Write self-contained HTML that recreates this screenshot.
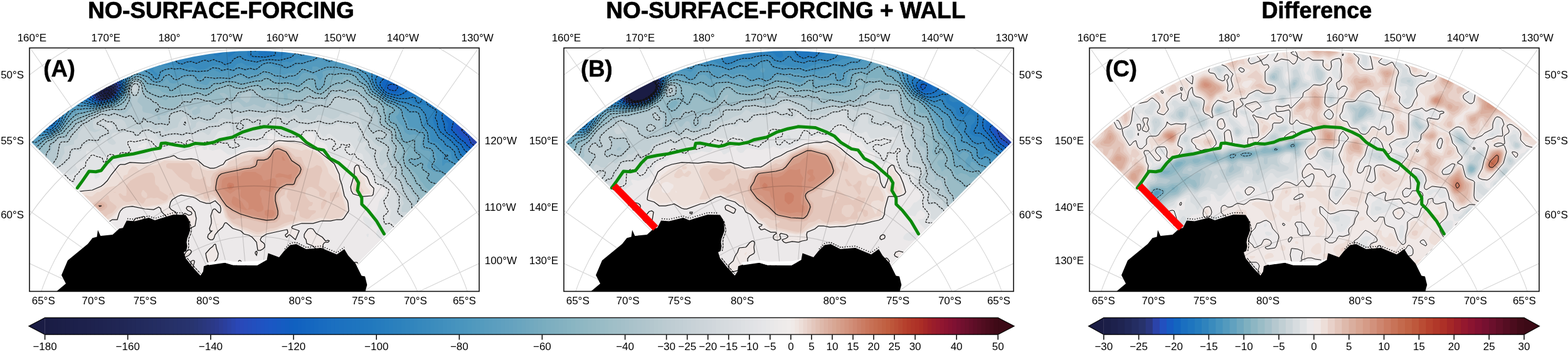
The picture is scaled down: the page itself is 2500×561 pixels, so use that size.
<!DOCTYPE html><html><head><meta charset="utf-8"><title>figure</title><style>html,body{margin:0;padding:0;background:#fff;overflow:hidden}svg{display:block}</style></head><body><svg width="2500" height="561" viewBox="0 0 2500 561"><rect width="2500" height="561" fill="#fff"/><defs><clipPath id="fr0"><rect x="47" y="76.4" width="717" height="388"/></clipPath><clipPath id="wd0" clip-path="url(#fr0)"><path d="M405.5 587 L50.2 226.7 A506.0 506.0 0 0 1 760.8 226.7 Z"/></clipPath><mask id="mwd0" maskUnits="userSpaceOnUse" x="0" y="0" width="2500" height="561"><path d="M405.5 587 L50.2 226.7 A506.0 506.0 0 0 1 760.8 226.7 Z" fill="#fff"/></mask><clipPath id="fr1"><rect x="899" y="76.4" width="717" height="388"/></clipPath><clipPath id="wd1" clip-path="url(#fr1)"><path d="M1257.5 587 L902.2 226.7 A506.0 506.0 0 0 1 1612.8 226.7 Z"/></clipPath><mask id="mwd1" maskUnits="userSpaceOnUse" x="0" y="0" width="2500" height="561"><path d="M1257.5 587 L902.2 226.7 A506.0 506.0 0 0 1 1612.8 226.7 Z" fill="#fff"/></mask><clipPath id="fr2"><rect x="1737" y="76.4" width="717" height="388"/></clipPath><clipPath id="wd2" clip-path="url(#fr2)"><path d="M2095.5 587 L1740.2 226.7 A506.0 506.0 0 0 1 2450.8 226.7 Z"/></clipPath><mask id="mwd2" maskUnits="userSpaceOnUse" x="0" y="0" width="2500" height="561"><path d="M2095.5 587 L1740.2 226.7 A506.0 506.0 0 0 1 2450.8 226.7 Z" fill="#fff"/></mask></defs><g clip-path="url(#fr0)"><g mask="url(#mwd0)" fill-rule="evenodd"><rect x="43" y="72" width="724" height="396" fill="#1a1c44"/><path d="M45 72l722 0 0 396-724 0 0-396zM166 144l-1 2 2 3 4 0 3-3 0-2-3-1z" fill="#1b1e47"/><path d="M45 72l722 0 0 396-724 0 0-396zM165 142l-3 4 3 4 8 0 4-4-1-4-3-1-4 0z" fill="#1d214c"/><path d="M45 72l722 0 0 396-724 0 0-396zM165 140l-5 4 0 4 3 4 8 0 4-1 3-3 1-4-2-4-6-1z" fill="#1f2451"/><path d="M45 72l722 0 0 396-724 0 0-396zM167 138l-6 4-3 4 1 5 4 3 6 0 5-2 3-2 3-4 1-4-2-4-4-1z" fill="#212859"/><path d="M45 72l722 0 0 396-724 0 0-396zM171 136l-8 3-6 5-1 4 3 6 4 1 8-1 6-2 3-4 2-6 0-4-5-2z" fill="#242d62"/><path d="M45 72l722 0 0 396-724 0 0-396zM177 134l-12 3-6 3-5 8 1 5 4 3 4 1 10-2 5-3 5-6 1-8-3-3z" fill="#27326b"/><path d="M45 72l722 0 0 396-724 0 0-396zM170 134l-10 4-7 8-1 4 2 4 3 2 6 2 10-2 6-3 4-5 3-8 0-4-1-2-6-1z" fill="#2a3780"/><path d="M45 72l722 0 0 396-724 0 0-396zM174 132l-13 4-7 6-4 8 4 6 5 3 6 0 10-3 6-4 6-10 1-4-1-4-2-2-2 0z" fill="#2b43a9"/><path d="M45 72l722 0 0 396-724 0 0-396zM181 130l-10 2-12 4-9 10-2 4 1 4 5 4 7 2 12-2 7-4 6-8 4-8-1-4-2-3zM750 216l3 11 8 5 4 0 1-2-2-4-13-10z" fill="#2250bf"/><path d="M45 72l722 0 0 143-6-1-8-9-8-1-14-5-2 0-2 3 0 4 6 8 10 7 6 9 5 4 5 7 8 3 0 224-724 0 0-396zM171 130l-12 5-9 9-4 8 5 6 8 3 14-3 8-3 5-7 4-6 1-4 0-4-2-4-4-1z" fill="#165bc2"/><path d="M45 72l722 0 0 132-28-6-8-4-6-2-2 2-3 12 1 2 13 14 7 5 4 5 6 5 6 8 10 3 0 220-724 0 0-396zM177 128l-8 1-12 6-9 9-4 10 7 6 8 2 14-3 8-3 9-12 2-4 0-6-1-4-2-2zM619 136l-1 2 1 4 8 3 4-1 3-6-1-2-6-1-4 0z" fill="#1365c0"/><path d="M45 72l722 0 0 128-14-2-3-2-5-5-6 2-15-9-13 1-2 1 0 2 6 10-2 8 1 4 9 6 7 8 9 6 3 6 7 5 6 7 4 2 8 2 0 216-724 0 0-396zM184 126l-13 1-14 6-13 15-3 6 1 2 7 5 8 2 16-3 9-4 10-12 2-8-1-8-4-1zM614 126l-5 6 0 4 6 8 3 2 9 3 6 0 3-1 3-4 5-4-2-4-3-2-14-6z" fill="#1a6fc0"/><path d="M45 72l722 0 0 123-10 0-3-3-1-12-2-1-6 5-6 3-13-7-11 0-8-4-2 1-1 1-1 4 4 22 3 6 10 8 7 8 8 6 4 8 2 2 8 5 14 11 4 7 0 203-724 0 0-396zM420 80l0 2 3 2 3-2 0-2-3-1zM610 124l-5 6-1 4 4 6 8 8 19 5 14-3 3-2 1-2-1-2-5-8-5-4-15-7-10-1zM168 126l-11 5-9 9-8 10-2 6 1 2 10 5 10 1 18-4 8-6 9-12 1-8 0-6-2-2-6-1zM87 190l-7 6-3 6 4 1 4-3 7-10-3-1z" fill="#1e75bf"/><path d="M45 72l369 0-2 10 0 4 3 3 8 1 10-2 3-2 1-4-5-10 296 0 3 3 4 0 2-1 1-2 29 0 0 59-6 1-1 4 3 10-4 4-4-1-4-3-4-8-8-9-4-1-2 2 4 20 6 8 2 8 0 2-6 8-4 2-17-4-13-11-12-3-4-2-4 2-3 4 1 2 12 7 3 3-1 12 3 14 3 7 16 13 6 7 6 5 4 10 2 2 10 5 6 5 7 4 7 12 0 196-724 0 0-396zM678 88l-3 4 1 8 3 5 2-1 1-2 2-12-1-3zM738 98l1 2 0-2zM710 110l-3 2-1 2 3 3 5-1 2-2-1-2-2-2zM673 120l-1 6 3 3 8 3 6-4 1-2-1-2-6-1-8-4zM604 122l-3 4-1 4 5 10 10 10 16 5 18 0 14-3 3-4 1-4 2-4-1-6-3-4-4 1-4 6-2 1-9-8-17-8-12-1zM168 124l-11 5-19 19-3 4 0 6 12 6 10 1 20-4 6-3 4-4 6-7 2-5 2-8-1-8-2-2-5-1zM86 186l-10 12-2 6 1 2 4 0 4-1 5-5 5-6 2-6-2-2-4-1zM765 164l2 0 0 4-3-2z" fill="#257cbe"/><path d="M45 72l292 0 6 6-2 9 1 1 5 2 8-5 2-3 1-4-4-6 43 0-1 6-2 4 0 6 5 4 10 2 38-4 8-4 6-4 10-4 2-2 1-4 11 0 2 4 2 0 8 0 2 0 2-4 169 0-3 4 1 8-1 8 2 9 4 5 1 4-13 13-8 3-6-3-10-1-8-4-12-1-8 2-8 0-3 1-2 6 1 4 5 10 13 12 18 6 22 1 6 5 4 2 12 1 14 10 2 3-3 6 0 4 2 8 9 15 18 14 9 11 3 8 4 6 9 2 5 5 8 4 4 9 6 8 0 188-724 0 0-396zM371 82l-6 2-2 2 0 3 2 2 10-7 0-2zM286 94l1 2 4-2-2-1zM168 122l-11 5-12 12-10 8-3 5 0 8 15 6 10 1 20-5 6-3 5-5 7-8 1-4 2-18-1-1-4-1-14 1-8-1zM90 182l-5 2-9 10-5 8 0 5 4 2 6-1 11-10 4-6 2-6-1-2-2-1zM453 72l6 0-2 3-2 0zM701 72l19 0 1 2 5 4 1 2 0 2-4 4 3 6-3 6-6 2-4-5-2-1-10 2-4-3-2-3 0-2 6-6 0-4-1-6zM751 72l11 0-2 8 3 6-1 2-5 1-8-1-3-2 4-6 0-8zM691 98l4-1 4 0 1 7-1 5-8 3-4-1-1-3 2-6zM707 125l6 0 13 9 1 10 0 2-2 2-6 3-4-2-5-7-10-4-1-2 0-2zM719 156l2 2 0 2-2 3-3-3 1-3zM729 159l6 0 2 3-2 6-4 3-4-1-2-4 1-4z" fill="#2f83bd"/><path d="M45 72l235 0-3 4-6 1-3 1-3 4 0 4 4 5 9 1 3 6 4 3 6 1 14-4 8 3 12-5 3 0 5 2 4-2 4-1 6 3 6 1 6 4 9-3 5-6 10-4 6 5 10 2 10 2 10-3 10-1 16 1 6-1 14-4 6-6 2 0 8 3 4-1 9-5 7-2 2-2 1-6 119 0 2 3 2 1 7-4 1 6 4 4 3-2 1-2-2-6 17 0-1 12 4 8 2 8 1 8-2 4-9 5-8-1-5-2 4-16 6-8 0-2-1-1-4-1-12 4-3 2-1 4 2 10-3 4-5 2-6 0-8 4-10-1-6 1 1 12 6 12 15 14 22 8 12 2 8 4 8 2 5 2 8 10 4 16 10 8 8 14 7 5 4 7 6 2 2 1 5 5 2 8 5 7 4 2 6 1 6 5 6 3 7 12 7 18 0 172-724 0 0-396zM166 120l-11 5-8 10-17 11-2 6 1 11 18 4 10 1 22-6 6-3 6-7 5-6 2-6 3-16-1-4-5-1-16 2-8-2zM88 180l-6 4-10 12-4 8 0 4 1 2 8 1 4-1 10-7 5-7 5-14-6-3zM309 72l8 0-4 6-4 2-2-2z" fill="#3a8bbd"/><path d="M45 72l43 0 9 9 4 2 2-1 1-2 0-8 16 0-3 6 0 2 2 1 2-1 1-2 0-6 128 0 0 6 2 8 0 2-5 3-6-2-3 1-4 20 9 5 6 7 2-1 0-3-6-5-1-3 3-3 12-3 10 0 6-1 4 1 20 5 6-3 10 5 6 0 6-1 10-5 4-1 9 0 7 4 8-1 6 2 7-7 7-2 4 2 4 3 6-1 8 2 10-6 6-2 8 0 16 2 10-2 6 2 12-7 4 3 6 0 11-4 6-6 6-4 3-3 2 0 4 2 6 0 6 5 4 0 2-2 1-4-5-5-1-3 77 0-1 6 1 2 6 2 4 9 6 5 0 4-2 3-6 2-8 6-10-3-11 6 11 27 20 16 20 8 10 2 8 7 8 0 4 2 5 6 4 18 9 8 2 15 2 2 9 3 9 11 8 2 3 1 1 2 1 8 3 4 10 6 8 2 6 4 9 12-1 12 12 12 0 164-724 0 0-396zM118 102l-5 6-6 4 1 2 5 1 4 5 2 1 10-2 3-3 1-3 4-1 3-6 0-2-3 0-4 2-2 5-4-1-8 1-1-1 5-6-2-2zM167 116l-6 3-8 1-2 2-2 7-6 6-16 5-7 12 5 12 2 2 10 1 8 2 12 0 24-7 6-4 6-6 4-5 2-5 4-20 0-4-6-3-16 2-8-2zM92 176l-9 4-10 11-8 13-1 4 1 5 6 1 10-2 11-8 5-6 8-18-6-5-4 0z" fill="#4693be"/><path d="M45 72l20 0 0 2 4 2 16 4 5 4 11 6 1 4 0 6 2 2 0 2-4 8 1 8-2 0-16-4-7 0-3 2 0 6 2 4 8 4 2 6 5 4 2 6 5 4 4 1 4-3 0-8 2-1 4-1 4 1 3 1 0 2-4 10 4 8-1 2-6-5-6 0-2 2-6 9-14 7-4 3-6 6-12 18-1 4-1 11 20-5 14-9 7-9 8-16 9-10 2-1 18 0 14 2 24-5 11-6 12-12 5-20 5-10-1-4-6-4-6-1-8 2-4-4-2-1-4 3-4 0-3-3 0-2 6-8 0-4-7-4-2 0-8 5-2 0-4-4-6 2-14-11-1-2 6-6 13 0-3 2 9 3 4-2 0-3 33 0 1 4 4 3 4-2 1-5 25 0 0 6 4 6 0 4-1 10-5 14 12 7 6 7 4 1 4-1 6-10 4-3 10-3 6 2 8 0 14 3 8 0 6 1 18-2 6-3 2 0 10 5 12-4 8 3 8-5 12 3 8-2 10 2 10-9 8-2 4 0 6 4 8 1 10 3 12-2 6-5 10-1 10-3 8-1 6-3 4 0 12 5 10-2 6 1 8 4 8 0 18 9 10 7 6 10 6 13 4 4 18 13 12 5 13 6 7 8 4 2 2 1 6-2 4 2 2 3 4 16 8 8 2 4 0 14 2 3 9 3 13 14 0 18 2 0 3-4 3-1 4 1 6 2 4 7 14 1 4 2 3 4 1 4-1 12 19 22 0 154-724 0 0-396zM63 158l-1 2 1 2 1-4zM50 162l-1 2 0 2 2 1 2-1 2-2-2-1zM75 72l3 0-1 2-2 1-1-3zM539 72l63 0-13 10-4 1-4-1-3 2 1 4 5 6 0 2-3 3-4 2-8-8-2 0-6 7-4 2-11-8-5-16-3-6zM155 97l2 0 5 5 3 4-3 4-5 4-5-2-3-2 0-2 4-10zM135 124l6-1 3 3-1 2-4 4-6-1-2-3z" fill="#539abe"/><path d="M45 72l6 0 4 8 0 4-12 1 0-13zM177 73l2 7-1 2-3 1-1-3 1-5zM213 73l10-1 1 6 4 8-3 14-6 4-6-1-8-6-10-3-3-4 0-2 2-2 9-1 4-2zM545 72l14 0-2 8-2 3-2 0-8-7-2-4zM77 89l6 5 8-3 2 1-5 12-3 4-14 2-4-1-2-3 1-2 8-8zM499 106l6 0 6 3 10-3 14-1 18 4 16 5 4 2 14 15 5 11 3 4 22 16 12 4 11 8 5 10 4 6 3 12 13 3 4 3 6 2 2 2 1 4-2 10 1 5 2 2 8 3 4 2 3 4 1 6 2 4-1 4-5 8 2 4 10 4 24 10 4 1 4-2 6 7 2 9 8 7 8 11 8 3 0 150-724 0 0-285 7-3 5-3 6 1 2-6 9-6 1-2-5-16 1-1 2-1 5 4 5 2 4 3 7 1 3 4 1 4-3 4-10 4-10 10-5 2-5 12-9 8-1 4 2 6-2 8 1 2 1 1 4 0 8-5 14-5 14-9 6-8 10-17 4-5 4-3 4-1 6 1 8-1 14 0 26-6 8-3 13-13 7-23 4-5 6-5 4 0 14 2 5 3 5 6 8 2 5-2 4-6 3-3 8-2 2 0 4 5 4 2 2 0 5-4 5-1 12-1 4 1 6 6 4 1 5-6 3-1 16 4 14-1 8 1 4-1 8-4 6-1 4 0 8 4 2 0 4-3 6 1 4-1 8-6 2-1 20 7 12 1 8-3 6 1 4-1 4-2 6-6 4 0 12 4 1-2 0-4zM45 122l4 0 10 1 4 6 7 5 1 4-6 5-4 5-4 2-2-3 0-9-2-3-4-1-6 2 0-13z" fill="#61a1bf"/><path d="M217 84l2 2-2 2-2-2zM521 112l16-1 22 3 8 3 18 17 5 10 3 3 14 9 10 8 14 6 4 4 2 4-2 4-4 4 1 2 5 9 6 5 2 8 2 2 6 3 8-1 10 4 2 4-3 12 1 3 4 2 8 1 3 2 1 4-6 18 1 4 11 6 10 2 4 4 1 4 5 4 8 1 2 5 8 6 0 6 3 4 5 2 8 1 5 5 3 2 12 3 0 145-724 0 0-231 18-9 10-7 10-4 6-5 8-4 12-17 10-11 6-3 6 0 8-2 12-1 36-9 10-9 4-5 6-21 2-4 4-4 6-2 4 0 10 3 3 1 6 6 11 3 8-1 6-6 2 0 4 6 4 1 4 0 14-8 12-3 4 2 2 6 2 2 16 4 3-2 3-5 2-1 32-1 10-5 4 0 4 1 6 4 4 1 16-5 8-5 8 2 10 6 10 2 16 0 10-1 6-9 4-2 4 0 4 1 4 2 7 1 5 8 2 0 4-6 0-3-1-3 1-2zM51 186l4-1 2 1 2 2 0 3-3 3-13 7 0-9 4-1zM43 206l6 7 2 3-2 6-2 3-4 1z" fill="#70a8bf"/><path d="M525 118l8 1 12-2 6 1 8 0 6 2 4 4 4 6 10 6 8 12 16 10 8 8 12 7 2 3-1 2-7 4 0 10 10 6 7 14 3 10 2 3 6 2 8-3 2-1 2 1 1 18 8 6-1 4-8 2-6-1-2 1-1 2 1 3 10 6 6-4 4-1 0 8 1 2 11 8-4 4 0 2 4 6 10 3 8-2 8 3 4 4 2 8 1 2 11 9 6 1 0 6 2 5 4 3 13 4 1 2 1 6 8 6 3 8-3 10 3 4 0 96-724 0 0-226 9-2 20-18 11-4 6-5 8-4 10-13 10-10 8-5 6 0 36-10 14-3 6-3 10-8 3-5 7-24 4-3 6-3 5 0 7 4 6 7 26 5 6 0 4 6 2 1 18-11 16 5 20 3 7-2 6-6 3-1 8 0 14-3 10 1 12 3 22-5 8 0 8-4 4 1 8 6 10 1 10-1 10 2 8 4 3-2 13-10 8 0 3 2 3 14 4 1 7-7 3-12 3-4zM44 214l1 2 0 2-2 1 0-5zM765 334l2 2-2 2-2-2 0-2z" fill="#7fb0c0"/><path d="M217 124l4 1 6 3 6 10 4 4 4 0 2-2 10 2 6 5 6 1 8 3 38-5 8 0 8 3 8-3 10-7 18-6 6 1 8 3 6 2 5-1 9-3 14-1 4 0 6 4 6-3 6 3 8-1 8 1 8-2 18 7 4-1 6-6 6-2 2 1 10 11 6 1 4-1 12-10 2-4-1-4 1-1 8 1 10-1 3-3 3-1 4 0 4 1 5 6 17 8 6 10 18 12 12 12 1 2-2 6 2 14 11 9 4 7 3 12 14 18 0 4-3 8 0 8 19 20 4 8 4 4 4 6 7 6 10 5 8 1 12 6 14 11 3 3 3 8 2 3 10 6 8 4 6 5 0 6-6 8 0 6 1 4 5 6 1 2-1 12 1 14 2 6-1 8 4 5 0 35-724 0 0-221 2-1 8-2 7-6 5-6 8-8 10-3 6-6 8-3 18-20 8-6 40-13 22-4 6-4 8-7 3-4 3-14 3-10 3-3z" fill="#8db6c3"/><path d="M217 126l4 1 5 3 3 6 2 8 4 4 16 8 14 4 4-4 2 0 8-1 8-2 18-1 8-2 4 0 8 3 4 1 6-2 10-8 18-6 4 0 6 4 12 0 14-4 12 0 8 7 2 1 6-3 14 1 11 6 1 10 2 1 4-3 0-2-1-6 1-1 10-2 10 1 8-6 4 0 12 8 8 1 4-1 14-12 16-3 8-3 8 2 8 4 9 2 2 2 2 6 2 2 11 8 8 4 4 4 2 4 1 8 3 8 0 8 6 7 6 3 4 4 1 4 0 8 9 12 2 4 1 6-2 8 3 12 10 14 3 8 3 3 2 5 7 6 2 6 9 4 10 8 1 4-5 12 1 4 3 1 6-1 3-2 2-4-1-10 2-2 2 1 6 4 12 5 6 7 5 9 3 12 0 16 4 2 4-3 2 3-2 4-7 6 0 4 5 7 2 0 4-4 2 0 2 3 3 8-3 14 6 6 2 8 8 10 0 4-2 4 2 3 0 17-724 0 0-202 5-8 1-6 14-12 12-14 10-4 6-6 10-3 4-6 6-5 8-9 40-17 12-3 16-2 8-5 8-10 2-14 3-10 4-4z" fill="#9abcc6"/><path d="M217 128l4 1 3 3 3 4 2 11 6 7 16 8 6 6 10 4 10-1 3-1 5-4 3-6 3-1 10 0 8-3 6-2 12 4 10 1 8 4 4 1 5-2 2-2 1-2-2-4-5-4 1-2 6 0 6 4 4 5 2 0 4-3 5-8 11-1 10-3 4 0 5 2 13 10 6 2 10 2 10 6 4 2 10-2 8-8 6 3 6-1 10-8 4 1 6 3 16 1 10-11 4-2 6 1 12-1 5-2 7 0 12 4 2 2 2 4 8 6 6 9 4 2 4-1 4 2 1 10 4 8 0 6 0 4 10 8 5 3 3 3 1 14 6 6 2 4-1 6-3 8 1 4 8 12 2 6 1 7 5 5 3 8 5 4 6 12 11 11 0 2-5 3-1 4 2 4 4 4 0 8 2 2 6 2 14 0 8 3 6 1 6 4 8 4 4 4 0 4-5 4-2 6 8 6 1 6 5 6-2 8 1 4 8 20 2 1 8 1 2 1 6 9 1 4-2 12 8 14-723 0 0-189 4-3 1-2 0-8 3-3 7-3 1-2 1-8 1-2 10-4 6-5 0-9 2-2 6-2 8-8 10-2 18-20 40-19 11-3 17 0 8-4 7-10 2-4 0-12 3-10 4-5zM66 248l1 3 2 1 2-2-2-3zM429 149l2 0 2 1-2 3-3-1 0-2z" fill="#a7c1ca"/><path d="M217 130l5 2 3 6 0 12-5 8-1 4 8 8 0 6 2 3 12 2 10 5 0 4 2 1 3-1 0-2-2-2 2-2 7 0 7-6 11-3 12-6 4 0 4 6 2 0 7-5 3 0 2 2-8 4-1 2 1 4 4 2 8-4 1-4-2-4 5-3 8-2 2-1 4 5 8 0 8-3 12-1 14-5 4 3 6 6 10-2 6-3 12 5 4 1 2-2 1-4 3-2 2 1 8 5 14 2 6-3 8 1 6-5 4-1 12 1 4-5 2 0 8 1 8-3 10 3 2-1 8-10 12-3 16 7 10-2 10 6 4 3 10 15 6 4 5 6 1 10 1 4 17 10 1 2 0 4-2 8 5 12 1 4-2 10 4 6 9 8 1 4-1 12 6 6 4 9 6 7 4 8 5 4 0 16 5 8 1 6 3 3 22 7 4 8 6 4 4 10 8 10 4 9 5 5 5 11 2 7 4 8 2 6 4 4 8-1 3 3 2 10-1 8 4 6 1 6-715 0 0-185 9-5 1-2 1-6 1-2 8-3 6-5 9-2 0-2-1-10 5-8 1-6 10-10 4-1 8 0 2-1 4-7 14-15 18-10 18-9 20-3 16 5 4-2 10-11-2-6 1-6-3-10 1-4 3-9zM397 146l2 1 2 1 0 4-4 10-4 2-10-7 0-3 2-4z" fill="#b5c8cf"/><path d="M213 134l4-1 2 1 3 4-1 6-1 4-5 4-4-2-2-5 1-7zM539 154l12 2 6 3 8-1 8 4 7 8 3 9 9 7 0 6-5 8 2 5 6 7 10-4 4 1 7 5-1 3-4 4-8-1-3 0 0 2 3 2 10 5 6 5 1 4-3 8 1 4 3 6 4 10 6 1 1 7-2 8 1 2 7 4 5 16 8 14 5 6 2 14 9 10 12 4 5 4 14 18 3 8 8 7 3 5 1 9 8 6 3 3 0 6 4 8 2 10 9 9 8 0 2 1 0 4-2 8 5 10-709 0 0-150 2-6-2-7 0-17 12-6 6-10 16-4 4-3 6-7 4-7 5-23 3-2 8 0 2-1 5-9 17-18 10-4 6-5 16-7 12 2 8-3 16 6 2 0 6-3 5 4 6 8 3 2 4-2 4-8 6 6 6 0 6 4 10-1 8 2 4-1 1-2 0-10 2-4 3-2 14-4 12 7 8 7 8-3 14 4 8-2 3-3 3-6 6-1 5-5 5-1 6 1 2 7 4-4 2-1 8 3 14-3 24 3 8-3 22 3 10-1 8-3 5-7 3 0 4 2 1 8 3 1 8-3 6-5 4-2 10-1 8 3 6-5 6-10z" fill="#c1cfd4"/><path d="M215 136l2 1 1 3-1 4-2 3-2-1-2-4 1-4zM563 178l8 1 2 2 0 7 4 10 8 18 6 5 4 5 8 7 7 1 1 2-6 8 0 15 2 4 2 1 4-5 2-1 2 2 0 5-2 2-4 1 0 2 8 5 3 3 2 12 8 6 4 8 5 7 1 9 2 4-3 5-1 7 1 2 6 0 2 1 18 14 10 3 2 4 8 8 8 16 12 10 1 14 5 8 6 6 8 18 6 6 3 4 3 12 5 6-701 0 0-141 3-3 7-16 0-2-4-6 0-4 4-6 8-8 20-8 6-7 5-5 5-6 3-8 3-4-1-10 3-1 13-3 0-6 6-4 1-8 8-10 3-2 3 1 3 7 9 3 8-3 1-2-1 0-6 1-4-3-1-8 1-3 2-2 14-5 8 4 18 0 3 0 5 4 4 9 4 2 6 0 8 2 8-3 10-2 8 5 8-4 2 0 2 1 4 5 2 1 10-5 8-2 2-7 5-8 3-2 5 0 3 3 4 9-3 6 1 2 2 1 7-5 1-6 4-3 12 4 18-2 3-5 5-2 8 2 6 0 4-1 4-3 20-1 8 3 8-2 6 1 14-5 8 2 10 1 8 4 4-2 6-5 4 2 5 6 3 2 6-3 12 3 4-2 4-7 8 1 12 5 4 1 9-4 3-5 4 0 6 3 2-1z" fill="#ccd5d9"/><path d="M441 190l2 0 2 2 1 4 8 6 3 5 4 2 4 0 1-5 7-1 4-4 2-1 14 2 14-5 12 6 14-1 4-4 2 0 6 2 10 1 6 5 2 0 4-1 7 9 0 2-4 8 0 2 5 4 2 0 4-3 3 1 1 4-4 6 1 2 6 6 7 11 5 11 7 10 1 8 3 4 12 9 7 9 3 10-1 4 2 6-2 8 0 6 11 9 12 0 6 3 5 6 5 13 4 3 10 4 5 10 9 6 0 10 6 16 2 2 6 2 2 3 3 5 0 4-1 6 0 2 12 5 4 13 3 6-693 0 0-137 4-1 2-1 3-7 6-6 5-8 0-6-3-6 3-8 4-3 12 0 4-2 6-11 8-6 8-4 2-4 6-6 2-8 3-4 3 0 6 1 2-1 4-8 12-5 4 0 8 1 2-1 5-7 5-2 3 2-1 4 2 4 6 3 4-1 2-2-1-2-5-6-2-4 2-3 4-2 18 0 8 0 2 1 2 4 4 2 4-1 8-7 6 0 13 4 5 7 4 1 12-5 14-1 8 2 8-4 12 0 10-4 4 1 6 4 2 0 2-2 2-5 2-2 24-8 3 0 1 2 1 4 3 4 12 1 8-5 2-4 0-6 8 4 6 1 8 7 4-1 8-3 8-6 4-5zM163 194l2 0 2 2-2 2-4-2zM173 196l3 0 2 2 2 6-2 2-3 1-6-5-1-4z" fill="#d7dcdf"/><path d="M433 204l6 0 10 10 5 2 17 2 6-2 8-9 12-1 8-2 2 1 6 11 3 2 3 0 3-4 3-1 2 1 12 10 6 1 6 2 6-1 2 1 10 16 2 1 4 0 3 2 2 8 5 10 6 3 3 3 3 4 4 16 18 10 3 2 1 4-2 8-5 6 8 16-3 10 1 4 5 5 6 4 6 7 6-2 6-7 4-1 2 1 4 7 0 8 2 2 8 4 3 4 2 10 3 3 10 3 3 2 5 12-2 10 4 10 1 22 1 3 10 3 3 8-671 0 0-102 9-2 1-2-2-1-8-1 0-25 8 1 8-6 8-3 14 6 2-7-1-8 1-8-1-6 3-12 12-12 4-6 4 0 6 6 12-7 1-3-4-6 1-3 4-3 6-1 6-5 1-2-1-6 1-4 1 0 6 2 4 1 6 3 12 4 6-7 12 1 8-4 10 0 2-2-1-2-3-6 0-4 2-3 2-1 12 1 14-5 12 3 2 1 4 8 4 3 18-8 10-2 12 2 8-5 18 6 8-3 12 1 9-14 5-2 6 0 2 2 1 4-3 6 0 2 2 0 2-2 1-4 1 0 20 0 10 3 14-1 8-2 5-6zM67 340l0 2 1-2zM707 430l2 0 2 2-1 2-1 1-2-2z" fill="#e1e3e5"/><path d="M489 212l6-1 4 1 3 8 3 4 10 3 4 3 2 2 2 8 3 6 4 4 9 5 2 0 10-4 10 5 6 0 8 3 3 3 3 8 11 12 4 10 3 2 10 4 5 4 1 4-3 6-7 8-4 16-5 8-1 9-2 0-6-6-6-3-2 0 0 7 8 12 2 1 6-8 7 6 1 2-3 6 0 4 3 5 2 1 4-1 6-3 5-6 3 0 5 0 5 5 8 3 4 10 9 8 3 8 4 2-1 8 1 3 4 4 6 8 10 1 4 6 8 6 0 2-3 6 1 8-2 6-6-1-2 1 1 4-639 0 0-67 3-1 1-2-1-6 0-2 11-5 6 1 4 4 2 0 5-2 1-2-2-11-4-5 1-4 5-4 12-2 8-10-3-8 5-8 0-2-2-2 0-2 6 5 4 1 1-2-1-7-8-11 7-6 0-10 2-2 3-1 14 2 3-1 4-6 0-8 5-7 4 0 10 3 2 2 0 4 2 1 5-3 1-2-1-8 2-4 3-2 18-5 6-3 10-1 8-3 14 0 16-1 6-5 4-9 8 1 14-2 8-6 10 2 4 4 4 2 6-3 8-6 6-1 6 2 3 2 3 5 2 0 3-1 0-4 1-1 2 1 0 4 6 2 12-3 12 9 4 1 6-2 10-6 14-5 12 1 6-4 11-1 2-2 0-2-2-6 0-4 1-2 4-1 2 0 6 5 16 3 10-1 14 1 4-1 3-6zM587 372l-3 2 1 3 2 1 1-4zM609 422l-1 2 0 4 5 2 2-2 0-4-2-2zM229 228l4 0 1 2-1 5-2 1-11 0 0-2zM93 316l2-1 1 1-3 2-1-2zM43 340l4 2 1 2-1 2-4 1z" fill="#ece9ea"/><path d="M445 224l14 1 10 0 12 2 14 8 12 5 26 21 8 17 8 34 5 8 1 4 1 12-8 12-3 2-18 2-14 0-14 4-18 0-14 4-2 2 1 2 11 4-6 14-8-7-2-1-4 4-2-2 0-2 4-4-1-4-1 0-32 7-8 5-2 4 6 6 1 2 0 4-3 3-8 2-2-13-7-8-5-3-8-2-8-6-10-3-10-9-3 1-3 6-12 12-2 6-2 2-4 0-3-2-1-2 1-4 6-6-3 0-1-4 3-8-1-12 3-9 2-2 2 0 6 6 2 0 1-3 0-4-1-4-8-8-8 4-6 0-10-3-12-7-18-3-6 2-8 5-3 4-2 8 3 4 7 4 3 6 2 3 2 0 6-6 2-1 6 3 4-1 1-2-1-2-6-3-2-3 2-3 6 1 6 8 2 10-2 12-8 4-4 4-4 2-14-3-11-9-3-4-1-8-8-8-2-6-3-2-8 4-14-1-20-4-10 1-5 2-4 4-5 14-8 0-18 12-10 2-4-1-7-5-26-30 0-18 2-6 3 0 8 1 20-2 14-6 4-3 6-6 18-24 3-2 7 0 8-3 32 0 14-5 18-4 6-2 6 4 4 1 6 1 12-1 6 1 4 1 10 9 5 2 5 2 6 0 15-6 4-6 25-12 12-3 16 0 6-1 10-5 9-9zM567 264l2-1 3 1 3 10 10 8 5 12 6 6 0 2-1 8-2 2-14 1-10-2-6-2-3-5-1-6 6-20 0-10zM225 346l4-1 2 1 0 2-12 7-4 1-2-2 3-6zM495 364l4 1 5 7 10 6 5 6 4-1 2 1-2 2-4 0-2 1-2 3 0 6 5 6-2 2-4 2 2 6-2 2-7 0-4-2 0-4 2-3 8 1 1-2-1-2-2-2-6-2-6-6-10-4-1-6-3-4 0-4 2-4 4-5zM253 367l2 1 0 3-2-1zM199 374l2 2 0 2 0 3-2 1-2-6zM289 376l2-1 2 1 0 4-2 3-2 0-3-3zM169 382l2 0 1 2 0 2-3 5-2 2-2 0 0-5zM199 384l1 2 0 8 2 2 4 2 1 2-2 3-4-1-2-2-4-9 1-5 1-1zM341 390l2-1 1 1 1 6 3 8-1 6-2 4-4 4-8 2-2-3-2-7-1-6zM469 392l4 2 6 0 0 2-2 4-4 4-8 6-4-1-3-3 2-10 3-2zM265 396l4-1 2 1-4 8-3-6zM301 398l2 0 2 2-1 4-3 3-8 3 0-2 4-7zM409 400l1 2-1 5-2-3 0-2zM71 404l2-1 2 1 1 2-1 2-2 0-2-1zM257 408l4-1 2 1-1 4-5 2-5-2 1-2zM305 416l2-1 2 0 1 1-2 8 0 4-1 2-6 1-2-3 0-2 5-4zM381 415l2 0 5 5 7 4 3 10-7 5-4 8-6 5-8-2-4-2-4-8-6-5-2-3 2-4 6-5 10 0 2 0zM211 418l4-1 4 1 8 14 0 4-2 2-4 1-6-2-2 0-1 3 3 4 2 4-2 3-6 1-2 2-4 5-6 5-2 4-25 0 3-6 0-8 4 0 6 4 4 1 8-4 6-4 6-3 1-4-3-1-10 3-6-1-8-5-1-6 1-2 2 1 8 6 10-5 6-1 2-3-2-8 0-2zM565 418l4 0 2 2 1 4-2 4-3 1-3-3-1-4zM527 425l4 1 1 2-1 2-3-2-2-2zM85 436l6 0 7 6 1 4-2 5-2 1-2 0-9-8-1-4zM413 436l2-1 2 2 2 9-2 2-8-2-2-2-1-4 1-2zM519 442l4 2 2 2 0 12 2 3 7 3 0 4-28 0 1-3 3-5 0-10 5-6zM545 441l2 0 2 4-2 1-2-3zM321 446l10-1 4 3-1 2-9 7-4 2-10-1-8-4 10-2zM433 446l4-2 4 2 5 10 0 4-7 8-17 0 0-16 1-2zM271 450l2-1 3 1 2 4 1 5-2 1-10-4 0-2zM465 450l8-1 6 1 16 8 2 4-1 6-37 0-4-8 5-8zM597 456l10 5 10 0 8-3 3 0 2 2 0 8-41 0-1-4 1-2zM81 458l2 1 1 1-1 8-14 0zM133 458l6-1 6 5 10 4 2 2-23 0-4-4 0-2zM559 458l6-1 6 3 3 4-1 4-20 0 2-8zM249 463l4 1 3 4-9 0 0-4zM345 464l4 2 1 2-10 0 1-2z" fill="#f0e8e6"/><path d="M439 228l4-1 38 2 12 8 14 6 8 5 16 16 3 8 3 5 2 4 8 31 6 14 1 10-7 11-4 1-14 3-16 0-16 3-20 0-10 3-27 11-15 3-12 6-4 0-36-16-6-4-9-11-3-12-2-5-10-11-2 0-8 4-6 0-18-9-12-4-8-1-4 1-10 7-8 8-8 3-26 4-22-4-14 3-6 4-8 10-10 7-14 9-6 2-6-1-6-4-6-8-7-7-10-14 1-3 5-9 1-6 8-4 14-1 18-8 9-9 5-7 6-7 6-8 2-1 6-1 10-3 20 1 10-1 12-5 12-2 12 0 18 1 12-1 8 2 10 9 8 4 12 1 8-4 7-2 6-8 21-10 12-3 22-1 8-4zM569 279l2 0 4 1 6 4 2 12 7 8 0 4-9 2-8 0-6-2-5-4-1-6zM295 348l6 1 2 1 0 2-8 6-2 2-2 1-1-3 1-3zM347 356l2 2-2 1-2 0 0-2zM379 432l2-1 3 1 1 2-2 3-4 0-2-2zM429 463l3 1 2 4-7 0 0-2zM597 464l4-1 2 1 3 4-11 0zM623 464l2 1 1 3-7 0 2-3z" fill="#eddfd9"/><path d="M441 230l16 3 8 3 16 4 6-2 2 0 12 4 11 8 10 18 2 8 9 10 4 2 3 6 2 8 9 29 0 4-5 9-3 2-14 3-18-2-9 3-7 2-18 0-12 4-25 10-29 8-6-2-20-8-12-5-6-5-7-8-5-16-12-15-2 0-8 4-4 1-6-2-12-7-14-5-12 1-12 8-8 7-8 3-24 4-20-4-16 2-6 4-10 11-8 7-8 4-6 5-6 2-6-1-5-5-15-24 0-4 5-6 1-8 4-1 6 2 4 0 8-7 4 0 10-7 18-3 4-6 5-4 1-6 6-2 2-6 6-7 6 1 4 5 2 1 10-7 16-2 13-7 23 1 20 0 6 1 10 11 10 3 10 0 10-4 8-2 3-2 3-6 24-10 18-2 10 0 4-1 4-3 12-11zM569 288l4-1 3 1-1 10 5 6 0 2-3 2-6-1-4-2-3-3-1-2 2-6z" fill="#e9d3ca"/><path d="M441 232l10 2 8 4 12 12 9 0 5 12 4 6 2 1 8-2 6-4 6 2 2 3 1 4-3 8-3 16 13 10-4 8-2 1-6-3 0-6-4-4-8-4-4 0-4 3-2 5 0 6 4 6 4 4 3 0 1 2-2 4-4 1-2 3 1 2 3 1 6 0 3 1-1 3-6 4-4 5-4 1-9-3-2-2-1-7-2-2-6 3-4-1-2-5 1-8-7-10 0-2 2-8-2-1-2 1-1 2 0 4-6 4-2 4 5 20 4 4 8 0 4 1 4 3 1 2-1 2-4 2-14 4-11 6-7 2-4 0-16 6-6 0-5-2-11-5-6-1-16-7-8-9-6-16-14-17-6-3-2 0-1 4-2 2-3 1-3-1-1-2-1-4-19-8-2-2-1-6-3-3-6-3-8-6-11-12-7-2-2-2 0-4 3-2 32 0 3 2 5 6-3 8 1 6 5 3 8 1 4-2 2-3 2 1 2 12 2 3 4 1 2-4-1-10 4-8 11-6 11-2 9-3 7-1 5-4 6-3 8-1 6-6 4-1 12 0 4-1 3-2 7-10 4-3zM233 276l8-1 3 1 3 6 0 8 1 4 5 4 2 6 13 8-1 5-2 2-4 1-10-5-6 1-4-1-8 2-4 7-2 1-2-1-6-5-4 0-10 3-4 0-4-2-6-6-2-5 3-1 5 4 4 0 1-6-1-10 7-8 10-6 11-5zM227 304l-2 4 1 4 3 3 4 1 2-4-1-4-5-5-2 0zM183 306l2 0-2 1-2-1zM533 306l6 0 2 3 0 4-6 3-4 4-4 1-1-3 0-10zM271 308l4-1 1 1-2 2-3 1-1-1zM171 311l2 1 2 8 10 8 1 2-1 2-6 7-7 3-4 4-9 3-2 1 1 4-3 2-5 0-2-2 0-8 3-1 4 0 1-3 0-2-10-8-2-4 1-2 8-5 12-5zM517 317l4 3 0 2-6 11-2 1-1-2 0-8z" fill="#e4c7bc"/><path d="M439 234l10 1 10 5 4 4 4 8 12 8 5 6 1 4-3 8-5 8-3 8-3 4-4 2-6-2-6 1-5 3-6 8-1 4 0 6 4 18 0 6-1 4-5 6-4 1-14 1-32-8-14 0-4 2-4-1-5-5-4-12-20-28 0-4 2-16 2-6 7-5 50-11 2-2 1-6 1-2 4-2 10 1 6-1 3-4 5-8zM157 322l6-1 4 1 4 4 0 4-4 4-4 2-4 0-6-3-2-3 0-4z" fill="#dfbbae"/><path d="M439 236l8 0 10 5 3 3 6 10 13 9 3 7-1 6-7 10-3 8-4 3-8-1-6 2-6 4-5 6-1 4 0 8 4 12 0 6 0 6-2 4-6 4-16 1-36-8-16-7-12-12-14-22-1-4 2-14 3-7 6-5 49-10 3-2 2-8 4-2 8 1 6-1 4-4 6-10zM157 324l4-1 4 2 2 3-1 2-5 3-6-2-2-3 1-2z" fill="#dbb0a0"/><path d="M439 238l8 0 9 4 4 4 5 10 12 8 3 6-1 6-7 8-3 9-2 2-10 0-6 2-5 3-6 8-1 4 0 8 4 12 1 6-1 6-2 4-6 3-10 1-22-4-22-7-10-5-10-7-8-11-9-16 2-16 3-7 4-3 7-2 39-7 8-3 2-2 0-6 2-1 8 0 8-3 4-4 4-8zM159 326l3 0 1 2-2 2-2 0-2-2z" fill="#d8a795"/><path d="M439 239l4 0 4 0 8 4 3 3 5 10 4 4 8 4 3 6-1 6-6 7-4 9-10 1-6 2-6 4-7 9-1 4 1 8 4 18-2 8-5 3-10 1-24-5-20-6-20-13-15-24 1-14 4-8 2-2 8-2 38-7 10-3 3-4 1-4 10-2 6-3 3-3 5-9z" fill="#d59e8a"/><path d="M439 242l6-1 8 3 4 4 5 10 5 5 6 3 2 2 1 4-11 18-8 0-6 2-8 6-6 8-2 6 1 10 4 16 0 4-3 4-4 2-10 0-32-8-14-6-15-10-14-22 0-4 1-7 3-9 3-2 6-2 20-3 8-3 26-4 5-8 7-2 4-4z" fill="#d3947f"/><path d="M451 249l4 7-4 0-2-6zM391 274l16 0 3 2 7 4 2 6 2 2 4-1 10-3 2 0 2 1 2 7 0 2-8 12-2 0-12-4-2 0-2 3-1 5 3 6 0 6 3 8 0 4-3 3-6 1-6-4-2-1-12 2-14-5-6-4-2-4 2-8 2-1 4 2 8 6 5 9 3 3 2 1 2-4-1-6-5-5-6-4-2-3 1-10-7 0-10 7-14-10 1-11 1-2 4-3 16-3 8 1 3-5zM445 276l14 3 6-2 0 6-2 3-12-4-10 1-2-1 1-4zM427 334l8 1 2 2 1 3-2 4-3 2-6-1-3-1-2-2 0-6z" fill="#d08b74"/><path d="M365 291l6 1 2 2 0 4-4 4-4 0-3-4 0-4z" fill="#cc7f67"/><path d="M367 295l3 1-1 2-2 1-2-3z" fill="#c9775d"/></g></g><g clip-path="url(#wd0)" fill="none" stroke="#111" stroke-width="1.25"><path d="M167 144l-2 2 2 3 4 0 2-1 1-2 0-2-1-1-2 0-4 1M167 140l-4 2-2 2 0 4 1 2 3 2 4 0 6-2 2-2 1-4-1-3-4-2-6 1M167 138l-6 3-4 5 2 6 4 2 6 0 6-2 4-3 2-5 0-4-2-2-4-1-8 1M177 134l-12 3-6 3-3 4-2 4 1 5 4 3 4 1 10-2 5-3 5-6 1-6-1-4-3-2-3 0M177 132l-12 3-6 3-4 4-4 6 0 2 1 4 5 4 6 0 12-2 6-4 5-8 1-4 0-4-1-2-2-2-7 0M767 224l-4-2-5-4-7-8-8-1-6-3-2 0 3 4 9 8 4 10 5 4 5 6 6 2M179 130l-8 1-6 2-4 2-4 2-6 7-3 6 0 2 2 4 5 3 6 1 14-3 6-3 7-10 2-4 0-4-1-4-2-2-8 0M767 204l-20-5-8-1-8-4-6-2-2 2-3 12 1 2 13 14 7 5 4 5 6 5 6 8 2 1 8 2M177 128l-8 1-8 3-4 3-9 9-3 6-1 4 4 4 3 2 8 2 14-3 8-3 4-4 5-8 2-4 0-6-1-4-2-2-4 0-8 0M621 135l-2 1-1 2 0 2 1 2 2 1 8 2 2-1 3-4 0-2-1-2-8-2-4 1M767 197l-10-1-4-1-2-3 0-4-2-3-2 1-8 3-4-2-10-6-10 0-8-1-2 2 0 8 3 6 1 10 2 4 4 4 7 4 7 8 6 4 6 10 6 4 10 8 6 3 2 2 2 4M171 126l-12 5-4 3-13 14-2 4-1 4 10 6 4 2 6 0 18-4 4-2 4-4 6-8 2-4 2-8-1-6-2-2-5-1-8 1-8 0M611 126l-5 6 0 4 6 8 5 4 10 3 8 1 6-2 6-4 2-2-1-2-3-6-4-3-14-7-10-2-6 2M87 192l-6 5-2 3 0 1 4-1 2-2 5-6-1-1-2 1M411 72l0 5-2 3-2 1-4-3-2 1-1 1 0 6 0 2 3 2 20 1 15-3 1-2 0-4-4-10M726 72l1 2 4 3 8 1 2 0 1-2-1-4M767 94l-4 2 1 4 3 3M767 107l-10-3-2 0-2 2-1 6-3 4-2 1-2-1-5-8 0-2 5-7 10-3 1-2-4-2-11-1-6 4-2 1-1 2 1 2 4 6-1 2-3 2-4-1-2 1 0 4-2 2-4 0-1-4 0-2 1-1 5-3-1-1-2 0-16 4-2 1-3 4 1 2 4 3 6 1 8-1 2 1 2 6 6 6 3 12 0 8 6 6 2 4 0 4-6 8-5 1-5-1-6-2-5-3-7-7-1-2 3-6-1-3-4-5-2 0-1 0-1 6-2 2-4 1-6-1-2 1-7 7 1 4 2 2 10 6 3 2 0 4-2 8 1 2 2 4 1 8 4 8 17 14 6 7 4 3 2 4 2 6 2 3 2 2 10 3 4 5 8 4 5 9 3 5M767 129l-6 0-2 2-2 7 2 6 0 2-2 1-4-3-3-6-6-6-1-2 1-2 1-1 6-3 2-3 4 0 4-5 2 0 4 0M695 74l-2 1-2 3 0 3 3-1 2-2 0-2-1-2M681 84l-7 4-2 2 0 2 2 8 5 8 2 0 2-3 5-13-1-6-1-2-5 0M675 116l-4 2-4 8-6 2-6 5-2 0-6-4-7-3-9-4-14-2-8 1-6 0-2 1-2 4 0 4 2 6 3 4 8 8 5 4 18 5 14 0 10-2 3 1 2 6 3 2 2 0 2-2 2-4-2-6 2-12-2-6 0-3 2 0 3 1 2 2 3 10 2 1 2 0 5-5 1-6 3-6 0-6-1-2-4-1-8 0-6-3M167 124l-10 5-12 12-9 7-2 6 0 4 1 2 12 5 10 1 20-5 6-3 4-4 7-8 1-4 2-8 0-8-2-2-6-1-10 1-8-1-4 1M89 184l-4 3-9 9-3 6 0 2 0 2 4 1 4 0 8-7 3-4 3-5 0-5-2-1-4-1M280 72l-1 2-2 2-6 1-3 1-3 4 0 4 1 2 3 3 9 1 3 6 4 3 6 1 6-3 8-1 8 3 12-5 3 0 5 2 4-2 4-1 6 3 6 1 4 3 2 1 9-3 5-6 8-4 2 0 6 5 10 2 10 2 10-3 10-1 16 1 6-1 14-4 6-6 2 0 8 3 4-1 9-5 7-2 2-2 1-6M317 72l-2 4-2 2-4 2-2-2 1-6M623 72l2 3 2 1 4-2 2-2M634 72l1 6 2 3 2 1 3-2 1-2-2-6M658 72l-1 12 4 8 2 8 1 8 0 2-2 2-5 4-4 1-8-1-5-2 0-2 4-14 6-8 0-2-1-1-4-1-12 4-3 2-1 4 2 10-1 2-2 2-5 2-6 0-8 4-4 0-6-1-6 1 0 10 2 6 3 6 3 4 10 9 6 4 20 7 12 2 8 4 8 2 5 2 8 10 4 16 10 8 8 14 7 5 4 7 6 2 6 6 2 2 1 6 4 6 5 3 6 1 6 5 6 3 7 12 3 8 2 4 2 6M167 120l-12 5-8 10-17 11-2 2 0 4 1 11 18 4 10 1 22-6 6-3 6-7 5-6 2-6 3-16-1-4-3-1-2 0-14 2-10-2-4 1M89 180l-6 3-10 12-5 9 0 4 1 2 8 1 4-1 10-7 5-7 2-4 3-10-2-2-4-1-6 1M82 72l1 2 10 10 20 10 1 2-2 4-9 10-1 2 1 4 4 4-1 2-3 2-4 0-16-6-5 0-2 2-1 4 1 2 8 4 3 7 6 3 2 6 2 2 2 1 2-1-1-6 1-3 2-2 10 0 6 3 2 2-4 8-1 4 5 8 0 4 2 2 8 1 6-1 8 2 8 0 22-5 8-3 7-6 7-8 3-8 2-12 3-6 1-4-1-2-4-3-4-1-8 1-8-1-8 0-6-2-8 6-4 0-6-2-4 0-1-2 0-2 5-8 0-2-2-2-15-4 0-2 4-4-1-2-2-2-5-4 0-2 1-2 4-2 2-2M232 72l-1 6 4 6-1 12-3 10-1 6 9 5 4 3 2 4 4 2 2 0 2-2 3-10 1 0 6-3 10-2 6 1 8-1 14 4 8 0 6 1 16-1 8-5 10 1 4 3 2 0 8-2 8 2 2 0 4-3 4-1 10 3 8-2 8 2 4-2 8-7 8-2 5 0 17 4 4 3 4 1 8-3 6-4 12 0 8-3 8-2 8-5 8-1 1 0-3 2 2 1 5 3 5 2 14-5 2-3-1-10-5-8M604 72l-3 5-14 9-4 0 6 8 2 2 4-1 6-5 4-1 4-1 2 2 1 4-3 4-2 5-2 1-8-3-6 4-6-4-6 3-4 0-2-1-4-6-2 1-1 6-1 2 14 9 4 2 5 7 8 18 17 14 6 4 10 3 8 4 8 3 6 6 2 2 10 0 4 2 2 4 4 16 8 10 1 4 1 10 0 2 3 2 7 2 6 7 12 11 2-1 1 1-1 2-2-1-2 1 0 3 2 1 2-1 3 3 9 5 6 5 10 2 4 2 5 6 2 4 0 4-2 6 1 4 10 9 6 8M165 92l-4 2-1 2 3 4 4 2 5-4 1-2 0-2-1-2-3-1-4 1M141 120l4 2 2 2 0 3-2 3-4 3-4 1-4 0-4-2-1-2 0-2 3-4 4-2 6-2M107 162l-2 1-2 1-4 6-16 8-8 8-13 20 0 8 1 2 8-1 10-2 12-8 2-3 4-6 8-15 4-7 2-4 0-4-1-2-3-2-2 0M48 72l1 6-1 2-5 3M554 72l-3 3-4-1-1-2M43 125l12 0 3 1 0 2-1 4-2 0-8-1-4 1M43 185l10-4 4 0 4 3 3 4 0 2-2 4-3 4-6 4-3 4 3 8-2 10 1 2 5 1 4-2 7-5 13-4 6-5 8-4 5-7 11-17 4-5 4-3 4-1 6 0 8-1 8 0 6 0 26-6 8-4 8-7 5-6 7-22 2-4 6-5 4-1 4 0 14 4 2 1 5 5 3 2 4 1 6-1 3-2 3-5 2-2 6-2 3 1 5 6 4 1 4-1 4-3 4-2 6-1 8 0 4 2 4 6 4 1 4-1 4-5 10 1 6 1 6-1 18 1 2-1 8-4 6-2 4 1 8 5 2 0 6-2 8-2 6-4 4-2 9 2 9 5 8 0 6 3 2 0 6-3 6 0 4-1 4-3 6-6 2-1 16 6 22-9 14 0 16 3 14 4 6 2 16 17 4 9 3 4 13 9 10 7 12 5 10 7 2 4 1 8 5 10 2 9 2 1 12 1 4 4 2 0 4 0 2 1 2 4-2 10 0 6 2 3 10 2 4 5 0 8 2 4 0 2-5 8 2 4 5 4 8 1 12 7 8 2 6 4 8 1 3 3 1 9 8 6 8 11 4 2 6 2M215 78l4-1 2 2 4 7 0 2-3 4 1 6-4 3-4-1-6-4-7-4-1-2 6-3 6-8 2-1M83 100l2 0 0 3-2-1 0-2M61 136l2 0-2 3-1-1 1-2M79 157l6 2 6 0 2 2 1 3-3 3-10 3-6 8-4 3-2-1-3-4-1-2 1-2 3-1 6-1 3-2 1-4-2-6 2-1M43 214l2 2 0 2-2 1M43 242l6-1 3-1 20-18 11-4 6-5 8-4 12-15 6-6 6-5 4-2 7-1 7-2 10-2 18-5 14-3 6-3 10-8 3-5 5-18 2-6 4-3 6-3 5 0 7 4 6 7 26 5 6 0 2 2 2 4 2 1 18-11 2 0 4 2 6 1 4 2 10 2 10 1 7-2 6-6 3-1 8 0 9-3 5 0 10 1 8 3 4 0 22-5 8 0 4-3 4-1 4 1 8 6 10 1 10-1 10 2 8 4 3-2 13-10 8 0 3 2 2 12 2 2 1 1 4-1 5-6 1-2 1-6 1-4 3-4 3-2 4 0 4 1 10-2 10 1 6 0 8 4 6 8 10 6 2 2 4 8 2 3 14 8 10 9 11 6 2 2 1 2-1 2-7 4-1 8 1 2 2 3 6 2 2 1 7 14 3 10 2 3 2 1 4 1 8-3 2-1 2 1 0 16 1 2 8 6 0 2-1 2-8 2-6-1-2 1-1 2 1 2 8 6 2 1 6-4 2-1 2 0 1 2-1 6 1 2 11 8-4 4 0 2 5 6 9 3 8-2 6 2 5 3 2 4 1 6 1 2 11 9 4 0 2 1 1 2-1 4 2 5 4 3 13 4 1 2 0 4 1 2 1 2 7 4 3 8-3 10 3 4M765 334l2 2-2 2-2-2 0-2 2 0M43 264l3-6 1-8 6-3 8-7 7-8 7-7 8-3 7-6 10-4 5-6 6-6 5-6 3-2 8-4 34-13 8-3 16-2 8-4 6-5 3-5 2-4 1-10 2-8 4-6 4-2 4 0 6 3 4 5 4 10 2 2 7 4 13 5 3-1 5-2 6 2 10 0 8-2 18-1 8-3 6 1 6 3 4 0 6-3 6-5 4-2 10-3 8-3 4 0 8 4 10 1 4 0 8-3 14-2 4 2 4 5 2 0 6-2 8 1 6-1 6 4 2 0 6-4 2 0 6 2 10 3 4 0 4-2 6-5 2 0 14 9 8 2 4-2 14-12 10-4 6 1 2-1 6-4 2 0 4 3 10 5 8 2 2 2 2 2 2 5 2 2 10 8 8 4 5 5 4 6 0 6 3 8-1 6 1 2 4 5 6 4 4 3 2 6 0 8 10 12 3 6 1 4-2 10 2 10 2 4 4 3 10 15 3 8 6 4 2 6 19 10 4 4 6-1 2 1 8 6 14 6 4 4 6 17 3 5 1 6 2 3 6 3 2 4 0 4-2 6-2 1-4 1-3 2-1 2 0 2 4 3 2 0 4-4 2-1 2 2 2 4 3 10 0 4-2 8 1 2 4 4 1 8 1 4 6 5M693 324l-2 2-1 2 0 2 1 2 4-2 1-2-1-3-2-1M751 354l2 0 3 2 1 2 0 2-2 1-4-3-1-2 0-2 1 0M43 280l6-4 1-2 0-6 1-2 8-4 5-6 7-2 2-1 1-9 5-6 0-6 1-2 7-4 6-7 10-1 2-1 4-7 6-5 6-8 14-6 6-5 10-3 10-5 18-4 12 1 6-1 2-1 7-13 1-4-1-12 2-8 3-4 4-3 4 0 5 3 2 4 2 12 5 7 7 3 5 5 5 1 5 7 12 3 10 0 4-2 6-4 4-5 2-1 4 0 6 1 2-1 2-4 6-1 6 1 10 3 6 0 8 4 2 1 4 0 9-4 2-2 1-4 4 4 4 1 4-3 6-9 2-2 8-1 10-3 5 1 5 6 13 8 11 2 7 4 11 4 12-3 6-5 13 0 7-5 4-2 8 4 8-1 8 1 4-3 6-8 2-2 6 1 8-1 8 3 4-3 2-1 8 1 5 2 6 6 7 5 6 9 4 4 2 1 4-1 2 2 1 6 5 8-1 8 1 4 10 7 6 3 1 2 1 4 0 10 1 2 5 6 1 2-1 6-3 8 1 2 3 6 5 5 2 3 2 6 0 8 5 6 3 8 6 5 5 9 6 6 1 2 1 2-3 7 0 5 6 8 0 6 1 2 5 2 6 2 14 1 6 4 6 0 6 5 6 2 2 2-1 2-3 6-3 4-1 2 2 2 2 2 4 2 2 2 2 6 4 4-1 8 1 4 4 12 4 8 2 3 2 1 8 0 3 2 2 4 2 8-1 10 0 2 4 6 2 6M249 174l-1 2 1 2 2 0 2-2 0-2-2-1-2 1M43 288l12-6 4-8 2-2 16-4 4-3 4-5 6-9 4-21 2-3 2-1 8 0 2-1 5-9 17-18 9-4 7-5 8-3 6-4 4 0 8 2 2 0 6-3 2 0 16 6 2 0 6-3 2 1 3 3 6 8 3 2 4-2 2-2 1-4 1-2 2 2 4 4 6 0 6 4 2 0 8-1 10 2 3-3 0-10 2-4 3-2 14-4 2 1 5 3 5 3 6 6 2 1 8-3 12 4 4 0 4-1 3-2 2-2 3-6 6-1 5-5 5-1 4 0 2 1 2 7 4-4 2-1 8 3 14-3 24 3 2 0 6-3 10 1 6 0 6 2 10-1 8-3 5-7 3 0 2 0 2 2 1 2 0 6 3 1 8-3 6-5 4-2 10-1 8 3 6-5 6-10 4-1 4-1 4 2 6 0 6 3 8-1 4 2 6 4 6 8 2 7 9 7 1 2-1 4-4 6-1 2 1 4 5 6 2 2 2-1 5-3 5 0 7 4 2 2-1 3-4 4-2 0-6-1-3 0 0 2 3 2 10 5 6 5 1 4-3 8 1 4 3 6 4 10 4 0 2 1 1 7-2 8 1 2 4 2 3 2 3 8 2 8 8 14 5 6 1 10 1 4 9 10 12 4 5 4 14 18 3 8 2 2 6 5 3 5 1 9 8 6 3 3 0 6 4 8 2 10 9 9 8 0 2 1 0 4-2 6 0 2 4 6 1 4M43 318l2-6-2-7M213 134l4-1 2 1 3 4-1 6-1 4-3 4-2 0-2 0-2-2-2-5 1-7 3-4M43 330l4-2 4-7 5-7 2-4 1-6-4-6 0-2 5-8 3-3 4-2 12-2 2-1 7-10 14-10 3-4 5-4 1-2 1-8 3-4 4-1 8 0 2-2 2-5 8-6 2-1 14 1 2-1 3-5 13-6 0-2-1-2-7-6-4-2-6-2-1-2 1 0 8-5 2-1 4 3 2 1 6 0 2 0 6 6 2 6 2 2 2 0 6-2 6 3 8 1 2 1 2 3 2 2 4-1 4-5 4-2 8-1 10 5 8-2 1 6 3 1 10-3 12-1 10 2 6-3 10 1 12-6 7-1 7-4 16-1 8-5 4-1 6 0 6 2 4-1 3 0-3 6 0 2 4 2 2 1 4-3 1-2 0-2-5-4 0-2 4-3 4-1 5 0 5 4 2 1 2 0 6-4 2 0 2 1 0 2-1 4 0 2 2 2 3 1 6-2 7-7 3-5 4-1 6 0 3 2 1 4 2 2 6 2 2-1 2-3 3-2 5-2 6 5 16 2 18-4 8 3 6 1 6 0 8-4 4 0 8 2 6 0 6 2 4-3 2 1 3 1 3 8 4 5 4 11 6 5 2 9 2 2 6 2 2 2 0 2-2 6 1 4 4 14 9 12 0 6 2 3 6 3 10 12 8 12-1 6 1 8-3 8 1 4 8 6 8 0 6 2 4 3 8 7 1 4 4 8 3 2 8 3 4 5 2 6 10 7 2 3-2 6 0 2 6 14 2 2 4 2 3 2 4 10 1 8 8 5 2 1 2 4 1 8 4 8M295 194l1 2-1 3-2-1 2-4M43 336l8 3 2 0 4-3 3 0 0 8 4 6-2 2-11 3-6 2-2 0M43 369l4 0 6 2 2-1 7-8 2-4 2-6 3 0 6 1 4-1 4-2 0-2 0-6 2-8 1-10-1-8 3-6 0-2-3-4 0-4 3-8 7-6 8-7 2 1 4 5 4 3 2 1 2 0 3-9 5-4 4-6 7-4 1-8 5-6 3-4 2-1 2 0 4 2 8 2 2 1 2 6 2 1 3-3 2-8 3-2 4 0 8 4 2-1 2-4 2-2 10 1 4-2 1-2 0-2-4-8-1-2 1-2 3-1 8 1 18-4 8 3 6 7 4 3 2 0 8-2 5-1 5-4 2 0 4 0 6-2 6 1 6 4 2-1 0-4 2-2 2-1 2 0 6 3 12 3 8-3 4 0 8 5 3-1 5-4 6 2 6 0 2 0 1 2 1 4 6 2 8-2 3-2-2-2-4-2-2-2 0-4 3-3 6-1 4 1 12 4 4-1 6 1 10-4 4-7 10-6 4 0 9 8 5 3 6 1 20 0 3-2 4-6 3-2 12 0 3 0 2 2 4 8 3 3 3 1 5 1 4-1 2-1 2 0 5 3 2 2 1 4-1 2-3 2-1 2 1 3 2 1 10-6 1-4 1 0 2 0 4 2 6-2 1 2-1 2-4 0-3 2 0 2 3 5 4 3 2 1 4-2 2 0 2 3 2 4 8 4 2 2 5 8 7 4 6 12 1 8 3 3 8 2 11 7 0 2-2 8-6 8 0 2 3 8 4 6-2 4-5 4-1 2 2 10 2 1 6-1 2 1 4 4 4 2 6 6 2 1 7-4 5-5 2-1 2 0 2 2 2 4-1 8 1 2 7 2 3 2 1 2 1 2-1 6 2 4 5 6 6-1 4 1 2 1 2 2 2 5 1 4-3 8 0 4 3 6 4 12 0 4-2 6 0 4 1 2 2 2 10 3 3 5" stroke-dasharray="3.4 1.5"/><path d="M69 468l2-2 10-8 2 1 1 1 0 4-1 4M134 468l-4-4 0-2 3-4 4-1 4 1 6 4 6 3 3 1 1 2M170 468l3-6-1-6 1-2 2-1 2 1 6 4 4 1 8-4 6-4 6-3 1-2 0-2-3-1-2 0-8 3-6-1-8-5-1-4 0-2 1-2 4 2 4 4 2 1 2 0 6-4 8-3 2-2 0-2-2-4 0-4 4-2 4-1 2 0 2 1 3 6 4 6 1 4 0 2-2 2-2 1-4 0-4-2-2 0-1 3 3 4 2 4-2 3-6 1-2 2-4 5-6 5-2 4M247 468l0-4 2-1 2 0 2 1 3 4M340 468l1-2 2-2 2 0 4 2 1 2M422 468l0-16 1-1 6-3 6-3 2-1 4 2 2 2 4 10-1 2-6 6-1 2M459 468l-4-8 4-6 4-4 10-1 7 1 9 6 6 2 2 4-1 6M506 468l1-3 3-5 0-10 5-6 4-2 4 2 2 2 1 2-1 6 0 4 2 3 7 3 0 4M553 468l2-8 2-2 6-1 4 0 6 5 1 2-1 4M589 468l-1-4 1-2 6-5 2-1 10 5 10 0 8-3 3 0 2 2 0 8M445 224l14 1 10 0 12 2 14 8 12 5 26 21 8 17 1 8 3 8 4 18 5 8 1 4 1 12-8 12-3 2-8 0-10 2-14 0-14 4-18 0-14 4-2 2 1 2 9 3 2 1-6 14-8-7-2-1-4 4-2-2 0-2 3-2 1-2-1-4-1 0-32 7-8 5-2 4 1 2 5 4 1 2 0 4-3 3-4 2-4 0-2-13-7-8-5-3-8-2-5-5-3-1-10-3-10-9-2 0-1 1-3 6-7 6-5 6-2 6-2 2-4 0-3-2-1-2 1-4 6-6-3 0-1-4 3-8 0-6-1-6 3-9 2-2 2 0 6 6 2 0 1-3 0-4-1-4-8-8-2 1-6 3-6 0-10-3-7-5-5-2-18-3-6 2-8 5-3 4-2 8 3 4 7 4 3 6 2 3 2 0 6-6 2-1 6 3 4-1 1-2-1-2-6-3-2-3 1-2 1-1 2 0 4 1 6 8 1 6 1 4-2 12-8 4-4 4-4 2-14-3-11-9-3-4-1-8-8-8-1-2-1-4-3-2-2 1-6 3-14-1-20-4-10 1-5 2-4 4-2 4-3 10-2 0-4 0-2 0-18 12-10 2-4-1-7-5-6-8-7-6-13-16 0-18 1-4 1-2 3 0 8 1 8-1 12-1 14-6 4-3 6-6 6-9 12-15 3-2 7 0 8-3 22 1 10-1 14-5 18-4 6-2 2 1 4 3 4 1 6 1 12-1 6 1 4 1 10 9 5 2 5 2 6 0 4-1 6-3 5-2 4-6 25-12 12-3 16 0 6-1 10-5 9-9 7-2M567 264l2-1 3 1 3 10 10 8 2 4 3 8 6 6 0 2-1 8-2 2-14 1-10-2-6-2-3-5-1-6 6-20 0-10 2-4M225 346l4-1 2 1 0 2-12 7-4 1-2-2 0-2 3-4 9-2M495 364l4 1 5 7 10 6 5 6 4-1 2 1-2 2-4 0-2 1-2 3 0 6 5 6-2 2-4 2 2 6-2 2-7 0-4-2 0-4 2-3 8 1 1-2-1-2-2-2-6-2-6-6-10-4-1-6-3-4 0-4 2-4 4-5 4-1M253 367l2 1 0 3-2-1 0-3M199 374l2 2 0 2 0 3-2 1-2-3 0-3 0-1 2-1M289 376l2-1 2 1 0 4-2 3-2 0-3-3 1-2 2-2M169 382l2 0 1 2 0 2-3 5-2 2-2 0-1-3 1-2 2-4 2-2M199 384l1 2 0 8 2 2 4 2 1 2 0 2-2 1-4-1-2-2-4-9 1-5 1-1 2-1M341 390l2-1 1 1 1 6 3 8-1 6-2 4-4 4-8 2-2-3-2-7-1-6 7-8 4-3 2-3M469 392l4 2 4-1 2 1 0 2-2 4-4 4-4 2-4 4-4-1-3-3 0-2 2-4 0-4 3-2 6-2M265 396l4-1 2 1-4 8-3-6 1-2M301 398l2 0 2 2 0 2-1 2-3 3-6 3-2 0 0-2 4-7 2-2 2-1M409 400l1 2-1 5-2-3 0-2 2-2M71 404l2-1 2 1 1 2-1 2-2 0-2-1 0-3M257 408l4-1 2 1 0 2-1 2-5 2-5-2 1-2 4-2M305 416l2-1 2 0 1 1 0 2-2 6 0 4-1 2-6 1-1-1-1-2 0-2 5-4 1-6M381 415l2 0 5 5 5 3 2 1 3 10-7 5-4 8-4 4-2 1-8-2-4-2-4-8-6-5-2-3 2-4 4-4 2-1 10 0 2 0 4-8M565 418l4 0 2 2 1 4 0 2-2 2-3 1-2-1-1-2-1-4 2-4M527 425l4 1 1 2-1 2-3-2-2-2 1-1M85 436l2 0 4 0 3 2 4 4 1 4-2 5-2 1-2 0-9-8-1-4 0-2 2-2M413 436l2-1 2 2 2 9-2 2-8-2-2-2-1-4 1-2 6-2M545 441l2 0 1 1 1 3-2 1-2-3 0-2M321 446l10-1 2 1 2 2-1 2-5 3-4 4-4 2-10-1-5-2-3-2 5-2 5 0 8-6M271 450l2-1 2 0 1 1 2 4 1 5-2 1-10-4 0-2 4-4M439 238l4-1 4 1 9 4 3 4 6 10 12 8 2 3 1 3-2 6-6 8-3 9-2 1-10 0-6 3-5 3-6 8-1 4 0 8 4 16 0 6-2 5-4 3-12 1-22-4-20-6-12-6-10-7-8-11-9-15 0-4 2-12 3-6 4-3 8-2 20-4 8-2 10-1 8-3 2-3 1-6 1-1 10 0 6-2 4-4 5-9 3-2M159 328l2 0 1 0-3 1-1-1 1 0"/></g><path clip-path="url(#fr0)" d="M405.5 587 L-319.5 248.9M405.5 587 L-249.8 128.1M405.5 587 L-160.2 21.3M405.5 587 L-53.4 -68.3M405.5 587 L67.4 -138M405.5 587 L198.4 -185.7M405.5 587 L335.8 -210M405.5 587 L475.2 -210M405.5 587 L612.6 -185.7M405.5 587 L743.6 -138M405.5 587 L864.4 -68.3M405.5 587 L971.2 21.3M405.5 587 L1060.8 128.1M405.5 587 L1130.5 248.9M-184 576.7 A589.6 589.6 0 0 1 995 576.7M-105.2 578.1 A510.8 510.8 0 0 1 916.2 578.1M-28.5 579.4 A434.1 434.1 0 0 1 839.5 579.4M46.4 580.7 A359.1 359.1 0 0 1 764.6 580.7M119.9 582 A285.6 285.6 0 0 1 691.1 582M192.3 583.3 A213.3 213.3 0 0 1 618.7 583.3M263.8 584.5 A141.7 141.7 0 0 1 547.2 584.5" fill="none" stroke="#000" stroke-opacity="0.17" stroke-width="1.1"/><path clip-path="url(#fr0)" d="M90 464.4 L105 452 L98 438.5 L108 415 L140 388.8 L147.5 379.2 L154.5 377.5 L156 366.4 L160.3 376 L179.6 373.9 L190.3 364.2 L196 363.2 L202 351.4 L214.9 352.5 L237.3 347.1 L247 351 L255.5 348.2 L276.5 341.9 L296 342.5 L300 348.7 L302.5 355 L303 367.4 L301 373.7 L298.5 380 L297.5 386 L298.5 392.4 L297 400 L293 402 L296 411.4 L307.8 426.4 L319.6 439.2 L323.9 432.8 L325 424.3 L331.4 422.1 L350 417.8 L358.8 418.8 L371.6 422.4 L409.8 423 L425.5 414 L427.5 403.5 L445 410 L453 400 L462.7 390.4 L472.5 389 L488 397 L511.8 395 L537 405.5 L549 396.9 L555 407 L566.7 419.8 L576.5 439.4 L582 440.4 L585.3 454 L582.4 464.4 L582.4 470 L90 470 Z" fill="#000"/><path d="M203 348.5 L215 349.5 L237.3 344.2 L247 348 L255.5 345.4 L276.5 339 L294 339.5M454 397 L463 387.6 L472.5 386.2 L488 394.2 L511.8 392.2 L537 402.6 L549 394" fill="none" stroke="#000" stroke-width="1.7" stroke-dasharray="1.3 2.6"/><path d="M298.5 348 L302.5 353 L305.5 367 L303.5 374 L301 380 L300.5 386 L301 392.4 L299.5 400M298.5 411.4 L309.8 425.4 L319.6 436" fill="none" stroke="#000" stroke-width="1.1" stroke-dasharray="4 1.2"/><path d="M330 418.5 L345 416 L360 414.5 L372 417 L395 416.5 L412 416 L425 413 L425.5 414 L409.8 423 L371.6 422.4 L358.8 418.8 L333 422.4 Z" fill="#fff"/><path d="M123.3 299.5 L131.4 288.4 L142 273 L152.8 273.8 L161.3 271.7 L169.9 260.6 L179.5 251 L195.5 247.7 L212.7 245.2 L229.8 241.3 L242.6 238.1 L255.4 236 L257.1 228.5 L264 228 L279 231 L294 233.4 L302.5 231.7 L311 228.5 L326 229.6 L341 226.8 L350 222.8 L370.3 218.8 L387.2 210.3 L404.2 205.2 L421.1 201.8 L448.2 203.5 L465.1 210.3 L478.6 217.1 L488.8 227.2 L505.7 237.4 L515.9 239.1 L526 252.6 L539.6 259.4 L553 271.2 L566.7 283.1 L571.7 291.6 L570 303.4 L576.8 315.3 L576.8 325.4 L587 335.6 L600.5 352.5 L612.4 372.8" fill="none" stroke="#0b8a0b" stroke-width="5" stroke-linejoin="round" stroke-linecap="round"/><rect x="47" y="76.4" width="717" height="388" fill="none" stroke="#111" stroke-width="1.6"/><text x="69.3" y="122" stroke="#000" stroke-width="0.5" style='font-family:"Liberation Sans",Arial,Helvetica,sans-serif;font-size:36.5px;font-weight:bold'>(A)</text><g style='font-family:"Liberation Sans",Arial,Helvetica,sans-serif;font-size:17px' fill="#000"><text x="50.9" y="66" text-anchor="middle">160°E</text><text x="168.8" y="66" text-anchor="middle">170°E</text><text x="270" y="66" text-anchor="middle">180°</text><text x="361.2" y="66" text-anchor="middle">170°W</text><text x="450" y="66" text-anchor="middle">160°W</text><text x="542" y="66" text-anchor="middle">150°W</text><text x="642.4" y="66" text-anchor="middle">140°W</text><text x="761.2" y="66" text-anchor="middle">130°W</text><text x="69.2" y="484.5" text-anchor="middle">65°S</text><text x="149" y="484.5" text-anchor="middle">70°S</text><text x="231.2" y="484.5" text-anchor="middle">75°S</text><text x="331.6" y="484.5" text-anchor="middle">80°S</text><text x="479" y="484.5" text-anchor="middle">80°S</text><text x="579.6" y="484.5" text-anchor="middle">75°S</text><text x="662.4" y="484.5" text-anchor="middle">70°S</text><text x="740.4" y="484.5" text-anchor="middle">65°S</text><text x="38.2" y="124.7" text-anchor="end">50°S</text><text x="38.2" y="229.5" text-anchor="end">55°S</text><text x="38.2" y="348" text-anchor="end">60°S</text><text x="772.8" y="229.5" text-anchor="start">120°W</text><text x="772.8" y="336" text-anchor="start">110°W</text><text x="772.8" y="421" text-anchor="start">100°W</text></g><g clip-path="url(#fr1)"><g mask="url(#mwd1)" fill-rule="evenodd"><rect x="895" y="72" width="724" height="396" fill="#1a1c44"/><path d="M897 72l722 0 0 396-724 0 0-396zM1028 130l-11 5-11 9-3 4-1 4 1 4 2 2 8 3 12-2 10-6 8-7 3-8-2-6-5-3z" fill="#1b1e47"/><path d="M897 72l722 0 0 396-724 0 0-396zM1027 130l-12 6-10 8-4 8 1 4 2 2 7 3 12-1 11-6 9-8 4-8-1-4-2-4-7-1z" fill="#1d214c"/><path d="M897 72l722 0 0 396-724 0 0-396zM1033 128l-16 6-10 7-4 5-3 6 2 6 4 2 5 2 10-1 10-4 9-7 6-8 1-4 0-4-4-5z" fill="#1f2451"/><path d="M897 72l722 0 0 396-724 0 0-396zM1030 128l-13 5-12 9-7 10 3 6 8 4 12-1 12-5 10-8 5-8 0-4-1-5-3-3-3 0z" fill="#212859"/><path d="M897 72l722 0 0 396-724 0 0-396zM1027 128l-12 6-11 8-7 10 0 2 2 4 4 3 6 2 12-1 12-5 11-9 3-4 2-6 0-4-2-5-2-1-6-1z" fill="#242d62"/><path d="M897 72l722 0 0 396-724 0 0-396zM1034 126l-17 6-10 7-6 5-4 6-1 4 2 4 7 5 10 0 14-3 11-8 6-6 2-4 2-6 0-4-2-4-3-1z" fill="#27326b"/><path d="M897 72l722 0 0 396-724 0 0-396zM1030 126l-15 6-13 10-5 6-2 6 3 6 5 3 6 1 12-1 12-5 12-10 3-4 2-6 0-6-1-4-2-2-6-1z" fill="#2a3780"/><path d="M897 72l722 0 0 396-724 0 0-396zM1039 124l-10 2-10 4-12 7-11 11-2 6 1 4 6 5 6 1 6 1 14-4 12-6 10-11 2-10 0-4-2-4-4-1z" fill="#2b43a9"/><path d="M897 72l722 0 0 152-10-10-4-6-4-1-4 0-3 1-1 2 0 4 3 4 12 8 5 7 4-2 2-6 0 243-724 0 0-396zM1033 124l-16 6-15 10-5 6-5 8 0 2 3 4 4 3 6 2 14-1 14-5 12-9 3-4 3-6 1-6 0-6-1-2-4-2-6-1z" fill="#2250bf"/><path d="M897 72l722 0 0 140-6-3-5-5-3-1-18 0-3 1 0 2 1 4 8 12 4 4 8 5 6 10 2 1 6 0 0 226-724 0 0-396zM1030 124l-15 6-14 10-5 6-5 8 0 2 2 4 4 3 6 2 6 1 8-1 16-5 12-10 5-6 2-6 1-8-1-4-1-2-6-1-6 0z" fill="#165bc2"/><path d="M897 72l722 0 0 130-14-2-22-1-4 3-1 4 2 4 13 18 10 7 6 9 2 2 8 2 0 220-724 0 0-396zM1036 122l-19 6-13 8-10 10-4 8-1 4 8 6 12 3 16-3 8-3 6-4 7-7 5-6 2-8 1-8-1-4-4-2-6 0zM1470 134l-2 2 0 2 1 3 4 1 2-2 2-4-2-2z" fill="#1365c0"/><path d="M897 72l722 0 0 124-4-1-8-3-10 2-8 0-8-4-2 0-6 2-2 10 5 10 7 7 9 13 7 5 10 11 10 5 0 215-724 0 0-396zM1032 122l-17 6-15 10-6 6-6 10-1 4 1 2 9 6 14 1 18-4 6-3 8-6 6-6 3-6 3-10-1-8-3-2-4-1-8 0zM1468 130l-4 4-1 4 3 4 3 3 6 2 10-2 2-2-2-7-6-5-6-2z" fill="#1a6fc0"/><path d="M897 72l722 0 0 97-6 1-6 9-6 2-12 4-10-2-10 4-3 3 0 4 0 8 1 4 14 15 8 12 8 7 10 10 7 4 5 9 0 205-724 0 0-396zM1036 120l-19 6-16 10-7 6-7 10-3 8 13 7 12 1 16-3 8-3 6-4 9-8 4-6 3-10 1-8-2-4-3-2-8-1zM1465 126l-4 6-1 6 4 6 7 5 4 2 10 0 10-4 5-5-3-3-8-4-10-7-6-2z" fill="#1e75bf"/><path d="M897 72l397 0 3 4 2-1 2-3 262 0 2 4 2 1 4-2 2-3 46 0 0 90-6-1-8 7-7 0 1 6-2 2-8 2-4-1-1-3 0-8-2-6-1-6 2-3 6-3 4-4 1-2-2-8 5-8-2-3-4-2-4 1-4 2-5 6-3 6 1 2 4 6 1 4-4 5-5 9-7 10-4 10 0 22 1 4 17 16 8 12 23 20 3 9 6 7 0 196-724 0 0-396zM1277 80l-4 1-1 1 0 2 3 4 6 4 10-4 4 1 4 0 4-5 1-2-3-3-2 0-6 2-8-2zM1566 100l-1 11 8-1 2-2-1-4-7-4zM1040 118l-23 7-16 10-8 7-8 10-4 10 16 6 12 1 16-3 8-4 6-3 8-7 5-6 3-8 2-10 0-6-4-2-6-2zM1460 124l-4 6 1 8 6 8 10 6 10 2 10-1 10-5 4 0 2-2-3-6-3-3-14-6-12-7-4-1zM1552 124l-1 4 2 2 3-2 1-2 0-2-2-1zM1558 168l1 2 1-2-1-1zM932 198l-2 2 1 1 3-3-1 0z" fill="#257cbe"/><path d="M897 72l254 0 4 5 16 5 2-1 0-1-4-5-1-3 10 0 6 6-3 8 4 1 6-1 5-2 2-4-3-8 8 0 0 4 2 1 6 0 6 5 15 2 3 2 3 4 5 2 4-1 2-3-3-8 1-1 6-1 3-6 24 0-3 2-6 1-7 5 0 2 1 4 5 6 11 3 8-2 10 1 18-9 0-2-4-1-1-2 1-4 3-4 2 0 0 4 1 5 10 0 2-2 1-3-2-4 192 0 1 3 2 1 2-1 1-3 27 0-2 4-5 2-3 7-8 1-3-2-1-2-2-2-1 4 2 2 3 6 2 2 6 0 8-2 8 9 1 5-4 6-3 3-6-1-2 1-3 3-1 4 4 11 4 3 6 2 10-3 3 1 5 10-2 7-4 5-8 0-8 3-8 1-8 3-8-3-8 1-5-3-1-2 1-4 7-4 0-2-3-4-1-4 7-8 2-12-1-3-4 0-6 7-7 0-7 5-4 1-8-2-14-8-10 1-8 0-3 1-3 8 5 10 3 4 14 10 10 3 8 0 12-3 4 2 3 8 12 8 2 4 1 6 4 4 8 0 4-1 6-3 4 1 3 3 1 6-2 4-5 4 0 6-3 4 1 2 7 5 8 1 13 6 8 12 11 8 13 14 2 8 5 8 2 6 4 4 0 184-724 0 0-396zM1510 80l-4 8-3 4 0 2 4 1 4-3 8-6-1-2-4-4zM1035 118l-20 6-16 10-16 16-5 10-1 5 8 1 12 3 12 0 18-3 8-4 6-4 8-7 5-7 3-12 2-10-2-2-6-3-10 0zM937 190l-8 7-2 3 0 4 4 1 4-2 8-13zM1583 72l36 0 0 29-10 1-6 4-6 2-4 1-5-3-5-8-10-4 0-3 2-3 5-2 2-2 1-6-2-6zM1611 120l4-1 4 2 0 17-7-6-3-4 0-6zM1567 122l2 0 1 2-1 2-3-2z" fill="#2f83bd"/><path d="M897 72l182 0 2 3 10 4 5-3 2-4 45 0 10 10 0 4-2 7 2 5 2 2 4 2 8-2 18-7 12 0 8-3 16-2 6 1 8 7 8 2 7-2 7-6 3 0 5 7 14 3 4 0 6-3 10 1 8-3 12 2 13-5 5-10 4-3 6-3 1-4 168 0-3 2-4 0-3 2-5 10-6 5-7 13 1 2 6-2 4 0 6 3 8-8 10 0 4 1 1 2-1 4-1 2-3 1-6 0-2 1-4 8-14 7-8-3-14-7-10 3-8-2-10 0-1 2 1 4 1 8 9 15 16 11 16 6 2 0 8-3 3 1 4 8 10 8 9 14 4 2 8 1 1 1 3 8-3 6 0 2 13 16 6 3 10-2 2 1 2 6 2 3 16 9 8 10 3 6 1 7 6 6 4 10 2 2 6 1 0 180-724 0 0-396zM1121 76l-7 4-1 2 0 4 2 4 4 3 4 1 4 0 2-2 1-4 0-6-4-6-3 0zM1036 116l-21 6-18 11-19 17-4 10-1 6 2 2 10 0 12 2 12 0 20-4 8-4 6-5 8-7 3-6 8-24-3-3-6-2-12 0zM938 182l-5 5-8 11-1 6 1 3 6 0 4-1 11-16 1-4-4-4-2 0zM1591 93l4 1 3 2 1 4-2 2-3 0-2-2-1-4zM1539 100l6 0 6 6-1 2-11 6-2 0-2-4 0-6 1-2zM1539 142l4-1 4 1 8 3 5 5-1 2-6 3-16 1-3-4-2-6z" fill="#3a8bbd"/><path d="M899 72l20 0 2 6 1 8 5 2 8-1 2-3-1-6-2-6 127 0 2 5 8 2 4 5 6 0 4 1 8 8 2 0 6-6 2 1 10 6 7 6 7 1 10-3 22 10 4-1 6-2 10-5 18-2 6 1 10-4 10-2 4 1 6 7 4 2 10 0 18 4 10-1 10 3 10-5 12-3 14 2 8-4 8-1 6-4 8 0 7-2 2-2-3-2-4-6 1-10 111 0-3 10 2 6 0 4-4 16-3 2-12 2-4 2 4 16 2 4 12 15 30 17 10 3 6 6 6 4 8 9 4 9 20 27 6 6 8 3 5 3 0 2-1 8 1 2 3 2 6-5 2 0 12 3 2 2 7 12 3 10 3 6 0 6 1 4 18 6 0 174-724 0 0-392zM1364 86l-2 4 1 2 2-1 1-5-1-1zM970 108l-1 4 2 2 4 2 4-2 0-4-2-2-4-1zM1036 114l-7 3-14 2-7 3-11 7-6 6-16 11-5 10-1 6 1 6 3 2 12-1 12 2 12 0 22-5 6-3 8-7 9-10 8-22 6-6 1-4-2-2-8 1-16-1zM937 176l-5 4-9 16-2 6 0 6 8 2 6-2 14-18 2-6-4-6-4-3zM1105 72l7 0-5 5-2-1-1-4zM1475 72l24 0-2 3-9 3-1 4 2 8-1 4-7 6-6 8-2 0-4-1-2-3 1-6 3-6-4-8 1-4z" fill="#4693be"/><path d="M971 72l5 0-3 6 0 2 1 6 3 2 10-6 4 0 4 3 4-1 3-4-4-8 18 0-5 12 0 2 2 2 4-1 8-7 6-3 4-5 21 0 1 6 7 6 5 6 10 3 8 7 3 4-2 2-3 1-8-1-10 0-8 3-18 0-14 6-18 3-6-3-1-3 2-4 6-6 1-2 0-2-4-1-4 1-8 8-4 2-4-4-4-9-2 0-6 5-6-1-4 3-2 2-2 10-2 2-2-1-1-3-5-14 6-6 9-4 4-10 0-6zM1389 72l37 0 3 7 4 2 5-3 4-6 19 0-4 6-8 3-1 1 1 3 8 3 2 2-5 14-3 3-10 1-5 4 8 22 13 16 38 24 6 5 9 5 3 4 1 6 4 6 13 16 0 11 2 1 8 1 6 5 6 2 2 2 2 10 2 4 6 3 6-2 2 0 7 11 9 4 1 2 0 12 5 8 1 8 1 3 2 0 6-1 6 5 8 2 0 161-724 0 0-387 6 2 10 7 6 6 6 2 1 0-2 2-5 2-3 4 1 6 2 4 4-1 8-9 6-1 2 1 0 2-3 6 1 2 7 6 2 6 7 6 2 2-1 4-2 6 0 10 3 3 6-3 1 2 0 6 3 6 4 3 16-2 16 1 12 0 16-4 10-4 6-5 6-5 5-6 9-22 14-13 6 0 12-1 6 3 2-1 6-7 6-2 10 2 8-1 6 2 8 0 14 4 4 0 16-5 12 5 6-2 4 1 2-1 4-6 4-4 10-1 3 1 5 9 16 3 12-2 14 1 14 4 20-3 22-7 8 1 8 3 12-7 10 0 4-1 4-4 6 0 1-1-3-6-1-6 1-2 7-4 2-6zM1429 92l-2 3 2 1 3-2 0-2zM921 164l-4 2-3 4 0 4 3 4 2 2 6 0 1 2-1 4-6 12-1 6 0 6 3 1 8 1 6-2 4-4 11-14 6-12 0-2-11-6-20-8z" fill="#539abe"/><path d="M1005 72l5 0-3 2-4-2zM1405 72l5 0 2 6-1 4-4 3-4-13zM1453 72l4 0-2 2-3-2zM1039 80l2-1 4 5 8 3 2 5 4 6 0 4-4 1-4-5-10-5-2 0-3 3-1 4 2 4-3 4-11 5-13-1 0-2 1-2 8-6 2-1 7-1-2-6 2-6 7-3zM896 86l10 6 1 2-2 5-4 1-6 0 0-14zM1391 89l4 0 8 1 6 4 4 1 2 3 0 8 2 2 8 3 9 5 8 18 12 16 21 13 24 21 6 4 1 2 1 10 6 10 4 4 9 4-1 10 2 8 2 2 8-2 13 6 2 8 3 4 8 7 10 3 10 10 0 4-4 6 0 2 2 3 7 3 2 8 5 8 4 2 10 2 8 5 2 4 0 147-724 0 0-333 4 5-2 8 1 8 6 6 1 2 0 4-2 4 2 2 4 2 7 12 0 4-3 14 1 8 1 1 12-1 6-2 6-4 11-14 7-11 10-8 16-2 12 1 14-1 18-4 12-6 10-7 5-6 11-24 12-8 14 0 6 7 4 1 4-1 2-2 6-11 4-1 8 1 6 0 4 2 2 4 6 4 4-1 4-5 2 0 7 0 9 4 6-3 10 0 6 1 3 6 3 2 4 0 6-2 8 0 8 3 6-3 4-6 4-2 14 1 10-2 6 2 8 0 6 4 16-3 12 3 8-1 8-6 6-1 4 2 0 9 4 2 2-2 3-8 9-6 4-1 24-3 8-8 0-6zM1441 98l4 0-4 1zM1215 108l2 0 3 2-1 4-2 2-4-1-1-3 1-2zM897 110l8 2 2 2-2 8-10 10 0-22zM921 146l2 0 1 2-1 2-2-2z" fill="#61a1bf"/><path d="M1395 95l4 1 9 6 7 11 15 5 4 8 8 12 11 14 20 13 11 11 7 10 2 8 5 6 3 9 4 5 8 6 2 6 6 8 2 9 4 5 1 6 1 1 3-1-3-6 6-6 4 0 4 2 2 4-6 8 2 8 2 3 3-1 1-2 1-6 3 0 4 2 4 5 8 4 6 9 1 8 1 4 6 6 2 5 6 7 4 12 2 2 2-1 8-3 6 5 4 7 1 8 3 6 0 124-724 0 0-260 11 4 1 4-2 6 0 1 2 1 9-6 13-2 8-4 16-18 6-10 10-8 12-1 14 0 14-1 24-6 8-5 10-7 5-8 5-12 4-8 12-6 4 0 8 2 7 4 7 1 6-2 6-7 6-1 4 1 6 6 2 1 4-2 10 2 8-3 14 4 10-4 3 0 13 7 4 0 10-2 10 3 11-4 9-7 16 1 8 6 12 4 4-2 8-6 8-1 4 1 8 4 12 0 8-1 6 3 14 3 2-2 2-11 5-6 3-1 14-2 10 0 6-5z" fill="#70a8bf"/><path d="M1401 106l4 1 2 2 7 11 8 2 5 6 8 4 16 21 4 4 8 3 10 8 8 10 6 14 5 8 6 14 11 13 9 15 4 22 3 2 6-2 2 0 4 6 8 3 6 1 8-2 2 1 6 7 1 8 2 4 11 14 0 4-5 4 1 2 6 4 3 8 7 1 10-3 4 2 1 6-5 9-2 2-8-1-5 2 1 2 8 6 12-1 5 1-2 10 1 6 6 15 0 83-724 0 0-222 4-10 4-6 8-2 8-7 12-3 6-4 16-18 7-10 10-8 5-1 20 0 14-2 18-4 8-3 14-9 5-5 3-5 4-11 4-7 4-3 6-1 4 0 10 3 20 5 8-4 2 0 14 7 4-1 6-5 18-1 20 6 10 2 16-4 10 3 22-9 6 1 8 0 5 2 17 5 7-3 7-6 4 0 3 0 0 2 0 6 5 4 8-3 8 0 8-3 12 1 14 3 4-2 1-2 1-8 4-8 12-3 8 3 2 0 4-4z" fill="#7fb0c0"/><path d="M1371 120l4 1 6 4 10-1 6 1 6-1 8 6 8 0 6 3 6 0 4 3 10 15 6 7 10 6 3 6 1 8 4 2 8 1 2 2 4 10 6 9 4 16 6 6 6 8 2 8 6 8 1 6 0 10 7 8 4 7 2 0 4-3 2 0 8 2 6 5 6-1 4 2 4 8 2 6-1 4-5 8 2 8 2 1 8 0 3 1 2 2 1 6 6 4 4 6-6 10 0 4 2 5 7 3 3 5 6 4 8 0 2 1 4 8 1 6 7 8 0 76-724 0 0-211 9-11 3-6 7-6 5-9 16-6 27-31 10-8 3-1 34-2 20-5 6-2 18-12 5-8 5-14 4-5 4-1 6 0 12 5 10 1 8 7 14 2 12 9 4 2 5-2 3-8 6-8 10-3 5 1 11 9 8 2 15-1 7-5 10 1 10-4 14-3 14 3 8-1 8 5 14-2 8 1 8 3 8-3 10 1 10-3 22 3 9-4 3-11 3-5zM1071 162l-2 2-2 4 2 4 2 1 5-3 5-6-1-2-3-2z" fill="#8db6c3"/><path d="M1369 130l4 1 2 4-2 1-6-1-1-3zM1071 132l6 1 3 1 3 4 1 4 0 10-1 2-14 5-4 3-2 4-1 4 1 2 4 5 4 2 6-1 10-12 2-1 6 4 4-1 2-2 3-8 5-3 4 0 10 7 14 3 3-1 6-6 4-8 5-6 4-2 6 1 8 8 2 0 22 2 10-1 18-9 10-1 6-2 14 3 6-1 2 0 3 4 3 1 22-1 8 2 12-3 14 7 14 1 4-1 6-4 8-3 19-3 11-7 14-4 4 1 6 4 8-1 14 3 4 4 6 14 6 8 6 4 1 2 0 10 1 3 12 5 8 0 2 3 5 11 4 30 0 4-2 4 1 5 2 2 4 2 4-2 4-3 2 1 2 3 0 6-8 1-3 3 1 4 5 6 1 5 2 0 3-3 3-1 4 2 3 3 5 11 20 17 2-1 4-4 2-1 3 2 0 2-5 6 3 8-3 8 0 10 2 2 6-1 8 3 6-2 6 2 0 2-2 2-6 2-2 2-2 6 2 6 6 11 8 3 4 6 2 1 6-2 4 2 3 5-1 4-3 4 2 12 2 4 3 4 6 1 6 5 6 2 0 23-4 3-1 4 3 12-2 8-720 0 0-205 10-9 6-10 7-4 1-2 1-8 2-2 11-4 4-3 10-13 26-24 4-2 6 0 28-4 20-5 20-10 4-3 4-6 3-12 2-6 3-2z" fill="#9abcc6"/><path d="M1067 136l4-2 6 2 2 2 1 4-3 10-12 4-3-2 0-6 2-8zM1395 140l10 0 10 3 12-1 5 0 5 8 4 19 8 14 10 8 12 5 4 3 2 5-2 6 1 12 5 8-1 8 1 14 3 6 2 8 11 12 6 3 6 0 1 1 1 2-2 6 1 4 4 6 1 5 6 5 4 11 3-1 0-6 5-7 2 1 2 4 0 8 4 3 1 3-1 4-2 2 0 5 2 2 10 3 5 4 2 10 5 8 0 6 1 2 3 2 6 0 2 2 2 5 6 5 7 12 5 12 0 10 1 2 3 3 5 1 0 2-7 4-1 2 3 7 4 2 2 0 3-3 5-10 3 2 0 2-5 6-7 10 0 4 2 8-1 6-710 0 0-199 6-3 5-6 8-6 2-6 6-4 2-4 2-8 11-7 12-15 12-11 9-7 6-6 15-3 10 0 14-3 18-5 12-7 6 0 3 2 1 4 7 4 3 18 6-8 12-2 6-12 18 1 6 8 2 0 6-4 10 1 2-4 0-4 2-1 6-1 5-4 4-4 5-8 4-3 2 0 0 1-2 6 0 4 2 3 4 1 7-2 9-6 16 1 15-3 7-6 4-2 4 0 6 5 2 0 4-7 4-2 8 2 8 5 14 0 8 2 8-3 8 3 10-1 2 2 2 4 2 2 12-2 14 2 6 2 8-3 8 1 2-1 7-9 3-1 8 1z" fill="#a7c1ca"/><path d="M1067 138l2-1 4 0 3 3-1 8-4 4-4 0-2-1-1-3 1-6zM1401 146l2 0 1 2-2 4 0 4 2 2 3 1 10-1 1-2 1-6 2 0 6-1 4 2 2 5 0 8 2 6 1 8 9 10 8 4 8 8 6 3 3 11-4 8 0 8 1 2 6 3 2 3 1 6-1 10 4 8 3 8 7 8 2 4-1 6 1 1 4-3 4 1 2 2 6 17 8 8 2 10 12 10 8 9 8 5 4 5 1 7 5 12 8 7 4 6 6 5 4 6 0 6 2 4 2 2 6 1 1 3-5 4-2 4 2 4 5 6 5 12 5 16 0 10-703 0 0-192 8-4 8-7 8 0 4-1 5-8 1-3 3-5-1-6 2-8 8-8 8-12 6-6 24-17 12-5 10 2 8-4 8-1 10-3 8-2 6-5 4-1 6 8 6 2 1 2 1 6-3 10 1 5 2 3 2 0 4-1 8-7 4-5 2 0 4 6 2 1 2 0 6-8 2-1 4 1 4 10 4 1 6-2 3-3 2-4 1-6 2-4 2-1 8 1 12-2 3-4 3-8 4-3 16 1 18-6 22-3 4 1 10 3 8-1 4-1 3-3 5-10 2 0 16 6 10 0 10 3 6 0 6 3 6 1 6 4 4 0 7-1 9-4 18 5 10-3 10 1 6-2 6-1zM987 234l-4 4 1 2 4 0 2-2 1-2-2-1zM1567 396l3 0-3-1z" fill="#b5c8cf"/><path d="M1069 141l2 0 1 3-1 3-2 1-2-1 0-3zM1247 160l8-1 7 1 9 5 6 2 12 9 4 1 34-8 12 2 14-4 10 3 14-3 8-5 4 0 14 5 18 2 3 3 3 8 1 2 9 4 8 6 6 3 2 3 3 12-3 6 1 2 5 6 0 10 6 7 6 17 4 5 1 3 3 12-3 6 0 4 7 6 4 5 2 1 6 1 2 1-2 6 2 2 8 3 4 3 1 10 8 6 4 8 3 2 8 3 6 5 6 14-1 8 1 4 3 2 11 6 1 4-2 6 1 5 2 3 8 3 3 3 1 4-1 6 11 14 4 22 4 8 1 6-697 0 0-145 4-5 2-6-2-6-4-5 0-17 8 6 4 1 10-4 2-5 8-2 2-2 2-4 6-6 12-18-1-4-9-5 0-4 4-6 4-3 4 1 3 5 5 0 1-2-4-8 1-6 12-12 9-6 5-5 8-3 6 4 10 3 8 5 4 9 12 7 10-3 8 0 24-8 2 0 5 5 3 1 4-3 6-6 2-1 8 5 4 0 6-1 8-4 8-1 3-4 1-6 2-1 8-2 8-6 2-2 0-5 2-2 24-1 10-6 14-1 14 3 12-2 8-2zM972 218l-1 2 4 6 0 6-2 5-6 2-2 3-1 4 3 3 4 0 4-3 10 3 4-1 4-2 11-12 0-2-7-12-4-1-12 2-3-1-3-2-2 0zM1043 180l4 2 5 6-1 3-4 0-4-3-2-4zM1037 198l8 4-4 6-6 1-2-1-2-4 2-4z" fill="#c1cfd4"/><path d="M1255 164l2 0 9 6 9 4 8 7 6 3 14-1 6-2 6 1 8-5 6-2 8 0 12-3 6 0 12 6 12-6 6-1 8 5 8-1 4 1 8 8 4 6 2 2 6 2 8-3 6 2 6 7 0 4-3 8 1 8 2 3 5 5 6 12-2 10 1 8 6 1 8 4 3 3 0 10-3 8 2 10 11 10 4 12 7 3 6-1 3 0 1 2 1 6 2 4 8 6 9 11 10 5 3 2 0 4-2 6 4 12 11 8 1 4 2 10 11 14 5 12 9 8 9 36-691 0 0-109 8-7 6-13 2-1 5 0 2-6 7-4 2-6-2-6-10-7-3 1 0 2 3 8-2 5-4 2-4-1-2-2 0-2 3-8 3-10 16-6 8-13 12-11 1-8 3-4 2 0 8 5 6 0 2-1 3-6 3-2 4 0 4 3 2-1 4-4 11-4 3-6 2 0 4 1 10-9 4 0 4 5 6-1 4-2 5-10 9-3 8-7 8-2 6-1 6 3 4 0 12-6 12 3 16-6 12-2 4-3 6-8 8-4 8-2 11-6 11-3 8-8 4 1 4 3 8 1 6-3 8 0 14-4 6-2 7-5zM987 200l11 4 2 2-1 3-12 5-4 0-3-4-1-4 4-4z" fill="#ccd5d9"/><path d="M1341 178l4-1 4 1 1 12 4 4 4 6 3 2 2 0 3-2 2-4 3-10 2-2 4-1 5 1 2 2 0 10 3 3 8 0 14 3 8-2 2 0 6 7 8 1 5 10 0 8 8 14 0 2-3 6 3 14 3 4 14 5 3 3 1 2-3 8 1 10 11 10 3 4-2 12 2 4 2 3 2 0 6-1 2 0 10 10 0 6 3 4 9 4 4 4 8 6 1 4-3 10 1 6 9 9 4 1 6 0 2 2 2 8 5 8 2 6 6 6 3 8 10 6 4 14 0 8 4 12-686 0 0-75 1-3-1-8 8-6 6-7 1-3-1-6 3-10 15-7 5-7 4-20 0-10-2-6 1-4 4-4 2 0 4 2 2-1 4-13 6-5 2-1 2 2-5 10 0 4 7 4 10-2 2-2 4-6 12-23 10-3 6 1 6-2 8 2 6-1 2-2 2-6 9-6 5-8 6-4 18-5 8 3 14-8 2-1 10 4 10-1 8-6 21-8 9-7 14-4 8 3 3-2 3-6 8 2 10-2 3-2 1-4 4-2 8-1 6 2 12-5 4-1 12 5 14 3 4 0 2-2 4-6 4 1 6 6 6 4 8-1 10 2 10-4 11-7 5-1 6-1z" fill="#d7dcdf"/><path d="M1337 196l4-1 6 3 8 8 14 6 4 1 6-3 3 0 4 8 3 3 14-2 4-2 8 2 10-1 4 2 0 2-2 5-7 5 0 2 1 4 2 1 2 0 6-6 4 1 2 2 1 4-4 6-1 8 4 16 4 4 12 0 4 2 2 2-2 8 1 4 3 6 9 8 4 6 0 4-1 6 1 8 2 4 6 4 2 2 0 10 17 8 12 12 4 6 0 10 2 4 10 8 10 1 3 1 1 6 5 8-1 10 2 4 6 4 6 6 8 2-1 8 2 16-3 6-672 0 0-66 8-11 6-5 2-8 8-14 0-6 2-2 6-4 16-17 7-5 4-6 3-8 9-6 3-7 8-3 8-6 8 0 2-4-1-6 3-10 6-5 4-1 4 0 8 6 4 1 3-3 3-7 6-3 18-16 3-2 9-2 2-6 2-1 6 0 14 5 2 0 1-6 4-2 5 1 10 3 4-1 17-11 5-6 2 0 6 1 8 1 6 2 14-8 2 0 0 2 2 2 8 1 2 1 2 4 3 2 7 2 4 0 15-6 2-4 0-8 4-4 4-2 15-1 8 4 8-3 6-4 4-1 8 1 12 4 2-1 2-3 4-1 6 2 6 0 2 1 2 8 2 1 8-5 6-5zM1254 216l0 2 3 5 2 1 2-1 0-3-2-4-2-1zM1242 222l-1 2 0 2 2 2 3-4-1-2z" fill="#e1e3e5"/><path d="M1339 211l17 3 6 10 3 3 6-2 2 1 8 12 13 6 1 4 0 6 1 2 7 5 8 0 2-1 2-4 4-2 4 0 4 3 2 3 5 12 11 12 4 8 16 13 3 7-1 5-6 5-4 1-6 9-7 4-1 2 1 2 3 2 12 3 4-7 4-3 2 0 4 3 3 4-1 4-4 3-8 1 5 8 6 6 1 6 6 5 4 1 12-8 7 8-6 10 0 4 1 2 6 2 6 4 10 0 4 4 2 14 10 12 5 12-2 8-5 4-3 6 1 2 8-1 6 4 10 1 2 2 1 2-49 0-2-2-1 2-608 0-4-6 0-6-1-2 0-24 4 0 8 4 5-2 1-16-1-4-5-3-1-3 1-4 14-11 9-5 4-8 9-8 8-4 2-4-2-2-5-4 1-2 8-3 2-3 3-8 0-6 6-10 8-6 3-7 6-3 2-4 2-1 10-1 8-6 4-2-3-6 1-2 2 0 8 2 12-3 6-3 8-11 1-7 3-3 4-3 12-2 10-11 4-1 10 4 4 0 12-2 16-5 12 2 4-3 4-7 2 0 4 5 6 4 2 4 2 0 8-4 4-12 2-2 4-1 4 1 0 2-3 6 0 2 3 4 4 2 4-1 4-5 4-2 20 3 8-3 6 1 6-4 12 5 6-3 6 1 4-1 20-12 12-3 10-3 10 0 10 2 12-2 2-1zM988 310l-1 2 2 3 2 1 2-1 0-4-2-1zM1450 370l-5 2-4 4-1 4 2 2 7 2 11-2 3-1 1-5-2-4-5-2zM1469 392l-1 4 3 8-6 6 1 8-4 8 1 2 2 1 2-1 4-6 9-4 1-2-1-8 5-8 0-2-1-2-9-4-4-1zM1490 416l1 3 1-3-1 0zM901 444l0 2 2-2z" fill="#ece9ea"/><path d="M1313 226l6-1 10 4 11 7 9 8 28 21 20 8 5 5 2 12 5 9 2-1 4-10 0-16 1-4 5-5 4 1 3 8 7 8 5 12 4 14-1 2-2 2-8 3-16 0-1 1-5 18-1 10-3 6-6 3-10 2-16 4-8 0-20 4-24 1-16-2-20 10-1 4 1 6-2 3-6 1-6 2-10-1-10 2-3-1-3-4 9-4 0-2-2-2-9-2-2 2 2 6-2 2-4 1-4-1-2-2 0-4 2-2 3-2-1-2-8 0-8-4-6 0-2 0-3-4 1-1 3-1 1-2-6-2-12-14-8-4-5-8-12-8-13-4-10-5-8 2-16 9-8 1-22 8-8-1-12-7-14 3-10 0-8-6-11-4 2-14 3-6 5-8 7-16 4-3 7-5 11-4 16-3 26 1 16-2 22 2 14-1 12 4 10 5 18-2 8 0 22-14 10-4 10-6 28-12zM1009 322l8 2 3 2 1 4-4 5-2 1-10-2-4-2-1-2 2-4 3-3zM1157 328l4-1 10 5 2 2-2 5-2 1-12-6-1-4zM1035 337l4-1 3 2-2 12-3 4-6 1-4-1-2-4 0-4zM1101 338l3 0-1 3-3-1 0-2zM1145 358l3 0 2 2-1 4-2 1-3-3-1-2zM1077 360l2 0 2 2 0 2-2 4-8 3-4-2 0-3 2-2zM1059 374l2 0 1 2 1 6 1 2 8 4 3 4 1 4-2 2-7 4-11 10-5 2-11 0 1-2 6-3 5-5 0-12-1-8 5-8zM1409 374l2 2-1 4-5 2-2-2 0-2 1-2zM1095 376l2 0 2 2 2 4-2 2-6 1-2-1 0-2 2-5zM1201 384l2 4-1 6 1 8-1 2-7 4-3 4 0 4 2 4 9 10 1 2-2 4-3 2-10 2-6-3-6-6-8 2-4 0-3-5 0-6 7-6 7-14 2-6 11-2 6-7zM1141 392l4 0 2 2-2 4-6 4-6 1-2-2-1-3 1-2 2-2zM1433 400l7 2-3 7-2 1-4 0-4-2-1-2 2-4zM971 402l4-1 2 1-1 2-3 3-6 3-1-2 1-4zM1325 406l3 0 2 2 0 4-3 4-8 4-2-4 1-4zM1413 411l2 1 3 4-1 3-4 2-2-1-2-4 2-3zM1031 416l4-1 4 1-1 4-3 4-4 0-3-2 0-4zM1383 417l8 1 10 0 3 6 0 4-11 7-6 0-4-1-3-2-1-4 2-9zM1271 420l2 0 1 2-1 2-2 0-1-2zM1229 422l6-1 6 6 9 3 1 2-3 12-5 4-1 2 0 18-24 0 0-4 4-8-1-10 7-14 0-4-1-4zM989 426l2-2 2 1 4 3 2 4-4 3-4-2-2-3zM1079 430l2 2-1 2-1 1-2-3zM969 432l2 1 1 1 0 8-1 8-2 2-4 1-5-5 0-4 3-7zM1113 433l2 2 0 3-3 4-3 2-2-2-1-4zM939 440l2-1 4 0 5 3 2 8-3 7-4 1-16-6 2-6zM1151 440l2 0 4 2 4 4 1 2-1 3-8 5-1 8-3 4-29 0 1-6 1-2 9-2 4-6 8-4zM1273 440l4-1 4 2 8 16 4 3 5 0-1 2-10 4-2 2-11 0 4-6-7-4-8 0-2-4 2-4 4-1 2-2zM1037 445l6 1 4 4 16 7 8-4 2 1 1 4-1 2-6 6-1 2-24 0-5-2-3-6 2-6-1-6zM1005 456l4 0 4 2 4 10-22 0-1-4 1-4 2-2zM1309 460l8 3 4-1 6-3 6 4 8 1 3 4-42 0 0-4 2-2zM1173 462l8 0 2 2 2 4-17 0 3-5zM1459 462l4-1 5 1 2 2 1 4-20 0 3-4zM929 464l8 2 2 2-11 0 0-4zM1189 468l2-1 5 1z" fill="#f0e8e6"/><path d="M1317 230l6-1 8 4 8 5 7 6 29 23 20 7 4 4 3 12 3 8 6 8 2 8-1 6-4 14 0 8-3 5-30 8-8 0-8 2-36 2-18-1-18 9-8 6-10 1-34-7-8-1-5-4-5-6-9-6-9-10-8-5-6-7-14-8-10-4-10-5-4 0-6 2-16 8-24 5-10 3-8-3-6-7-4 1-8 3-12 1-17-10 1-8 4-8 4-4 7-2 1-1-1-7 2-4 13-10 14-8 10-1 20 3 18-4 24 2 10-1 6 1 18 8 26-3 4-1 18-12 12-4 8-6 30-12 6-1 18 2zM1061 290l-5 2-1 2 0 10 2 3 8 1 3-2 3-5 2-1 1-4-1-2-8-4zM1077 304l0 2 2 1 0-1zM1419 270l2-1 10 11 2 6 4 9 2 11-2 3-5 1-9 1-4-1-5-4-1-4 5-16zM1007 326l6 0 2 2 0 2-4 1-6-1 0-2zM1189 402l2 0-2 5-2-1 0-2zM1387 423l8 0 2 1 0 2-6 4-4 0-2-2 0-2zM1277 450l2 0 1 2-1 2-3-2zM1143 457l3 1 1 2-2 2-2 0-2-2 0-2zM1229 462l4-1 2 1 2 6-13 0 1-4zM1131 464l2 1 1 3-10 0 3-3zM1005 466l2 0 2 2-4 0zM1051 465l4 0 2 1 1 2-8 0z" fill="#eddfd9"/><path d="M1285 234l6-1 22 5 10 1 8-1 4 1 2 1 6 8 8 3 10 9 4 6 3 8 3 3 4 2 6 1 7-4 3 0 5 2 2 4-1 4-4 0-8-4-2 1-2 7 2 4 2 2 14 1 2 1 6 10 2 6 0 6-2 2-6-3-8 1-3 2-2 4 7 14 2 1 2-7 4-2 2 6 0 4-1 2-3 1-4 0-12 5-10 3-8 0-22 4-12-1-12 1-16-2-18 10-8 6-10 1-42-9-8-9-10-5-7-9-9-6-6-7-14-10-10-2-12-6-4 0-10 1-7 6-5 2-8 0-2-1 6-13 1-10-6-16-1-4 2-6 4-3 10-2 22 1 10-1 5 1 15 8 4 0 28-3 4-2 18-12 14-2 10-9zM1089 265l2 0 2 0 2 1 0 2-2 2-4 0-2-2 1-2zM1081 270l2-1 4 1 2 5 2 2 6-5 4 1 1 3-5 6-3 0-5-2-6 4-4 0-4-2 0-4zM1419 296l2-1 8 3 2 6-1 2-7 2-5-2-2-4 1-3z" fill="#e9d3ca"/><path d="M1283 236l4-1 6 0 31 9 9 12 0 7 2 3 5 6-4 6-24 24-2 12 3 1 16-4 4-8 2-1 24 17 2 0 8-7 0-2-8-12-2-2-6 1-2-2-4-9 2-1 2 1 8 10 6-3 4-5 4 0 1 4-3 8 2 6-2 4-1 0-1 2 4 3 6 0 1 1-1 4-4 6-2 4 2 3 8 3 1 4-1 4-4 2-2-2-2-6-2-1-2 0-3 1-1 2 1 8-5 2-8-1-6 3-6 2-10-2-8 2-8 1-6-3-4-3-2 0-6 4-10 2-11 13-5 2-6-1-26-6-5-3 0-2 7-4 0-2-4-1-8 0-8-4-4 0-4 2-4-2-8-9-10-8-5-8 0-6-9-10-10-3-6 5-2 1-13-5-1-2 10-3 6-7 2 0 4 3 8-10 8-1 6 2 2-2 2-6 2-2 8-4 14-2 18-10 4 2 4 0 8-6 8-10zM1335 314l0 4-4 3 0 4 2-1 2-6 3-2zM1345 328l-3 6 0 6 7 6 6 0 7-10-1-6-4-4-10 1zM1339 258l6-1 6 3 2 6-2 8-5-2-3-2-5-10 0-2zM1137 268l6 0 12 6 5-4 3-1 2 1 0 4-2 3-6 3-2 4-2 2-12 3-2-1-4-3-6-9 4-6z" fill="#e4c7bc"/><path d="M1287 236l8 1 22 7 5 2 7 12 4 14 0 4-3 4-15 14-16 12-9 4-1 2 2 6 6 6 0 8-1 6-9 13-6 2-20 0-8-3-16-4-4-2-20-17-10-7-11-16 0-6 5-8 3-10 6-6 5-1 35-7 5-4 12-15zM1269 364l2 0-3 0z" fill="#dfbbae"/><path d="M1285 238l4-1 4 1 26 8 4 4 4 10 4 12-1 4-3 4-14 13-14 10-10 5-2 2 0 6 7 10 0 4-2 8-4 8-3 3-4 1-20 0-22-5-32-25-11-14-2-4 1-4 8-18 4-4 4-2 36-5 4-4 12-16z" fill="#dbb0a0"/><path d="M1285 240l4-1 4 0 22 7 4 2 7 14 3 10-1 4-15 15-16 11-8 4-4 4 0 6 7 10 0 4-1 6-6 11-4 1-20 0-20-4-34-27-10-13 0-6 8-17 4-4 38-7 5-4 13-16z" fill="#d8a795"/><path d="M1285 242l4-1 4 0 24 8 8 15 2 10-3 4-11 10-18 13-8 4-3 3-1 4 0 4 6 10 2 4-2 6-6 9-4 1-18 0-20-4-7-6-7-7-10-7-12-10-6-8 0-6 7-16 4-4 3-1 24-3 12-2 10-10 6-8 8-3z" fill="#d59e8a"/><path d="M1291 244l24 7 8 14 1 7-1 4-7 6-22 16-7 4-5 6-1 4 0 4 7 14-1 6-4 6-4 2-18 0-18-4-8-6-6-9-8-5-6-8-8-3-5-5-1-2 0-3 4-7 3-10 3-2 4-2 22-1 12-3 10-8 10-5 6-2 4-5 6-4 4-5z" fill="#d3947f"/><path d="M1273 270l2-1 1 1 0 6 5 8-3 8 2 12-3 8 0 12 1 2 5 3 0 5-2 4-2 1-8-1-12 2-15-4-5-3-2-3-2-10-6-7-2-8-10-2-5-5-1-14 2-2 6-1 20 2 8-3 10-9 4-1 8 1zM1291 270l5 0 1 2-1 6 3 4 1 2-3 4-6 2-3-2 0-2 4-4 0-2-5-4 0-2 1-2z" fill="#d08b74"/><path d="M1219 291l4 3 1 2-1 2-2 2-4-1-2-3 2-3zM1257 306l6 2 3 4-1 8-4 4-4 2-2-2-4-4 0-4 0-6 2-2z" fill="#cc7f67"/></g></g><g clip-path="url(#wd1)" fill="none" stroke="#111" stroke-width="1.25"><path d="M1029 130l-12 5-10 8-5 7 0 4 3 4 4 2 4 1 12-2 10-6 8-7 2-4 1-4-1-4-1-2-2-2-3-1-10 1M1035 128l-8 2-8 3-11 7-4 4-4 6 0 4 3 4 3 2 5 2 10-1 10-4 9-7 4-4 2-4 1-4 0-4-2-3-2-2-8-1M1029 128l-14 6-10 8-5 6-2 4 1 4 1 2 3 2 6 2 6 0 6-1 12-4 10-9 3-4 2-6 0-4-1-4-2-2-4-1-6 0-6 1M1035 126l-8 2-8 3-12 8-6 5-4 6-1 4 2 4 2 2 5 3 4 0 6 0 8-1 6-2 6-4 5-4 6-6 2-4 2-6 0-4-2-4-3-1-4-1-6 0M1029 126l-14 6-8 5-6 5-4 6-3 6 0 2 3 4 4 3 6 1 6 0 8-1 8-3 6-3 10-9 4-6 2-6 0-6-2-3-2-1-6-1-12 1M1619 219l-8-5-4-7-2-1-4-1-9 1-2 2 3 8 2 4 12 8 4 7 2 1 2 0 4-3M1033 124l-6 2-10 3-10 7-5 4-6 6-4 8 0 2 2 4 5 3 6 2 6 0 8-1 6-1 8-3 12-10 5-6 2-6 1-6-2-6-2-2-4-1-6 0-6 1M1619 202l-4 0-10-2-22-1-2 1-2 2-1 4 2 4 7 8 6 10 10 7 6 9 2 2 8 2M1037 122l-18 5-6 3-8 6-9 8-6 10-1 4 8 6 6 2 6 1 8-1 8-2 8-3 6-4 7-7 5-6 2-6 1-8-1-5-2-2-6-1-8 0M1471 134l-3 2 0 2 1 3 2 2 2-1 2-2 2-4-2-2-4 0M1619 172l-4 0-2 2 0 2 2 1 4-4M1619 189l-4 0-10-5-4 1-6 3-4 1-3-1-5-3-4 0-8 3-3 2-1 4 0 8 2 4 12 14 8 12 8 6 10 11 9 5 3 6M1039 120l-20 5-6 3-10 7-10 9-6 10-2 6 12 6 12 2 16-3 8-3 6-4 9-8 4-6 3-8 1-8-1-4-4-3-6-1-6 0M1467 127l-5 5-1 3 0 3 4 6 6 4 4 2 10-1 6-3 5-4 0-2-17-11-6-2-6 0M1216 72l3 3 6 2 3-1 1-4M1291 72l1 4-1 1-8 0-4 1-6 1-3 1-2 2 2 4 5 4 6 3 4-1 4-2 8 2 2-1 4-3 3-4 0-12M1561 72l-4 8 1 2 9 4 2 0 1-2 6-12M1619 152l-6 1-8 11-2 1-6-2-3 1-2 2 0 2 2 4-1 2-2 1-2 0-1-3 0-4 0-2-4-6 0-4 1-2 2-1 6-2 6-7 1-4-5-6 2-3 4-4 0-3-1-2-3-2-6-1-4 1-8 5-4 5-2 6 0 2 4 6 1 2-7 14-4 6-2 1-6-5-2 0-2 2-1 2 1 5 4 5 0 2 0 6 0 10-1 6-4 6-1 4 2 2 6 0 2 0 13 10 5 6 5 8 7 6 16 14 1 2 2 8 6 8 1 4M1565 92l-3 2 0 2 2 8-3 8 1 2 1 1 8 0 4 1 2-1 2-3 0-2-1-8-1-1-6-2-2-3-2-3-2-1M1603 112l-2 0-2 2 0 2 2 3 2 0 2-1 2-4-1-2-3 0M1039 118l-22 6-18 12-7 6-8 10-5 10 2 2 6 1 8 3 12 1 18-3 8-3 6-4 8-7 5-6 4-10 2-10-1-4-4-3-6-1-8 0M1547 118l-1 2 3 11 2 1 2 0 4-1 2-2 1-3-1-4-2-1-4-1-4-2-2 0M1469 122l-10 1-4 5-1 2 3 8 2 4 9 8 7 4 8 1 10-1 10-4 6 1 2-1 1-4-1-3-2-5-4-3-14-4-16-9-6 0M1531 172l0 2 2 6 2 1 1-1 0-2-1-6-2-1-2 1M937 194l-6 4-2 2 0 3 3-1 2-2 3-4 0-2M1079 72l2 3 10 4 5-3 2-4M1143 72l10 10 0 4-2 7 2 5 2 2 4 2 8-2 8-4 10-3 12 0 8-3 16-2 6 1 2 1 6 6 8 2 4 0 3-2 7-6 3 0 5 7 14 3 4 0 6-3 10 1 8-3 12 2 13-5 3-4 2-6 4-3 6-3 1-4M1516 72l-3 2-4 0-3 2-5 10-6 5-3 7-4 6 1 2 6-2 4 0 6 3 2-1 6-7 2-1 8 1 4 1 1 2-1 4-1 2-3 1-6 0-2 1-4 8-14 7-8-3-14-7-4 1-6 2-8-2-10 0-1 2 1 4 0 6 2 4 6 10 3 4 15 10 16 6 2 0 8-3 3 1 4 8 3 4 7 4 5 8 4 6 4 2 8 1 1 1 3 8-3 6 0 2 13 16 6 3 4 0 6-2 2 1 2 6 2 3 16 9 8 10 3 6 1 7 6 6 4 10 2 2 6 1M1123 76l-8 4-2 2 0 2 1 4 3 4 4 2 4 0 2 0 2-2 2-6-1-4-2-4-3-2-2 0M1591 93l4 1 3 2 1 2 0 2-2 2-3 0-2-2-1-4-1-2 1-1M1539 100l4 0 2 0 6 6-1 2-5 2-6 4-2 0-2-4 0-6 1-2 3-2M1037 116l-6 2-16 4-18 11-19 17-4 10-1 6 2 2 10 0 12 2 12 0 12-2 8-2 8-4 6-5 8-7 3-6 8-24-1-2-2-1-6-2-10 0-6 1M1539 142l4-1 4 1 8 3 4 3 1 2-1 2-6 3-12 2-4-1-3-4-2-6 7-4M939 182l-4 2-9 12-2 6 0 4 7 1 4-1 11-16 1-2 0-2-4-4-2 0-2 0M979 72l-2 8 0 2 2 1 8-3 4 0 4 2 2 0 2-2 0-2-3-6M1018 72l-2 6 1 3 2 0 6-4 6-2 2-3M1058 72l0 4 2 2 5 4 4 4 4 3 8 0 5 7 5 4 4 1 4-1 3-4 1-1 2 0 4 1 2 2 1 2-3 2-8 0-2 1-4 3 1 2 7 1 5-5 1-1 6 0 10 2 10-2 6 2 8 1 10 4 4 1 10-4 6-2 12 1 4-3 2-1 2 1 4 3 10-8 10-2 4 2 4 7 4 2 14 3 10-1 8 1 8-1 10 4 12-3 8-1 6-2 10-1 8-3 16 2 6-3 6-3 10 0 2-1 4-4 3-14 8-4 1-4M1429 72l1 4 3 3 3-3 3-4M1462 72l-2 4-5 6 1 2 3 3 1 3 0 4-5 12-4 2-10 2-3 2 0 2 2 6 3 10 2 4 10 13 3 3 21 12 6 5 12 5 6 6 7 4 5 6 3 8 2 4 11 13 2 3 1 2-1 6 2 2 6 1 8 6 7 3 2 4 0 8 3 4 4 1 6-3 2 0 3 2 2 2 1 6 2 3 2 1 6 0 2 2 2 4 0 12 4 8 1 6 1 1 6-2 4 0 3 1 2 4 5 4M895 80l8 0 6 6 8 6 8 1 6 2 12 0 8-2 6-4 6-3 4-8 0-6M945 77l4 0 2 1 1 2-1 2-2 2-4-2-1-2 0-2 1-1M1005 100l-2 2-3 4 1 1 6-5 0-2-2 0M975 102l-6 1-2 1-1 2-1 4 0 6 6 3 1 1 1 2-3 2-3 1-6-4-2 0-2 2-3 7 2 6-3 8 1 2 1 2 8 4 1 2 0 4-2 4 0 2 3 4 4 3 14-1 12 2 14 0 18-4 10-5 10-7 6-7 3-5 7-19 9-9 1-4 0-2-4-2-10 3-18-1-14 6-26 4-2 0-2-4 0-4 2-4 0-1-4 3-4 2-4-2-6-8-2-1-4 1M945 104l-2 0-2 2-3 8 2 2 3 1 4 3 2 1 2 0 2-3-2-10-2-4-2-1-2 1M917 106l-1 2 0 2 1 2 2 1 2-3 2-4-2-1-2 0-2 1M985 122l2 0 4 5-1 3-3 2-4 0-3-4 1-4 4-2M919 168l-3 2 0 4 3 3 4 0 2-3 0-4-2-2-4 0M937 172l-4 2-4 4-2 8-6 10-2 8 0 4 1 2 9 1 4-1 4-2 12-16 5-10 0-2-2-2-5-4-6-2-4 0M895 88l3 2 2 2 0 2-5 2M895 114l5 2 1 2-2 4-4 5M895 160l4 1 3 3 0 2-1 2-3 4 5 16 3 2 7 4 0 6-2 6 1 10 1 1 6-2 10 0 8-4 14-17 8-12 7-6 3-1 14-2 12 1 14-1 18-4 12-5 10-8 5-6 2-4 5-12 4-7 12-8 4 0 10 1 6 6 4 1 4-1 2-1 6-8 3-3 15 0 5 6 9 4 4-1 6-4 4 0 6 4 4 1 6-3 4-1 8 1 6 5 4 2 4 0 8-3 6 1 6 3 4-1 4-2 6-7 4-2 12 2 10-1 4 3 8 0 8 2 16-3 8 3 4 1 10-1 2-1 4-4 4-1 3 1 1 8 2 2 4 0 5-2 1-2 0-6 2-2 8-5 18-2 6 0 4-2 7-9 2-6 1-1 4 0 4 1 6 5 4 1 2 3 1 5 3 4 8 2 7 4 2 2 3 10 4 6 13 16 3 3 6 3 12 8 19 18 8 8 1 2 1 10 1 4 8 8 9 6 1 8 4 12 2 1 4-2 4-1 8 3 4 3 2 8 6 5 4 5 2 1 6 2 3 1 9 10 0 2-4 4 0 5 2 3 6 4 2 6 10 14 6-1 6 2 6 5 4 8M1019 105l4 0 2 1 0 2-2 2-2 1-6-1 0-2 4-3M895 246l4-10 4-6 8-2 5-6 3-1 12-3 6-4 16-18 7-10 10-8 5-1 20 0 14-2 18-4 8-3 14-9 4-4 4-6 6-15 4-5 4-1 8-1 10 3 14 3 6 2 2-1 6-3 2 0 6 3 4 3 4 1 4-1 2-3 4-2 18-1 20 6 10 2 16-4 10 3 14-6 6-3 2 0 6 1 8 0 5 2 7 2 6 2 4 1 7-3 7-6 4 0 3 0 0 2 0 4 0 2 5 4 8-3 8 0 4-2 4-1 12 1 10 3 4 0 4-2 1-2 1-8 2-6 2-2 12-3 8 3 2 0 4-4 12-7 4-1 4 3 6 11 2 1 7 1 5 6 6 3 4 4 8 11 6 7 4 4 8 3 10 8 8 10 6 14 5 8 6 14 11 13 9 15 1 4 3 18 3 2 6-2 2 0 4 6 8 3 6 1 8-2 2 1 6 7 1 8 2 4 11 14 0 4-4 2-1 2 1 2 6 4 2 6 1 2 3 1 4 0 10-3 4 2 1 2 0 4-5 9-2 2-6-1-4 1-3 1 1 2 8 6 12-1 2 0 3 1 0 2-2 8 1 6 6 15M895 261l8-7 8-11 6-5 2-8 2-3 12-5 3-2 27-29 6-5 4-4 4-1 6 0 28-4 22-5 20-12 6-8 4-14 2-3 4-3 8 0 4 2 3 2 3 6-1 6 4 6 0 2-3 4-4-3-6 1-6 1-4 3-3 4 0 4 3 4 4 3 3-1 3-1 6-7 4-7 2 0 6 5 2 0 2-2 7-14 1-1 4 1 8 3 6 6 10 4 4 0 6-6 4-9 5-6 3-2 4-1 4 1 8 7 4 2 6 1 14 1 8-1 6-3 16-6 8-1 6-2 14 3 6-1 2 0 4 5 2 1 12-2 10 0 8 3 2 0 10-3 10 4 5 0 21-2 16-5 2-1 1-2-2-4 1-4 2-2 4-2 2 0 6 5 2 1 4-2 8 1 10-2 2 0 6 5 8 0 6 1 6 1 4 2 2 3 7 13 6 8 3 3 4 1 1 2 1 4-1 6 1 4 10 4 8 0 2 2 2 6 4 8 4 20 2 3 4 2 2 3 0 2-4 3-2 5 0 3 2 2 2-1 2-2 2-5 2 0 7 11 2 4 0 4-3 6 0 2 10 8 3 8 3 4 10 6 6 7 2 0 8-5 2 0 2 1 3 5 0 2-1 2-3 4-1 2 2 8-4 9 0 5 12 2 4-3 2 0 1 1 9 4 1 2-1 5-2 2-6 1-3 2-1 4 2 4 3 4 3 7 2 1 6 1 2 1 2 5 2 0 6 0 8 5 1 2 0 2-3 8-1 8 1 6 2 2 8 2 6 6 4 2M1619 443l-2 2-1 3 3 7M895 272l8-4 6-7 10-3 1-2 0-4 5-8 2-10 2-2 10-7 12-16 10-9 9-6 7-6 14-4 10 0 32-8 8-5 4-1 2-1 3 1 3 7 6 2 2 1 1 10-1 8 0 3 2 1 6-5 2-5 2-2 2-1 10 0 6-9 2-1 4 1 6-3 4 1 2 4 1 4-3 5-1 3 1 5 2 1 2-1 2-3 0-2-1-6 9-7 8 1 5-2 2-2 1-4 6-2 6-6 6-6 5 6 3 1 4 1 6-2 10-5 8-1 6 0 18-3 2-1 4-6 2 0 2 0 2 1 4 7 2 1 4-5 4-7 2-1 6 1 8 5 4 1 12-1 8 3 8-3 6 3 8 0 2 1 2 4 4 3 4 0 6-3 4-1 6 2 8 1 6 2 10-4 6 2 2-1 7-5 3-4 8 1 4-3 10-8 10 0 10 3 12-1 4 0 2 2 3 6 1 12 4 13 8 9 4 2 6 5 10 4 3 3 1 2-1 8 2 6-2 6 0 2 5 4 1 2 1 14-1 8 5 8 2 8 10 11 10 5 1 2 1 8 4 6 2 6 6 6 2 10 2 2 10 5 3 7 3 5 2 1 8 2 3 2 3 4 0 8 6 6 1 8 3 3 7 1 2 6 4 4 13 20 2 6-3 8 1 2 4 4 0 2-2 4 0 2 8 14 0 4 2 8-2 8M1069 135l6 1 3 2 0 4 0 6-1 2-2 2-10 2-2-1 0-3 0-6 2-5 2-3 2-1M895 284l2 1 6 5 4 1 10-4 2-5 2-1 6-1 2-2 2-4 6-6 12-18 0-2-1-2-7-3-3-3 1-3 3-5 3-3 4-1 2 1 3 5 5 0 1-2-4-8 1-6 1-2 11-10 9-6 5-5 6-3 4 0 4 4 10 3 6 4 3 1 1 4 2 5 12 7 2 0 8-3 8 0 24-8 2 0 5 5 3 1 4-3 6-6 2-1 6 4 4 1 8-1 8-4 8-1 2-1 1-3 1-6 2-1 8-2 8-6 2-2 0-5 2-2 4-1 20 0 2 0 4-5 4-1 6 0 8-1 14 3 12-2 8-2 8-6 8-2 6 1 12 5 6 2 6 3 6 6 4 1 34-8 4 0 8 2 14-4 10 3 6-2 8-1 8-5 2 0 8 2 10 3 6 1 8 0 4 2 1 2 3 8 1 2 9 4 6 5 7 3 2 2 4 14-3 6 1 2 3 3 2 3 0 10 6 7 4 10 2 7 4 5 1 3 1 6 2 6-3 6 0 4 3 4 4 2 4 5 2 1 6 1 2 1-2 6 2 2 8 3 4 3 1 2 0 8 2 2 4 2 2 2 3 6 1 2 3 2 8 3 6 5 6 14 1 2-2 6 1 4 3 2 11 6 1 4-2 6 1 5 2 3 8 3 3 3 1 4-1 6 8 10 3 4 4 22 4 8 1 6M895 323l4-5 2-6-2-6-4-5M1069 141l2 0 1 1 0 2-1 3-2 1-2-1 0-3 0-2 2-1M1043 180l2 0 2 2 5 6 0 2-1 1-4 0-4-3-2-4 0-2 2-2M1037 198l8 4 0 2-4 4-4 1-2 0-2-1-2-2 0-2 2-4 2-1 2-1M973 218l-1 0-1 2 4 6 0 6-2 5-7 3-2 4 1 4 2 1 2 1 2-1 4-3 10 3 6-1 13-14 0-2-4-6-1-4-2-2-2 0-14 1-3-1-3-2-2 0M895 377l4-2 3-3 2-6 1-6 6-12 12-6 4-2 2-3 4-21-3-10 3-14 2-2 8-6 10-11 2-1 6 0 4 2 0 4-6 8 0 2 2 2 3 0 5-5 4 1 2-2 2-3 2-6 6-7 4-8 2-2 10-2 8 0 4-4 2-4 2-2 4 5 2 0 2-1 12-6 3-4 3-6 3-2 11-4 6-2 6-3 6 4 2 0 12-7 4-1 2 0 6 3 4 1 3-1 13-7 10-2 8-4 8-7 2-1 16-4 6 0 1-1 3-4 4-2 4 0 4 4 4 0 3-2 5-6 2-2 12-2 8 0 14-4 3 0 5 4 4 1 8-2 5 3 3 0 1-2-1-2-6-6 2 0 5 0 9 4 14 11 2 0 8 0 6 1 2 0 5-4 7-1 6-4 4-2 4-1 6 0 6-3 4 0 5 1 0 2 0 8 1 2 8 6 6-8 6-4 2-1 8 0 8 4 1 1-3 6 1 2 1 1 14 4 4-2 2-3 8 3 6 6 2 1 4-1 4-3 2 1 1 1-1 8 2 8 1 6 4 10 5 4 1 2 0 2-4 6 0 4 1 8 2 4 2 1 14 2 2 1 2 8-3 8 0 10 2 2 12 10 1 4-2 8 1 4 1 2 2 0 6-1 4 1 4 5 7 5 1 2-1 4 1 3 2 2 8 2 6 6 7 5 1 4-4 12 0 4 2 2 4 2 10 2 4 2 2 5 2 9 4 6 4 8 5 6 3 6 2 3 6 3 2 2 1 8 2 6 1 8 4 12M895 407l3-3 3-6 2-3 2-1 6-2 2-2 1-10 5-10 4-4 1-6 1-2 6-8 14-13 7-5 4-6 3-8 10-4 1-2 1-4 2-2 10-7 10-2 4-3 1-2 1-16 3-4 3-2 4 1 6 3 4 5 2 1 5-2 4-4 2-6 5-2 4-6 6-4 4-2 6-2 4-4 6-4 4-6 4-1 12 6 4 1 2 0 3-2 3-4 2-1 10 1 12-4 10-6 6-6 8 3 5-1 0 2-2 4 1 2 3 0 10-10 5-2 6 2 6 0 2 1 4 5 22 6 2-1 4-5 6-3 3-3 1-2 1-8 2-4 3-2 4 0 8 1 4 3 1 2-1 5-2 1-8 2 0 6 2 4 2 1 2 0 2-1 4-5 2-1 2 1 4 4 2 0 2 0 6-5 4 0 3-2 1-2 5-10 2-2 3 0 4 2 4 5 2 0 10-5 4 3 8 1 4-2 4-3 6-7 6-3 4 0 6 2 2 1 2 4 10 5 6 6 9 3 5 8 2 1 2-1 12-5 6 1 4-2 2-1 12 3-1 2-13 5-2 1-6-2-4 1-3 3 0 2 1 2 10 8 4 9 2 1 2-1 3-5 1-6 2-1 6 1 4 0 1-2 3-5 2-1 2 2 1 2-1 1-4 3-1 2 0 8 5 14 4 7 11 5 1 6 2 4 14 13 4 5 2 6-2 6 1 10 7 8 2 4-1 4-4 6 0 2 3 1 6 0 5 1 7 1 3 1 7 10 8 6 0 4-1 6-2 6 1 2 2 1 6 0 8 5 8 0 2 1 1 1 1 6 4 5 1 3-2 8 1 2 5 8 1 4 1 2 7 4 6 8 1 10-1 8" stroke-dasharray="3.4 1.5"/><path d="M928 468l0-4 1 0 8 2 2 2M995 468l-1-4 1-4 2-2 10-2 2 0 4 2 2 4 2 6M1042 468l-5-2-3-6 0-2 2-4-1-6 1-2 3-1 4 1 4 4 2 1 6 2 8 4 3-1 5-3 2 1 1 4-1 2-5 4-2 4M1120 468l1-6 2-2 8-2 4-6 8-4 6-7 4-1 2 0 5 4 1 2 0 4-2 2-5 2-1 2-1 8-3 4M1168 468l3-5 2-1 6-1 2 1 2 2 2 4M1189 468l2-1 2 0 3 1M1218 468l0-4 4-8-1-10 8-16-2-6 1-2 5-1 4 1 4 5 8 3 2 2-2 6-1 6-5 4-1 2 1 6-1 12M1274 468l4-6-2-2-5-2-8 0-1-2-1-2 0-2 2-2 4-1 2-2 4-7 2-2 4 2 2 1 8 16 4 3 5 0-1 3-10 3-1 0-1 2M1302 468l0-4 2-2 3-1 4 0 4 2 4 0 8-4 2 0 4 4 8 1 3 4M1451 468l4-5 8-2 4 1 2 1 1 1 1 4M1313 226l6-1 10 4 11 7 9 8 28 21 8 3 12 5 5 5 2 12 3 7 2 2 2 0 0-1 4-10 1-4-1-12 1-4 3-3 2-2 2 0 2 1 3 8 7 8 5 12 3 10 1 4-1 2-2 2-8 3-4 0-12 0-1 1-5 18-1 10-3 6-6 3-10 2-16 4-8 0-20 4-8 0-16 1-10-2-6 0-2 0-6 5-12 5-1 4 1 6 0 2-2 1-6 1-6 2-10-1-10 2-3-1-2-2-1-2 6-2 3-2 0-2-2-2-9-2-2 2 2 6-2 2-4 1-4-1-2-2 0-4 2-2 3-2-1-2-8 0-8-4-2-1-4 1-2 0-3-4 1-1 3-1 1-2-6-2-12-14-8-4-3-6-2-2-5-2-7-6-13-4-10-5-8 2-16 9-8 1-22 8-4 0-4-1-12-7-4 1-10 2-10 0-8-6-10-3-1-1 0-2 2-12 3-6 5-8 7-16 4-3 7-5 11-4 16-3 26 1 16-2 22 2 14-1 12 4 10 5 10-1 8-1 8 0 4-2 18-12 10-4 10-6 8-3 20-9 4-1 14-2 8 0 4-1M1009 322l8 2 3 2 1 2 0 2-4 5-2 1-10-2-4-2-1-2 2-4 3-3 4-1M1157 328l2-1 2 0 10 5 2 2-2 5-2 1-12-6-1-4 1-2M1035 337l4-1 3 2-2 12-1 3-2 1-6 1-4-1-2-4 0-4 6-4 4-5M1101 338l2 0 1 0-1 3-3-1 0-2 1 0M1145 358l3 0 2 2-1 4-2 1-2-1-1-2-1-2 2-2M1077 360l2 0 2 2 0 2-2 4-4 2-4 1-2-1-2-1 0-3 2-2 8-4M1059 374l2 0 1 2 1 6 1 2 8 4 3 4 1 4-2 2-7 4-11 10-5 2-11 0 1-2 6-3 5-5-1-6 1-6-1-8 5-8 1-2 2 0M1409 374l2 2 0 2-1 2-5 2-2-2 0-2 1-2 3-2 2 0M1095 376l2 0 2 2 2 4-2 2-6 1-2-1 0-2 2-5 2-1M1201 384l2 2 0 2-1 6 1 8-1 2-7 4-3 4 0 4 2 4 9 10 1 2-2 4-3 2-10 2-6-3-6-6-8 2-4 0-2-2-1-3 0-4 0-2 7-6 3-8 4-6 2-6 1-1 10-1 2-2 4-5 4-3 2 0M1141 392l4 0 2 2 0 2-2 2-6 4-6 1-2-2-1-3 1-2 2-2 8-2M1433 400l7 2-3 7-2 1-4 0-4-2-1-2 2-4 3-1 2-1M971 402l4-1 2 1-1 2-3 3-6 3-1-2 1-4 4-2M1325 406l3 0 2 2 0 4-1 2-2 2-8 4-2-4 1-4 3-3 4-3M1413 411l2 1 3 4-1 3-2 1-2 1-2-1-1-2-1-2 2-3 2-2M1031 416l4-1 4 1-1 4-3 4-4 0-3-2 0-2 0-2 3-2M1383 417l8 1 8 0 2 0 3 6 0 2 0 2-11 7-6 0-4-1-3-2-1-2 0-2 2-9 2-2M1271 420l2 0 1 2-1 2-2 0-1-2 1-2M989 426l2-2 2 1 4 3 1 2 1 2-2 2-2 1-4-2-2-3 0-4M1079 430l2 2-1 2-1 1-1-1-1-2 2-2M969 432l2 1 1 1 1 4-1 4-1 8-2 2-4 1-5-5 0-4 3-7 6-5M1113 433l2 2 0 3-3 4-3 2-2-2-1-2 0-2 7-5M939 440l2-1 4 0 3 1 2 2 2 8-1 4-2 3-4 1-6-3-8-1-2-2 0-2 2-4 2-3 6-3M1287 240l6 0 22 6 3 2 2 2 6 12 3 10-1 4-3 4-12 10-17 12-8 4-3 3-1 3 1 4 6 10 1 4-2 6-3 7-3 3-3 2-20-1-20-4-4-2-11-11-14-10-5-4-9-12-1-2 0-4 5-8 3-8 4-5 4-1 24-3 11-3 5-4 10-13 2-2 8-4 14-7"/></g><path clip-path="url(#fr1)" d="M1257.5 587 L532.5 248.9M1257.5 587 L602.2 128.1M1257.5 587 L691.8 21.3M1257.5 587 L798.6 -68.3M1257.5 587 L919.4 -138M1257.5 587 L1050.4 -185.7M1257.5 587 L1187.8 -210M1257.5 587 L1327.2 -210M1257.5 587 L1464.6 -185.7M1257.5 587 L1595.6 -138M1257.5 587 L1716.4 -68.3M1257.5 587 L1823.2 21.3M1257.5 587 L1912.8 128.1M1257.5 587 L1982.5 248.9M668 576.7 A589.6 589.6 0 0 1 1847 576.7M746.8 578.1 A510.8 510.8 0 0 1 1768.2 578.1M823.5 579.4 A434.1 434.1 0 0 1 1691.5 579.4M898.4 580.7 A359.1 359.1 0 0 1 1616.6 580.7M971.9 582 A285.6 285.6 0 0 1 1543.1 582M1044.3 583.3 A213.3 213.3 0 0 1 1470.7 583.3M1115.8 584.5 A141.7 141.7 0 0 1 1399.2 584.5" fill="none" stroke="#000" stroke-opacity="0.17" stroke-width="1.1"/><path clip-path="url(#fr1)" d="M942 464.4 L957 452 L950 438.5 L960 415 L992 388.8 L999.5 379.2 L1006.5 377.5 L1008 366.4 L1012.3 376 L1031.6 373.9 L1042.3 364.2 L1048 363.2 L1054 351.4 L1066.9 352.5 L1089.3 347.1 L1099 351 L1107.5 348.2 L1128.5 341.9 L1148 342.5 L1152 348.7 L1154.5 355 L1155 367.4 L1153 373.7 L1150.5 380 L1149.5 386 L1150.5 392.4 L1149 400 L1145 402 L1148 411.4 L1159.8 426.4 L1171.6 439.2 L1175.9 432.8 L1177 424.3 L1183.4 422.1 L1202 417.8 L1210.8 418.8 L1223.6 422.4 L1261.8 423 L1277.5 414 L1279.5 403.5 L1297 410 L1305 400 L1314.7 390.4 L1324.5 389 L1340 397 L1363.8 395 L1389 405.5 L1401 396.9 L1407 407 L1418.7 419.8 L1428.5 439.4 L1434 440.4 L1437.3 454 L1434.4 464.4 L1434.4 470 L942 470 Z" fill="#000"/><path d="M1055 348.5 L1067 349.5 L1089.3 344.2 L1099 348 L1107.5 345.4 L1128.5 339 L1146 339.5M1306 397 L1315 387.6 L1324.5 386.2 L1340 394.2 L1363.8 392.2 L1389 402.6 L1401 394" fill="none" stroke="#000" stroke-width="1.7" stroke-dasharray="1.3 2.6"/><path d="M1150.5 348 L1154.5 353 L1157.5 367 L1155.5 374 L1153 380 L1152.5 386 L1153 392.4 L1151.5 400M1150.5 411.4 L1161.8 425.4 L1171.6 436" fill="none" stroke="#000" stroke-width="1.1" stroke-dasharray="4 1.2"/><path d="M1182 418.5 L1197 416 L1212 414.5 L1224 417 L1247 416.5 L1264 416 L1277 413 L1277.5 414 L1261.8 423 L1223.6 422.4 L1210.8 418.8 L1185 422.4 Z" fill="#fff"/><path d="M975.3 299.5 L983.4 288.4 L994 273 L1004.8 273.8 L1013.3 271.7 L1021.9 260.6 L1031.5 251 L1047.5 247.7 L1064.7 245.2 L1081.8 241.3 L1094.6 238.1 L1107.4 236 L1109.1 228.5 L1116 228 L1131 231 L1146 233.4 L1154.5 231.7 L1163 228.5 L1178 229.6 L1193 226.8 L1202 222.8 L1222.3 218.8 L1239.2 210.3 L1256.2 205.2 L1273.1 201.8 L1300.2 203.5 L1317.1 210.3 L1330.6 217.1 L1340.8 227.2 L1357.7 237.4 L1367.9 239.1 L1378 252.6 L1391.6 259.4 L1405 271.2 L1418.7 283.1 L1423.7 291.6 L1422 303.4 L1428.8 315.3 L1428.8 325.4 L1439 335.6 L1452.5 352.5 L1464.4 372.8" fill="none" stroke="#0b8a0b" stroke-width="5" stroke-linejoin="round" stroke-linecap="round"/><path d="M979.1 296 L1045.3 363.6" fill="none" stroke="#ff0000" stroke-width="11"/><rect x="899" y="76.4" width="717" height="388" fill="none" stroke="#111" stroke-width="1.6"/><text x="926.1" y="122" stroke="#000" stroke-width="0.5" style='font-family:"Liberation Sans",Arial,Helvetica,sans-serif;font-size:36.5px;font-weight:bold'>(B)</text><g style='font-family:"Liberation Sans",Arial,Helvetica,sans-serif;font-size:17px' fill="#000"><text x="902.9" y="66" text-anchor="middle">160°E</text><text x="1020.8" y="66" text-anchor="middle">170°E</text><text x="1122" y="66" text-anchor="middle">180°</text><text x="1213.2" y="66" text-anchor="middle">170°W</text><text x="1302" y="66" text-anchor="middle">160°W</text><text x="1394" y="66" text-anchor="middle">150°W</text><text x="1494.4" y="66" text-anchor="middle">140°W</text><text x="1613.2" y="66" text-anchor="middle">130°W</text><text x="921.2" y="484.5" text-anchor="middle">65°S</text><text x="1001" y="484.5" text-anchor="middle">70°S</text><text x="1083.2" y="484.5" text-anchor="middle">75°S</text><text x="1183.6" y="484.5" text-anchor="middle">80°S</text><text x="1331" y="484.5" text-anchor="middle">80°S</text><text x="1431.6" y="484.5" text-anchor="middle">75°S</text><text x="1514.4" y="484.5" text-anchor="middle">70°S</text><text x="1592.4" y="484.5" text-anchor="middle">65°S</text><text x="890.2" y="229.5" text-anchor="end">150°E</text><text x="890.2" y="336" text-anchor="end">140°E</text><text x="890.2" y="421" text-anchor="end">130°E</text><text x="1624.8" y="124.7" text-anchor="start">50°S</text><text x="1624.8" y="229.5" text-anchor="start">55°S</text><text x="1624.8" y="348" text-anchor="start">60°S</text></g><g clip-path="url(#fr2)"><g mask="url(#mwd2)" fill-rule="evenodd"><rect x="1733" y="72" width="724" height="396" fill="#539abe"/><path d="M1735 72l722 0 0 396-724 0 0-396zM1841 306l0 5 4 0 3-3 1-2-4-2z" fill="#61a1bf"/><path d="M1735 72l722 0 0 396-724 0 0-396zM1840 304l-5 13 0 2 2 2 2-1 3-6 9-6 0-3-4-2-4 0z" fill="#70a8bf"/><path d="M1735 72l722 0 0 396-724 0 0-396zM2061 230l-4 2 2 2 5-2-1-2zM2032 238l1 2 4-2-2-1zM1982 244l-4 2 2 2 5 1 7-1 4-2-3-2zM1963 246l-2 2 0 2 2 2 4-1 3-3-1-2zM1839 302l-2 4-4 12 1 4 3 2 4-1 3-7 8-6 3-4-2-2-6-3-4 0z" fill="#7fb0c0"/><path d="M1735 74l1-2 721 0 0 396-724 0 0-393zM2056 230l-2 4 5 2 6-1 2-3 1-2-5-1zM2031 236l-2 2-1 2 3 2 6-1 3-3-1-2-2-1zM2016 240l2 0-1-1zM1984 242l-9 2-12 0-3 2-2 4 1 2 4 2 12-4 10 1 8-1 5-2 4-4-6-2zM1935 252l2 1 2-1-2-1zM1877 258l-4 4 0 2 2 3 6-2 5-5-1-2zM1858 272l-5 2 1 2 3 1 4 0 4-3 1-2zM1869 298l-1 2 0 2 3 1 2-1 0-3zM1839 300l-3 4-5 14 0 3 2 3 6 2 4-2 3-8 10-6 2-4 0-2-2-2-5-2-6-1z" fill="#8db6c3"/><path d="M1737 74l1-2 719 0 0 396-724 0 0-391zM2058 228l-6 4-1 2 1 2 7 1 6-1 4-3 1-3-1-2-2 0zM2033 234l-8 4-8-2-2 1-6 5 6 2 8-1 10 0 6-1 5-4-1-2-4-1zM1976 242l-11 1-4 1-5 4-1 2 1 2 7 4 12-4 18 0 8-4 7-6-7-1-12 0zM1923 248l-2 2 0 3 14 4 4-1 5-4-1-2-4-2-14-1zM1902 254l-1 2 1 2 3 2 6-1 3-3 0-2-5-1-4 0zM1879 256l-5 2-7 8-16 6-1 4 2 2 5 2 10-2 21-16 3-4-1-2-3-1zM2344 266l-1 2 0 3 2 2 2 0 3-3 0-2-3-2zM1888 286l0 2 1 2 2-2 0-2zM1869 294l-8 6-14-2-6 0-4 2-2 3-6 15 0 4 2 2 6 4 4 0 4-3 3-7 1-2 14-8 12-2 3-4 1-4-2-2-2-1z" fill="#9abcc6"/><path d="M1739 74l1-2 717 0 0 396-724 0 0-390zM2062 226l-7 2-8 6-12-1-10 3-8-2-10 6-20 0-24 2-4 1-8 7-4 0-8-5-14 1-10 5-10 0-10 3-8-1-12 3-8 7-8 5-8 3-2 1-2 4 1 2 3 3 10 2 4-1 11-4 11-12 10-6 8 2 4 1 12-5 6-1 10 2 14-6 10 4 4 1 10-5 20 0 14-7 24-1 6-2 10-5 16 0 4-3 3-5 0-2-3-1zM2344 264l-2 2-1 4 2 4 4 1 3-3 2-4-3-3-2-1zM1885 282l-2 2-2 6-2 1-10 1-10 4-12 0-8 1-4 1-7 20-1 6 8 5 6 1 4-3 5-7 3-3 12-6 8-1 4-2 2-2 4-8 2-2 12-4 7 6 3 0 1-2 0-4-3-5-6-1-4-4-4-1z" fill="#a7c1ca"/><path d="M1741 73l0-1 716 0 0 396-724 0 0-388 5-4zM2030 120l-2 2 0 2 3 2 2-2 0-2-1-2zM2062 132l-1 2 2 3 2-2 1-3-1-1-2 0zM2171 172l-3 4-2 4-1 6 2 2 6-3 7-9-1-2-4-3zM1941 174l-1 2 3 2 3-2 0-2-1-1zM2327 218l-1 2 1 4 4 2 2-1 1-3-3-3-2-1zM2057 226l-12 7-10-1-10 3-8-2-10 5-44 2-14 7-12-3-12 0-10 5-20-1-20 7-16 11-10 4-5 6 0 2 5 5 15 3 2 2-7 5-10-1-14 4-2 2-2 8-6 14-7 4-1 2 4 3 8 0 8 3 4 0 5-4 7-7 12-7 13-4 4-4 4-6 5-2 4-2 10 5 4-1 4-6 0-10 2-6-1-2-5-1-6 4-4 1-6-3-6 0-2-1 0-2 2-4 4-4 4-2 4-1 6 3 4 0 17-6 11 1 16-5 4 1 8 5-1 2-1 1-2 2-2 5 0 2 2 1 2 0 5-5-3-8 10-7 20 1 14-8 8 1 16-3 18-6 10 0 6 1 8-11 0-2-6-3zM2344 262l-3 3-1 5 1 4 4 2 6-2 2-6-2-4-4-2zM1871 286l3 0-4 0z" fill="#b5c8cf"/><path d="M1743 72l422 0 1 4 3 1 4-3 1-2 55 0 2 3 2 0 1-3 223 0 0 231-2 3 0 3 2 2 0 157-724 0 0-35 3-3 1-4-2-4-2-1 0-340 7-5zM2032 116l-4 2-3 4 0 3 2 2 6 1 3-2 1-2-1-6-1-1zM2062 128l-4 8 1 5 2 0 4-2 3-5 1-4-2-3-2 0zM2169 168l-4 5-2 0-6-2-1 1 5 6-1 10 1 4 4 0 8-4 6-6 7-4 0-2-1-2-8-5-4-1zM1940 172l-2 4 1 2 2 2 4 0 4-4 0-2-2-3-4 0zM1880 178l-1 2 0 4 4 4 2-1 2-3 0-4-2-2zM2256 194l1 4 4 5 2 2 3-1 1-2-5-4-3-4zM2324 216l-1 4 2 5 6 3 4 0 1-4-3-6-6-3zM2063 224l-8 2-10 5-10 0-10 3-8-3-12 6-44 2-12 6-12-3-6 2-8 0-6 3-4 1-10-1-8-4-9 7-13 5-14 9-10 4-8 6-1 2 0 2 5 6 0 4-4 4-8 2-4 12-4 9-4 4-8 2-1 5 3 3 4 2 10 0 8 3 4-1 6-3 9-8 9-5 14-5 14-12 4-1 8 4 4 0 7-7 4-6 0-6 3-6-2-4-5-4 1-2 10-5 10-1 16-4 4 2 2 2 0 2-4 8-1 6 1 2 2 1 4-1 16-8 2-4-1-2-5-1-2-3 3-4 3-1 18 1 12-7 4-1 4 2 0 8 2 2 2 0 2-2 0-8 2-1 12-3 14-6 12 0 6 4 2 0 2-2 1-8 7-8-1-2-7-1zM2344 260l-4 4-1 6 2 6 4 2 7-4 2-4 1-4-1-2-3-3-4-1zM2439 274l-2 2 1 2 3 2 2-1 1-3-1-1zM2426 404l1 3 3-1 2-2-3-1zM1895 268l2-1 3 1 1 2-1 2-3 1-3-1-1-2z" fill="#c1cfd4"/><path d="M1745 72l174 0 8 3 2-3 234 0 0 6 2 3 2 1 2-1 4-3 3-6 50 0 1 4 4 2 4-2 2-4 203 0-3 5 0 2 2 0 2-2 0-5 16 0 0 228-3 4-1 4 2 4 2 2 0 90-5 2 5 2 0 60-724 0 0-32 4-2 2-6-2-8-4-2 0-171 2-3-2-2 0-160 8-5zM1746 98l0 2 3 3 16 3 0-2-6-5-10-2zM2099 110l-1 4 3 12 4 2 2-2 2-4 0-6-6-6-2-1zM2034 112l-7 5-3 3-1 4 2 4 10 2 4-2 1-14-3-2zM2064 124l-4 4-5 10 0 4 2 2 2 1 4-2 8-7 1-8-1-4-4-1zM2243 128l0 2 4 2 2-2 0-2-2-1zM2044 154l-2 2-1 2 2 2 2 1 2-2 1-3zM2120 156l1 4 2 0 1-2 0-2-1-1-2 0zM1899 162l-1 4 1 2 4 2 6 0 0-2-1-2-4-4-3-1zM2169 164l-6 4-10 0-1 2 1 4 5 6-1 12 2 3 2 1 12-6 8-6 6-1 2-3 0-4-3-4-11-6zM1941 170l-4 5 0 3 2 3 6 0 6-3 1-4-3-4-4-1zM1881 174l-5 4-1 6 1 2 5 4 4 0 5-6 0-8-1-2-2-1zM1903 188l0 2 3 0 0-2zM1913 188l-3 2 2 10 1 1 4 0 4-3 0-6-2-3zM2256 190l-3 5 0 3 1 2 7 7 4 0 2-1 2-2 0-4-5-4-4-6-1-1zM1842 194l1 3 1-1 0-2-1-1zM1972 206l-2 2 0 4 2 2 3 0 2-4-2-3zM2322 212l-1 4 0 6 2 4 4 3 6 2 4-1 2-2-1-4-5-8-6-4zM2028 216l-3 4 1 2 5 1 4-3 0-3-2-2zM2058 224l-13 6-10-1-10 3-8-3-12 6-44 3-12 5-12-3-6 2-8 1-10 4-10-2-6-4-2-1-12 10-10 4-34 19-2 3 0 2 4 6 0 4-11 4-1 2 0 8-2 6-6 6-10 2-2 4 0 6 3 4 5 2 12 1 8 3 4 0 9-6 10-8 19-8 14-11 4-1 8 4 4-1 12-9 6-6 6-16-2-2-4-2 0-2 4-2 20-5 4 0 2 3-4 6-8 0-1 2 5 11 2 2 4 2 4-1 10-6 10-4 3-8-1-8 14 2 8-2 1 0 2 8-4 4 0 2 3 5 2 0 2-7 10-3 8-7 4 0 8 4 1-2-3-4-1-6 1-4 2-2 10-5 6-1 6 2 6 5 4 0 2-3 1-10 7-6 2-4-2-2-12-1zM2416 228l-1 2 0 3 2 2 4-1 1-2-1-2-2-2zM2112 242l-1 2 1 2 3 4 4 1 3-1-1-4-3-4-3-1zM2355 246l-4 4-1 4-7 5-4 5-1 4 1 6 2 4 2 1 4 0 4-2 5-7 1-6-1-6 5-7 1-5-1-1-2-1zM2199 248l-2 2 2 2 2-1 0-1zM2406 254l0 2 1 2 2 1 1-3-1-1zM2398 270l-2 2-2 4 1 2 2 2 4-1 2-3 0-4-2-2zM2437 272l-3 4 2 4 5 3 4-1 2-4-2-5-4-2zM1745 296l0 3 2 3 2 0 1-2 1-2-2-2-2-2zM2342 338l-1 4 1 2 3 2 3-2 1-4-2-3-2 0zM2448 388l-1 3 2 0 2-1 0-2zM1739 396l-1 2 1 3 4 1 3-2 1-2-2-2-2-1zM2426 400l-3 2-1 2 1 4 2 2 19-4 0-2-3-2-8-2zM2437 448l-1 2 3 2 2 0 2-2 0-2-2-2-2 0zM2416 454l-2 2 0 4 3 3 4 0 3-3 0-4-3-2z" fill="#ccd5d9"/><path d="M1747 72l168 0 4 4 8 3 4-2 2-5 52 0 1 4 3 2 4-2 2-4 166 0 0 8 2 3 4 2 4-1 2-1 4-7 1-4 46 0 0 6 1 3 2 0 4 0 4-2 3-7 198 0-3 8 0 3 2 1 7-4 2-4 1-4 12 0 0 225-4 5-2 6 2 5 4 3 0 84-6 1-4-3 1-2 7-6 0-2-1-2-3-1-4 1-3 2 0 4 1 4-2 1-26 1 0 2 2 3 2 8 2 1 12-2 14 4 8-3 0 57-724 0 0-30 4-2 4-6-3-14-1-1-4 0 0-12 6 2 4 0 6-3 2-4-1-2-7-3-4 1-6 5 0-26 4-2 0-3-4-1 0-97 2-2 1-2-1-2-2-1 0-14 2-1 2-4-1-4-3-2 0-155 8-5 3-2 2-4zM2425 92l-2 6 2 4 4 1 2-3 0-7-2-3-2 1zM1749 94l-4 2-2 2 0 2 2 3 18 8 4 0 2-3 1-2-1-4-4-4-6-3zM2096 106l-1 6 2 14 1 2 3 2 5 0 3-2 2-4 1-4 0-4-11-11-2 0zM1941 108l-1 2 1 2 2 3 2 1 3-4-1-2zM2034 108l-11 10-1 8 0 2 3 2 12 4 6 8 6-2 6 8 4 0 4-1 12-8 6-1 3-2 0-2-7-2-1-2-3-8-4-10-2-2-5 2-1 2 1 6 0 2-7 12-4 4-2-1-5-11-1-14-4-4zM2237 124l-2 1-2 3 1 4 9 2 6 4 2 0 2-2 1-6-5-6-6-1zM2040 152l-2 4 1 4 4 3 4 0 3-5 0-6-5-1zM2119 152l-2 4 1 4 3 3 4-1 2-4 0-4-4-3zM2020 154l-5 2-2 2 2 4 4 0 5-4 2-2-1-1-2-1zM1898 160l-2 4-1 6 10 4 4 4 2 0 3-8-1-5-12-6zM2167 162l-6 4-8 0-4 2 0 4 6 10 1 12 3 4 6-1 18-10 6 0 2-2 1-3-1-6-4-5-14-9-4 0zM1942 168l-3 2-3 4 1 6 2 2 4 1 10-3 2-4-3-6-5-3zM1881 170l-6 4-4 7-4 3 0 2 4 3 14 4 9-9 1-14-8-1zM1831 178l2 1 1-1-1-1zM1909 182l-10 3-2 1 1 4 3 4 6 2 1 6 1 2 4 0 6-1 4-3 2-4-2-8-4-2-8-4zM2257 186l-5 6-1 4 0 4 2 3 6 6 4 1 4-2 4-4 1-4-7-6-4-8zM1841 188l-2 2-2 4 3 10-1 4 2 3 2-1 1-4 5-6 1-4-2-6-3-1zM2042 202l-3 2-1 2 1 3 2 1 4 0 4-1 3-5-1-2-2-1zM2172 202l-1 2 2 4 2 0 2-1 1-3-1-1-2-1zM1969 204l-1 4 1 6 2 3 4 0 4-5 0-4-6-5-2 0zM2320 210l-2 4 3 12 11 8 0 6 1 3 4 3 4 1 0-5-2-6 3-8-1-4-6-8-6-5-6-2zM2032 212l-7 4-3 6 1 3 9 1-2 2-5 2-4-3-4 0-10 6-3 1-11 2-34 1-10 4-10-3-8 3-8 1-10 3-10-2-6-6-2 0-9 9-5 4-8 3-36 19-2 4 1 10-7 4-2 2 1 8-2 6-7 5-10 1-2 2-1 6 2 8 5 4 18 4 7 4 3 3 2 0 4-6 8-3 4-7 2-2 8-3 26-17 2 0 8 4 18-10 4-1 6 3 6 1 2-2 1-6 5-3 10 0 16-8 10-1 0-8 4-9 2 0 4 1 3 2 2 12-2 6 2 2 3 1 4 0 5-3 4-4 3-6 10-7 4 0 6 4 6 1 9-2 2-2 1-2-1-2-11-5-2-2-1-5 2-4 7-5 6-1 3 0 3 2 2 8 8-3 4-5 0-8 8-8 3-6-1-2-2-1-16 1-10 1-10 4-4 1-5-2-1-2 2-6-2-5zM1890 218l-3 2 0 4 2 2 2 1 2-2 1-5-1-2zM2413 226l-1 6 3 4 4 1 4-2 1-5-3-3-6-2zM2110 240l-2 4 2 4 3 5 6 2 6 0 2-1 0-4-5-8-7-3zM2357 242l-8 5-7 1 0 8-4 6-1 8 2 8 4 3 4 0 4-2 4-5 3-6 7-24-2-3zM2186 244l0 2 1 2 8 6 6 2 4-2 1-2-1-4-4-4zM2404 252l-1 4 2 6 2 1 4-1 2-4-1-4-5-3zM2397 268l-4 4-2 4 1 4 3 3 4 0 4-3 3-6-1-4-2-3-2 0zM2439 268l-6 4-1 6 3 6 4 2 4 0 4-3 2-7-2-4-2-2zM2258 280l-1 2 1 2 5 5 2-3-1-6-3-1zM1742 282l-2 2-1 4 2 6 1 6 3 3 4 2 4-4 0-5-5-6-3-7zM2385 292l-2 2 0 4 4 3 4-1 2-4-1-4-3-1zM2412 320l1 2 4 3 4-1 2-2-1-2-3-1zM2398 328l1 3 1-3-1 0zM2342 334l-5 4 0 4 1 2 5 4 6 0 2-2 1-4-2-8-3-1zM2433 350l-1 4 3 4 4 2 1 6 1 2 4 3 4-1 1-4-3-10-8-6-4 0zM1886 376l-1 4 2 3 4 0 2-3 0-4-2-1-2 0zM1765 388l-4 2-4 4-1 2 2 2 3 1 2-1 6-6 1-2-1-1zM1804 426l-2 2-1 2 1 2 3 2 4-1 2-3 0-2-2-2zM2438 444l-5 4 0 2 0 2 6 2 4 0 2-2 0-4-2-3zM2413 452l-4 4 1 6 7 5 2 0 4-1 3-6 0-6-5-2zM1939 278l2 1 1 3-5 3-2-3 1-2z" fill="#d7dcdf"/><path d="M1747 72l38 0 2 1 2-1 124 0 2 4 2 2 10 4 4-1 2-3 2-6 46 0 1 6 5 3 8-2 2-3 1-4 20 0 5 2 3-2 133 0 0 6 1 4 3 4 8 2 1 2 0 10 1 2 4 3 2-1 1-4 0-8-4-6 4-14 41 0 0 12 0 2 4 1 4-1 4-2 4-6 3-6 123 0 2 2 3-2 66 0-5 11-6 5-2 6 0 4 2 4 6 5 4-1 1-2 0-16 10-8 3-8 10 0 0 180-4 0-2 2-3 4 0 2 3 1 6-2 0 36-4 3-3 6-1 4 3 6 5 3 0 56-3-3-2-6 0-4 1-8-2-1-6 0-8-3-4-1-3 1-1 4 9 16 9 7 10 2 0 7-6-2-4 1-4 3-4 7-2 1-12 3-10-2-3 1-1 2 0 2 6 5 1 7 3 3 2 0 10-3 4 0 12 6 8-3 0 50-2 1 0 2-29 0 5-12 12 0 3-2 1-2 0-4-2-3-6-3-4 2-8 6-12-1-8-3-3 0 1 12 3 10-464 0-3-2-2 0-3 2-151 0 0-1-2 1-50 0 0-28 6-2 3-6-1-22 1-2 7-2 6 4 2 0 16-18 8-3 1-3-1-1-2-1-12 2-6 2-8 5-12-1-8 4 0-21 6-3 2-4-2-3-6-1 0-59 6-2 8 3 3 0 3-2 3-6-1-3-5-7-3-7-4-3-4 1-4 9-2 2 0-17 4-2 1-5-1-3-4-2 0-9 5-4 1-4-2-6-4-2 0-126 2-4 0-2-2-1 0-19 11-6 2-2zM2278 82l-1 2 4 5 4-1 1-2-1-2-4-2zM1749 92l-7 4-2 4 1 2 22 11 4 1 4-4 2-6-4-6-10-5zM2227 100l0 4 2 2 7 4-1 8-5 10 1 8 2 2 8-1 2 1 1 2 0 2-4 4 3 9-1 1-5 4 0 2 2 3 6 0 2-1 2-6 5-6-1-10 4-8 2-6-15-10-1-8-6-2-4-8-2-1zM2095 102l-2 4-2 10 3 12 2 2 5 2 6 0 4-3 2-5 1-4 0-4-12-14-3-1zM2069 104l-10 6-1 2 1 10-6 11-2-1-4-6-1-6 0-12-1-2-12-1-2 2-10 11-1 6 1 5 2 2 11 3 4 6 1 6-5 8 0 2 4 6 3 3 4 0 4-2 6-11 14-4 6-5 8-3 5-4 0-4-9-3-1-3-5-14 1-8-1-2zM1937 106l-2 2 0 2 8 10 2 1 7-9 1-2-2-2-6-2-4-1zM2327 106l-2 4 0 2 2 1 3-3 1-4-2-1zM2002 148l-3 4 2 2 6 1 2 1 2 6 6 4 4-1 9-9 0-2-3-2-14 1-2 0-4-5-2 0zM2119 148l-3 4-1 8 3 4 5 1 4-3 2-4 1-4-5-7-2 0zM2178 150l-1 2-2 6-6 1-8 5-12 1-3 5 6 14 3 14 4 2 8-1 2 1 0 4 2 4 4 2 4-2 1-4-1-3-6-3-1-2 9-5 10 0 2-3 2-4-1-6-3-6-10-8-3-4 7-4 1-4-3-3zM1897 158l-4 6-4 2-8-1-6-5-4 0-2 2-1 4 4 4 0 4-3 4-6 4 0 4 6 6 14 3 4-1 6-5 2 1 4 6-2 8 1 2 3 2 16-2 4-1 5-5 2-6-4-8-9-6 0-4 1-12-3-3-12-4-2 0zM1835 164l-4 8-6 4 0 2 1 2 3 2 8 1 2-7 4-6 0-2-2-4-4-1zM1942 166l-3 2-4 4-1 4 2 4 5 5 12-1 6 2 0 8 7 8 0 8 1 4 4 5 4 1 7-8 1-4-1-2-15-14-8-6 1-10-4-6-7-4-4 0zM1978 176l-1 2 2 3 6 2 3-1 1-2-1-2-3-1-4-1zM2006 178l0 2 1 2 4 0 1-2-1-1zM2202 182l-1 2 1 4 3 2 3-2 2-2 0-2-2-2-3 0zM2256 182l-5 8-2 8 4 18 2 4 2 1 2 0 2-3 1-6 10-6 2-6-1-2-6-6-3-10-5-1zM1837 186l-2 8 2 10-1 6 1 2 4 2 4-2 3-6 4-4 1-4-1-6-1-4-2-1-10-2zM1991 192l0 4 2 3 6 3 1-4-1-4-4-2-2-1zM2048 198l-13 4-2 6-10 8-6 8-12 9-12 2-14-3-8 3-12-1-10 5-10-3-8 4-8 0-8 4-6-1-7-3-6-12 1-10-1-2-3-1-5 1-4 4-1 6 1 2 5 2 2 2 0 4-3 6-9 8-42 18-4 6-1 10-7 7 1 9-1 4-6 4-10 1-4 2-2 9 4 10 4 3 20 6 5 3 3 7 4 0 7-9 9-5 4-5 8-3 3-5 4-4 11-6 6-2 3 2 0 10 7 5 4 8 2-1 4-9 8-5 2-2-1-4-3-1-10 2-2-2 3-5 7-4 6-1 8 2 4 1 6 6 4 0 4-3 14-17 8-5 6 1 6 4 8 0 10 1 8-2 4-3 10-12 4 0 5 6 3 2 8-4 16-5 2-3 0-6 1-4 7-8 5-4 2-4 0-8 10-12 3-4 0-2-4-2-6 1-22 3-12 4-4-1-1-5 1-5 8-5 4-6-2-4-2-1zM1999 204l-7 4 0 2 2 2 3 1 4-2 0-5zM1798 208l-2 2 0 4 3 5 4 2 2-1 2-4-1-8-3-1zM2319 208l-3 4 3 14 9 8 2 8 7 8 2 4-3 10 1 13 4 5 4 1 4-1 6-5 5-9 7-22 0-5-2-2-4-1-12 6-4-1-3-7 3-8-2-4-14-15-6-2zM2380 212l-3 2 0 1 2 1 3-2-1-2zM2413 214l-4 2-3 4 4 12 5 6 6 0 4-4 0-4-6-8-2-8zM1941 216l1 4 1 3 2 0 2-2 0-3-2-3-2 0zM2241 224l-5 4-1 2 1 2 3 0 5-4 1-3zM1852 238l-2 2 2 2 2 0 1-2zM2111 238l-4 2-2 4 1 4 5 9 4 2 14 0 2-1 1-2-1-4-6-11-8-3zM2183 240l-2 6 1 4 1 2 14 6 8 0 4-2 0-4-1-4-3-4-4-4-14-1zM2225 248l-1 2 2 4 1 2 4 2 4-2 3-6-1-2-2-1zM2403 250l-1 4-1 8-8 7-5 7 2 10-7 4-3 4 0 4 1 2 6 3 4 1 2-2 4-14 6-5 3-5 2-10 8-8-1-4-4-5-4-2-2 0zM2427 250l-2 1-5 7 1 4 2 4 6 3 1 11 3 8 6 6 4 0 2-2 5-12 1-4-1-4-5-7-10-6-6-8zM2257 276l-4 4 1 4 6 10 3 2 2-1 2-3 2-4-2-9-4-4zM2356 294l-2 6 3 6 8 6 6 0 3-4 0-4-7-4-6-7zM2133 302l-5 4 0 4 1 3 4 0 5-7 0-4zM2438 308l-2 2 3 0 1-2zM2424 310l-2 4-5 2-14-1-4 1-1 6-3 4 0 6 2 2 4 0 4-8 2-2 10 3 6-1 3-4 0-6 1-4-1-2zM2376 322l1 2 2-2-2-1zM1748 326l-1 3 2 3 2-1 0-3-1-2zM2192 330l0 4 3 2 6-1 2-3-2-2-4-1-4 0zM2345 330l-10 6-4 6-6 4 0 2 4 1 8-1 8 3 8-1 2-2-2-14-4-3zM1887 344l-3 2-6 12 1 4 2 0 2-1 8-9 0-4-2-3zM2130 344l-3 2-2 2 0 2 4 3 6 0 1-3 0-4-1-2zM2138 358l1 3 2-3-2-1zM2403 368l0 4 2-2zM1881 370l-2 4 2 10 2 4 12 2 4 2 4-1-2-11-6-8-4-2-8-1zM2173 390l0 3 1-1zM2170 402l-1 1-2 3 2 3 2 0 1-3 1-2zM1801 424l-4 3-2 3 2 10 5 4 3 2 2 0 4-6 4-10 1-4-2-2-5-1-4 0zM1899 434l-7 8 5 1 4-3 2-4-2-2zM2123 446l-1 4 1 4 4 0 5-4 0-2-1-2-4-1zM2051 246l6 0 1 2-2 10-3 2-6-1-3-3 2-6zM1989 271l2 1 1 2-1 3-2 1-2-4zM1733 292l3 2 0 2-3 1z" fill="#e1e3e5"/><path d="M1749 72l22 0-4 5-10 4-3 7-9 4-8 7-4 1 0-15 14-7zM1793 72l118 0 1 4 2 2 13 5 4 0 2-2 4-9 19 0 3 3 2 0 1-3 15 0 2 6 2 3 4 3 9 0 2 2 1 4 2-1-1-5 2-12 14 0 1 3 10 4 2 5 0 6 2 0 2-2 2-6-3-10 50 0 1 1 2-1 74 0 1 10 3 5 8 4 1 3-2 6 3 4 6 4 4-1 2-3 0-12-3-8 3-12 36 0-3 14-10 8-2 4 3 3 4 0 10-8 7-1-4 10 2 4 6 6 0 4-4 10 0 12 4 6 4 8-2 8 1 4 4 4 4 1 4-1 2-2 7-14 0-8 0-4 5-7 7-5 1-2-2-2-10 0-7-4-4-4-1-8-6-3-3-5-3-8 8-20 120 0 2 4 2 1 4-2 1-3 62 0-5 9-10 5-1 2 3 12 6 8 4 3 6 0 6 4 2-1 0-4-1-6-5-6 0-8 8-8 3-10 9 0 0 177-4 0-2 1-6 7-4 1-3-2-4-4 0-4 15-6-1-2-9-2-4 0-4 5-6 2-6 9-2 0-8-7-4-2-4 5-3 12-12 14-1 8-6 5-3 3 0 6-1 2-4-1-2-2-2-7-6-1-6 1-2 5-1 5 1 12 2 4 4 1 6-1 6 0 2 9 4 4 2-1 3-4 0-4-1-2-7-2-1-2 5-10 1-1 2 0 10 5 2 0 6-16 9-12 2-10 3-2 4-1 9 7 3 12 9 12-1 4-3 4-3 2-8-2-3 2-1 4-4 2-22-3-1 3 1 6-1 10 3 6 4 2 3-2 5-7 2-1 8 2 6-1 4-4 4-8 12-4 4 0 4 4 6 2 0 30-12 0-14-4-3 1-2 6 0 2 5 6 2 7 12 9 2 4-10 10-6 4-6 1-12-1-5 2-1 2 0 2 7 6 2 8 5 6 0 6 2 4 4 0 5-2 1-2-1-2-5-4-1-2 5-4 6 1 10 7 10-3 0 41-3 0-2 2 0 6-21 0 0-6 2-3 4-1 8 0 3-2 1-6-2-6-4-3-4-1-4 1-8 6-8 0-6-3-3-6-3-2-4 1-4 3-2 4 1 8 4 10 1 6-66 0-2-1-2 1-199 0-1-10 3-8 1-4-3-4-5-1-8 2-4 3-2 8 1 8-1 6-55 0-5-4-2-4-2-2-1 6-2 4-91 0-3-6-1-9-4-3-5 2-3 6-6 3-3 7-123 0 0-4 6-8-2-10 8-22-1-2-1 0-14-3-8 5-4 3-1 9-4 10 1 1 8 0 4 3 0 4-3 6 2 8-11 0 0-8-4-4-1-6-3-1-3 1-1 2 4 6-3 10-8 0-3-2-4 0-3 2-26 0-1-25 6-3 4-6 1-4-2-10 2-6 3-3 8 2 4 0 4-5 4-2 2 1 2 5 2 1 1-3 0-4-2-4 0-4 3-4 8-4 2-4-3-4-5 0-12 3-14 6-10 0-8 3 0-17 6-3 5-6-1-2-2-2-8-2 0-55 8-1 8 3 2-1 4-4 4-8 0-2-7-6-4-10-8-6 1-6-2-4-6-4 0-4 6-4 2-6-3-8-5-2 0-101 2-3 2-6-2-3-2-2 0-3 8-9 12 3 10 6 4 1 2-1 5-8 1-4-4-7-9-7-2-2 1-2 14-8 4-2 8 1zM2277 78l-2 2 0 4 4 8 2 2 4-1 12-5 3-4-1-2-8 1zM1996 92l-2 4 1 2 4 1 3-3 1-2-2-2-4-1zM1827 98l-8 6 0 4 5 4 7 3 2-1 0-4-2-10-2-2zM2045 98l-6 3-10 3-10 14-1 8 2 4 3 3 8 2 4 3 1 6-2 4-3 2-16 1-8-5-4 0-4 2-6 6-1 2 1 3 12-1 5 6 7 6 0 4-2 2-8-1-3 1-2 4 3 4 12 1 10-7 2-4-5-6 0-2 5-4 4 0 8 5 7-1 5-4 4-8 4-1 8 3 2-1 3-3 3-7 10-5 6-7 10 1 6-1 4-4 3-7 1-6-8-8-6-8-4-1-6 0-2 1-3 4-2 8-3 4 0 2 6 4 1 2-1 4-2 0-4-1-3-3 1-5 1-1-1 0-3-6 2-8 0-2-2-2-5-2-2 1-6 5-6 2-2 0-2-5-2-2zM2129 98l-6 18 2 4 4 5 4 1 2-1 1-3-3-12 3-8-2-4zM2331 100l-4 2-5 10 0 4 3 3 4-3 5-10 0-4zM1935 104l-4 6 1 2 6 4 5 8 4 1 4-8 5-3 1-2-1-2-4-4-11-3zM2267 104l3 0-3-1zM1881 112l0 4 2 3 4 1 3-2 1-4-2-3-4 0zM2280 120l-1 2 2 3 4-1 2-2-2-3-2-1zM2327 124l0 2 2 2 8 0 1-2-1-2-4-1-4 0zM2121 134l-2 4-1 6-3 6-1 10 1 5 4 2 6-1 4-2 2-4 2-8-3-6-3-10-2-3zM2353 136l-5 2-2 8-9 6-1 2 1 2 6 4 4-1 2-3 1-8 8-10-3-2zM2181 146l-10 6-10 10-10 1-4 2-3 5 1 10-4 4-1 2 1 2 2 1 6 0 6 12 10 2 6 7 4 2 4-2 3-4 0-6-3-4 1-2 4 0 13 7 1-1 1-4 18-7 2-4-2-3-10-3-8 1-2-1-3-9 3-6 0-4-6-4-4-8zM1897 154l-6 8-2 1-6-1-8-6-4 0-2 2-6 8 4 8-8 10 0 2 8 8 2 1 6-1 10 2 8-4 2 2 1 4-3 6 1 6-11 8-3 8 1 5 7 3 1 2-2 4-8 9-14 6-8 0-4 4-8 2-5-1-3-8-7-6 2 10 5 4 0 2-4 7-3 13-7 8 0 12-6 4-10 1-3 1-1 2-2 10 4 13 26 8 3 3 2 6 5 2 4-1 7-9 13-10 4-1 6 1 1-2 1-8 4-3 8-3 3 0-3 8 0 9-2 2-8-1 0 14-1 4-4 6 0 2 2 6 1 22 2 3 7 3 3 8 4 2 4-1 10-5 2-4 0-4-1-6-3-6-10-11-6-3-1-2 7-10 4-8 4-2 8-1 2-1 6-12 10-6 2-4-1-8 1-1 4 1 6 11 4 0 8-8 6-7 8-6 6-6 2 0 2 4 2 2 14-5 14 3 4 8 2 3 4 0 14-16 10-4 6-4 4-1 12 4 4-1 4-5-1-12 6-6-2-6 1-2 5-6 0-12 14-14 1-4-2-3-2-1-9-2-2-2 1-3 5-5-3-2-14-4-8 4-4-1-5-7 2-8-1-4-2 0-3 2 0 4 2 4-1 2-6 4-10 2-3 8-23 21-4 2-8 2-7-1-3-2 0-6-5-2 0-2 1-2 4-4 10 2 6 0 2-2 1-4-1-14-4-5-6-5-1-8-5-3-6-2-4 1-3 2 0 2 1 4 10 5 2 3 1 10-3 2-2 0-3-2-4-6-11-8-2-4 0-12-2-3-18-3-4 2-4 5-2 5 1 4 3 5 4 2 8-1 5 2 3 10 6 6 2 10 6 12 1 4-1 2-2 1-12-1-8 5-3-1-5-2-4 1-6 4-8 0-8 3-8-1-4-4-5-13 3-7 9-7 11-2 10-8 2 2 6 18 4 7 4 0 2-3 1-6-2-6-7-5-3-5-1-10-6 0-6-8-6-3-2-2-1-5 2-10-1-3-4-3-6-1-6-3-2-1zM1835 160l-6 6-8 0-10 4-2 4 0 8-2 6 0 4 0 3 2 0 6-3 2-4-2-6 2-1 2-1 6 4 8 2 1 2-2 8 2 8-1 8 2 2 6 2 4-2 10-12 1-4 0-10-3-2-11-4-1-4 5-6 0-4-7-8-2-1zM2281 176l-3 4 1 2 1 2 7 3 4-1 0-4-2-4-4-2zM2255 178l-3 4-4 12 0 24-2 2-7 2-14 6-1 2 1 2 10 4 4 0 6-5 6-7 8 0 2-2 4-9 6-5 4-4 0-6-5-8 0-8-5-4-6-1zM2115 180l0 4 2 3 2 1 3-2 1-4-2-3-2-1zM2387 190l-2 4 0 10-4 4-7 4-2 4 1 2 6 1 12-7 1-2-2-8 2-8-2-4zM2442 196l-1 2 0 4 4 1 1-3-1-2zM1803 202l-8 4-3 4 1 4 2 4 6 6 6-3 3-5 0-8-1-3-2-3zM2319 206l-5 4 0 4 3 12 8 8 2 8 8 10-1 10 3 16 4 6 6 1 4 0 10-17 8-22 0-8-2-2-8-2-6 6-4 2-2-1-2-3 0-4 4-4 6-2-1-2-5-1-6-4-14-15-6-1zM2412 208l-2 4-7 6 0 4 3 6-1 6 2 3 14 4 6-5 1-4-6-10 0-8-1-3-6-4-2 0zM2140 216l-2 2 0 4 1 3 2 1 4-3 1-3-3-3zM2189 224l-3 8-5 6-3 10-5 8 0 3 2 1 4 0 6-2 6 2 20 1 6-2 8 4 8-2 9-11-1-4-2-2-14-1-4 2-4 6-2 1-2-1-11-15-4-10-5-3zM1849 236l-3 2 0 2 1 3 8 4 2-1 1-4-1-5-4-1zM2113 236l-8 4-4 10-4 4 0 2 2 3 18 12 2-1 3-6 11-1 2-1 1-4-7-18-10-3zM2305 270l-2 2 0 2 2 2 4-1 3-3 0-2-1-1zM2257 272l-3 2-3 4 0 6 6 14 4 2 4 0 2-2 4-8 0-8-3-6-3-2-4-2zM2139 284l-4 4-4 8-5 6-2 4 0 8 3 4 4 1 9-9 6-14 0-4-2-6-3-2zM1771 294l0 4 4 4 4 0 3-4-1-2-4-3-4 0zM2283 302l-5 2-2 2-1 2 2 2 4 1 6-5 2 0 2 2 4 7 4 1 6-2 1-6-2-4-2-2-9-1zM1970 306l1 11 4 2 8-3-1-4-5-6-4-1zM2200 314l-7 6-4 2-2 2-2 14 1 4 3 2 21-6 19-12 0-2-2-1-4-1-6 0-6 4-4-1-3-3-3-8zM1745 322l-2 4 0 4 4 5 4 1 2 0 2-5-1-7-1-2-4-1-2 0zM2344 328l-11 6-6 7-6 0-4 0-1 1 3 10 6 0 12-1 8 2 8 1 6 2 2-1-7-23-5-4zM2246 330l1 2 2 0 0-2zM2311 330l0 4 2 3 0-5zM2134 340l-14 6-1 2 2 5 9 5 2 10 3 2 4 0 4-2 9-12 1-4 0-6-13-6zM1935 344l-9 10-1 2 2 3 4 0 15-11-7-5-2 0zM2308 352l-5 2-3 2-1 4 2 6 2 4 2 2 8-1 2-1 1-2 0-8 1-7-4-2zM2392 356l-1 2-1 4 2 2 5 3 3 7 3 2 4-1 1-3 0-4-5-9-6-3zM2015 358l0 3 2 1 2-1 1-3-1-1-2 0zM2235 358l-3 2-2 14 1 4 2 3 2 0 2-3 2-14-1-4zM2371 362l-3 2 0 2 2 6 5 4 6 0 1-6-2-4-4-4zM2017 370l0 2 2 3 4 1 5-2 0-2-3-2-4-1zM1809 374l-3 2 0 2 5 1 2-1 0-2-2-2zM2178 376l-5 2-2 2-4 6-2 10-10 9-1 3 0 4 1 3 8 4 8 7 2-2 1-10 6-12 0-16 1-2 6-4-4-3zM2385 380l-9 12 2 2 7 2 2 0 2-4zM1848 386l-5 4-1 2 1 3 2 1 2-1 2-3 2-4-1-2zM2310 392l0 2 0 2 3 1 2-3-1-2zM2306 408l-3 2-1 4 1 4 4 2 2-2 2-4-1-4zM2085 418l-2 2 0 6 4 7 2 2 2 0 7-9 1-4-1-2-5-2zM1898 424l-4 8-3 3-4 0-6-3-2 0-2 2 0 4 1 2 11 9 4 0 8-4 4-4 2-5 0-4-4-6-2-2zM2216 426l-1 2 2 2 2-4-2-1zM2167 434l-4 2-6 0-3 2 2 4 7 6 6-3 6-7 0-2-2-3-2 0zM2273 434l-4 4-3 4 0 4 1 2 4 0 10-6 0-2-4-5-2-1zM2285 442l2 2 2 1 5-1-1-2-2 0zM2051 114l2 0 2 4 0 4-2 5-2-1-2-6zM2059 206l2 0 7 2 2 4-1 4-6 4-14 3-4-1-1-2 1-4zM2457 262l0 30-6 1-1-7 6-12-4-8 1-2zM2457 356l0 11-2-1-1-4 1-4z" fill="#ece9ea"/><path d="M1751 72l15 0-3 4-10 3-2-1 0-2-1-4zM1795 72l18 0 2 2 1-2 52 0 1 2 2 0 1-2 37 0 1 6 3 2 12 5 4 0 4-1 2-3 4-9 13 0 3 5 8 3 2-2 0-6 10 0 1 6 3 5 10 5 2 2 0 8 2 3 6 0 10-4 2 0 2 5 2 2 4-1 3 1 1 4-6 6 0 2 1 14 3 4 10 3 3 3 0 4-1 2-4 2-14 1-8-5-4 0-12 6-4 6-8 1-2 1 1 2 4 6-1 2-9 6-1 2 1 8-1 3-4-3-1-2 2-8-1-6 0-6-2-2-10 4-14-4-6 7-2 5-1 6 2 8-1 2-14-10-1-4 2-10 0-4-5-4-8-2-3-2-2-4-1-9-2 1-3 4-3 12-3 4-3 1-3-3-1-10-14 6-9 10 0 4 3 6-1 2-7 7-9-3-1-2 4-6 0-4-10-11-4 0-6 5-18 4-2 2-3 8-2 16-2 6-3 3-10 5 2 10 10 16 2-1 4-5 4-2 3 10 5 3 2 0 7-7 0-8 3-4 2-1 10 0 4-2 4-6 7-7 2-4 1-4 1 2 5 3 8-2 10 1 6-1-2 13-7 6-4 12 0 4 7 4 0 2-3 6-4 4-11 5-4 0-3-3 1-8-2-6-4-2-6 0-4 1-2 3 1 6 5 5 2 3-2 4-4 0-14-16-4 0-2 0-1 4 3 6 1 8 3 6-3 16-7 10 0 10-2 2-4 2-10 1-4 3-3 12 4 12-4 10 1 4 4 1 3-3 1-6 4-1 4 0 16 7 2 9 2 1 6 1 4-1 8-10 12-8 4-1 3 1 4 12-5 10 2 10 1 12-1 8 1 14 3 5 18 2 2 1 3 4-1 2-10 8-4 1-6-3-4 1-4 5-2 8-2 1-12-6-2 1-2 2 0 4 4 6 6 4 6 1 8-3 4 0 12 11 2 0 4-5 8-6 6-10 0-6-7-14 3-1 5-1 2 2 1 9 2 1 2-1 2-3 1-6 0-10 5-10 1-10 3-1 8 3 10 2 4-2 1-2-1-4-2-2-12-4-8 0-2-2 2-8 12-10 6-1 4 1 2 2 0 4 2 1 4-1 2-4 0-8-15-10-1-9 2-3 4-1 4 3 4 0 4-1 8-5 10 2 10-7 10-2 24 3 2-1 1-3-2-10 2-4 3-2 6-2 10-8 8 1 10 5 10-9 6 9 4 2 2-1 6-13-1-6-1-1-2 0-12 7-2-2-1-6 1-4 4-6 2-3 4-2 2 0 6 8 10 1 4 1 3 3 3 6 2 2 2 0 6-4 2 0 2 2 0 2-3 6-2 8-4 6-1 10 2 6 8 7 2 0 2-2 20-27-1-6-10-16 1-8-8-18 0-2 3-6 3-8 8-10 1-2-7-9-2-2-4 5-2 4 0 10-4 6-4 2-12-1-8 2-5 3-5 9-8 5-6-7-2-7 4-6 10-7 2-3 0-6-6-8 2-6-1-2-19-6-4-4-2-1-4 5-4 2-3-4 1-10 0-6-2-3-18 3-2 0-1-8 1-1 10 1 10-3 2 5 2 0 18-18 3-8 7-4 8-7 10 1 8-3 6-9 2-1 2 2 0 3-6 6-1 2-4 28 3 5 4 2 10-5 3-2 3-6 8-5 5-11-2-4-3-1-4 1-4 5-2-1-2-6 0-4 6-4 2-6-1-12 1-8-2-8-8 0-5 2-2 2 1 8-2 5-2 1-4-1-5-5-1-4 1-6-17 0-6-4-2 0-6 4-2 0-6-4-6-11-7 3 10 6 1 2-1 4-3 5-4 1-6-6-12-2-10 4-2-2 5-8 2-6-6-10 45 0 2 4 2 1 4-3 1-2 69 0 1 8 3 6 7 6 1 2-2 6 1 2 7 7 6 2 10-1-3-16-3-10 3-12 30 0-3 12-15 14 1 2 10 4 10-5 2 1 3 6 5 6 1 4-3 8-3 20 2 4 6 6 0 10 7 7 4 2 8-4 4-9 4-6 1-2-2-10 4-6 3-2 6-2 4-3 6 0 6-3 3-4 0-6 1-6-1-2-3 0-6 4-2 0-4-10-4-2-6 0-2 0-1 2 2 4 11 6 4 0 0 2-6 8-8-2-8 2-6-3-2-3-2-8-7-6-3-6 1-12 5-12 116 0 4 6 4 1 4-3 1-4 21 0-2 6 1 2 3 1 5-3 0-6 30 0-1 4-4 4-12 3-1 5 7 16 7 10 7 1 10 3 5-2 1-2-3-10-6-8 0-4 7-6 3-14 7 0 0 90-8-4-3 0-1 4 2 3 10 1 0 10-6 1-2 1-1 2 1 5 8-4 0 20-6-1-6-9-6 2-2 5 0 4 2 3 4 1 6 0 8 3 0 24-12 2-12-3-8-8-1-4 1-6-4-8-10-7-4-1-2 1-2 1 0 2 3 8-8 8 1 11-2 1-4-2-5 0-5 2-1 2 5 2 10-3 2 2 3 9-5 18-18 21-4 4-4 2-8-1-5-2-1-4 6-11 3-13 7-22 0-2-4-4-1-2 3-3 8-2 8-4 8 0 1-1-1-12 3-6-3-8-4-3-4-1-3 2-3 6-1 10-1 2-12 6-4 4-12 5-4 0-4-2-4-5-6-9-4-2-4-1-4 1-10 7 0 2 3 8 2 8 6 6 3 9 6 7 0 2-1 2-6 4 0 2 7 3 1 1 3 12 2 6 4 3 8 3 2 2-1 22 1 4 6 5 10 1 7 8 4 8 3 2 4-2 0-2-3-6 0-2 5-7 2 0 4 21-6 10-2 11-2-1-4-4-8 0-4-2-6-10-5-16-5-4-4 0-4 0-18 10-4-2-3-4-2-8-5-4-2-10-2-5-2-3-20-3-10 5-4-2 0-4 3-8-1-6-6-10-6-3-6-1-2 0-2 3-3 11 1 10 0 9-8-1-4 4-1 2 1 5 4 3 4-1 7-9 9 0 5 2 2 2 1 4-5 6-5 8-4 0-10-4-6 3-2-1-2-4-4-3-12 1-9 2-1 0-1-4 2-8-3-2-14 6-2 0-6-6-2 1-2 1-4 14 4 8-2 8 1 4 11 11 2 0 6-7 4 0 3 0 1 2 1 8 4 4 9 3 2 1 6 18 6 7 2 1 3-2 1-2 0-10 3-12 0-10 9-7 8-1 2-4 3-10 7-3 3-5 1-6 7-2 1 6 2 2 2 1 14-3 2 2 3 18-3 6-7 6-3 6 3 12 3 5 7 5-5 14-2 2-10-3-6 1-3 2-3 5-4 2-2 3 1 2 3 2 6-6 8-1 6 1 1 2 1 11 5 9-7 6-4 1-5-3-5-6-6-1-7 3-6 8-3 2-10-2-4 0 0 6 6 12-3 4-7 5-2 5-13 0-3-4-4-2-2 1-2 5-17 0-1-5-2-3 1-2 3-1 13-3 1-2 0-7 7-7 2-8 3-4 2 0 6 5 4 1 2-2-1-8-3-6-4-2-12 0-8-2-10 3-9-5-2-4 0-8-5-2-3-4 2-4 9-3 0-5-12-10-6-3-12 13-6 4 0 8-8 12-1 6 1 6 4 4 7 4 1 2 0 4-2 1-6-2-4 1-3 2-5 8-2 1-15-5-5-6-4 2-3 4-3 10-6 8 1 4 2 4 1 6-35 0 0-10 3-4 3-10 5-1 6 2 4-1 2-10 2-2 6-4 2-2 2-8-1-2-3-2-14-3-6 0-8 3-2 0 2-12-1-2-7-3-8-1-2 0-2 10 2 10 2 3 4 1 6-2 3-2 1-1 2 9-1 8-3 7-4 4-4-1-6-2-4 3-4 6-7 5-1 8-3 6-74 0-1-10 5-8-1-3-2-1-4-1-4 2-12-7-6 5-12-3-1 2-3 12 2 6 0 6-56 0 0-2-2-2-2 1-1 3-33 0 5-10-1-4-4-2-8 4-2 0-6-8 0-4 4-12 4-6 2-1 8 1 3-2 2-2 3-10 2-1 8-1 3-4 0-2-4-4 0-2 5-8 0-4-2-4-8-6-2 0-4 5-2 1-10-2-2 0-1 4 1 6 11 8 1 4-1 4-3 3-18 9-4 0-6-2-4 0-11 8-2 4-2 10-5 6-8 4-1 2 2 10-1 3-4 2-10-2-2 2-1 3-20 0 1-12-6-2 0-7 8-6 4-7 1-4-3-10 2-4 4-2 8 1 8-1 8 4 4 1 1-3 1-12-2-6 1-2 7-4 3-4-1-4-4-3-8-2-6 2-18 8-10 0-8 3 0-14 8-3 3-3 2-4-1-3-3-3-3-1-6-1 0-50 9-2 4 2 3 4 14-17 4 1 6 6 4 1 6-3 3-4-3-4-6-4-6-1-6 2-10-4-6-10-5-5-2-10-5-6 5-8 1-4-2-6-2-3-6-3 0-19 2-1 0-2-2-2 0-40 2-4 0-2-2-2 0-22 2-1 2-4 3-11 0-8 3-4 8 0 14 9 4 1 2 0 6-12 0-4-4-8-7-8 3-3 6-3 14-4zM2276 74l-1 1-2 3-1 4 5 13 2 2 22-6 3-9-1-2-4-1-6 1-4 0zM2141 86l0 3 1-3zM2302 92l1 4 2 2 6 1 2-2 0-3-3-2-5 0zM1829 94l-4 2-8 6-2 2 0 3 1 3 3 3 10 5 4 1 3-3 2-4-4-14-3-3zM2326 98l-7 14 0 5 4 5 3 8 3 2 12 1 1-3-1-6-7-6-1-2 4-10 0-4-2-3-4-2-2 0zM1938 100l-3 2-4 4-4 6 0 2 2 2 6 1 2 1 5 8 7 3 3-1 1-2-1-4 1-2 2-1 2 0 2 3-3 6 2 8-1 8 2 2 4-3 3-5-3-10 3-10-1-1-10-11-12-5zM1976 108l-1 2 2 4 4 1 2-1 1-2-3-4-4 0zM1880 110l-1 4 2 7 9 3 3 4 6 5 2 1 1-8 0-4-3-2-6-10-6-1zM1841 130l0 4 10 10 10-10-2-3-4-2-12 0zM2348 134l-4 2-1 9-8 5-2 4 2 5 10 6 5-3 2-12 11-12-1-2-3-2zM1882 140l1 4 2 0 0-4-2-1zM1852 144l-1 3 2 2 2-1-2-4zM2181 144l-4 2-8 5-8 10-4 1-8 0-4 1-3 5-2 10-4 6 1 4 4 4 7 2 4 8 3 2 8 1 2 1 4 6 4 2 4 0 4-3 6-9 4 0 8 5 2-1 6-5 2 1 1 2 0 8 3 3 4-1 2-2 2-4 0-7-2-7 3-8-1-4-4-3-18-4-1-3 3-6-2-10-6-3-6-7zM1765 166l-1 2 3 6 0 6 2 2 2-3 1-9-3-3zM2267 172l-14 4-6 4-2 36-4 4-14 2-10 6-2 2 4 8-1 4-3 3-4-1-5-6-3-10-4-5-4-3-4-1-4 3-7 12-4 14-8 10-4 12 1 5 4 1 4-3 3-7 3-1 4-1 3 2-3 12-4 8 0 2 4 2 4 1 5-3 1-4-2-16 3-4 3-1 8 0 12 5 6 4 5 0 3-6 13-16 1-4-3-6 1-4 8-8 12-4 2-2 1-8 7-6 3-4 2-4-3-10 2-2 2 0 14 2 2-2 1-6 6-2-1-2-2-1-4 1-10-5-4 1-6 3-2 0zM2119 174l-2 1-4 3-2 4 4 6 4 2 2 0 4-4 1-4-3-5zM1775 192l6 12 4 2 4-2-4-9-2-3-6-1-2 0zM2296 220l-3 4-2 8 2 4 2 1 2-1 1-2 2-10-1-3-2-1zM2259 238l-1 2 3 2 1-2-1-1zM2313 262l-12 8-2 4 2 4 6 0 4-1 3-3 6-12-3-1zM2070 310l-7 6 0 2 4 0 5-2 4-2 2-2-1-2-2-1zM1744 316l-3 4-2 10 7 6 9 4 2-2 1-12-2-4-7-8zM1776 318l0 4 5 5 4 0 4-5 0-2-4-2-6-1zM2104 330l0 4 1 6 8 8 9 14 3 6-1 4-5 6-6 2-1 2 7 5 6 0 5-3 3-6 2-2 6 1 10-3 0-10 8-8 2-8 5-8 0-2-1-1-16-2-12 1-10 4-6 1-4-2-8-8-4-2zM2014 352l-5 3-5 1-3 8-6 6-2 4-2 6 0 4 6 6 2 4 2 1 10-5 4-8 4-1 4 1 3 2 1 4-2 3-8 3 1 2 3 1 12-2 5-13 0-8-9-10-5-10-5-3zM2066 354l-1 2 0 2 4 6 0 6 3 4 3 2 4-1 8 0 2-3-1-2-9-14-4-2zM2045 356l0 2 2 2 2-2-2-2zM1804 372l-3 2-1 2-1 2 2 4 12 2 4-2 1-4-4-6-3-1zM2057 378l-3 4 1 4 2-1 3-5 0-2zM2268 382l-3 2-1 2 2 2 7 4 2-2-2-4-2-3zM2197 392l-2 4 2 2 5-2 0-2-1-2-2-1zM2244 392l-3 5-6 3-1 4 3 4 10 0 4-1 2-3 0-6-2-4-4-3zM1969 400l-1 2 0 2 7 6 6 8 4 1 5-1-5-5-8-7-3-6-3 0zM1943 408l-2 2-1 4 1 4 2 3 4 3 2 0 8-4 0-2-2-3-8-7zM2123 416l-4 2 0 2 2 6 2 0 2-4 1-4-1-1zM1993 418l-2 1 0 1 1 4 0 4-4 6 0 2 2 4 5 6 14 10 4 0 5-2 2-2 0-2-9-7-5-9 2-10-2-4-3-2zM2024 422l-2 4 1 2 4 0 6-6-6-1zM2037 426l-2 6-1 10 1 3 2 0 3-5 13-6 1-2-8-4-7-2zM1742 454l-1 2 4 1 3-1 1-2-4-1zM2003 72l7 0 1 4 1 2 9 3 2 3 0 2-2 3-10 7-2 0-6-8-1-6zM1745 82l5 0 0 4-13 11-4 1 0-11zM2001 162l4 1 6 7-8 4-6 5-12-11 2-2zM2027 182l6-2 4 5 6 2 3 3-1 4-4 2-10 0-2 2 0 6-2 4-10 10-8 5-5 5-9 3-5-1-1-2 1-8 15-1 2-3-1-18-9-14 2-1 4 3 10 2 6 2 2 0 3-6zM1823 188l6 0 2 2-2 6 2 6 1 4-3 4-2 0-5-2-1-2 4-8-3-6zM1945 190l2-1 3 1 3 8 0 4-4 4-4-1-4-5 1-8zM1815 198l3 0 1 6-2 4-2 0-2-8zM1927 208l2-1 1 1 5 9 4 9 0 4-6 6-4 2-8 0-6 2-5-2-3-2-1-4-6-6 0-4 3-2 7-2 11-5zM1957 207l2 0 2 1 1 2 2 10 1 6-1 2-11 0 0-2-1-14zM2059 210l4 0 2 1 1 3-1 2-4 2-12 2-1-2 2-2zM2349 235l2 0 1 1-1 2-2 0zM2411 242l4 0 4 2 0 5-2 2-2-2-4-5zM2443 248l2 0 2 2-2 4-4 1-2-3 0-2zM2413 272l4 0 3 4-7 4-1-4zM2457 280l0 9-3-1-1-2 1-4zM2409 284l2-1 4 4 8-4 2 2 9 13 1 2-2 4-2 1-10 0-2 1-2 4-4 2-13-4-2-4 1-6zM1991 298l4 0 4 2 1 2-1 2-6 6-4 1-3-3-1-4 2-3zM2381 306l3 0 2 2 1 4-2 4-6-1-2-3 1-4zM2435 318l8-1 14 3 0 27-12-1-4-1-8-3-8-6-1 12-1 2-7 4-3 4 1 2 5 2 6-2 2 1 4 7 12 8 1 4-15 13-4 1-12-2-12 3-2 1 4 6 7 4 2 2 1 6 4 8 1 8 3 3 14 0 15-9 7-2 0 34-5-2-2-8-3-4-8-5-4 0-8 7-6 1-3-1-2-2-3-8-4-2-4 0-10 6-12 4-1 2 1 4 8 4 6 6 3 4 0 6-29 0-4-8-20-14-6 7-10 2-3 7-5 4-1 2-44 0 1-3 4-5-8-4-1-2 1-2 4-2 8 2 12-3 2-2 3-7 4-6-1-6 10-10 2-1 8 1 7-2 1-2-1-4-7-9-4-4 1-3 11 4 10-3 8 8 4 1 4-3 2 5 2 2 6 3 21-13 2-4-4-8 2-8-5-6 0-3 4-1 4 2 0 6 5 2 7 0 2-2 1-4-2-12-13-10-1-2 0-4 6-4 11-3 2-3 10-1 8-12zM2398 416l-9 2-1 2 1 2 4 1 10-1 2-2-1-2-3-2zM1883 322l1 2-1 3-2 0 0-3zM1923 330l4-1 2 1 2 4 1 4-3 7-6 2-4-2-1-5 1-6zM2229 332l6-1 4 7 0 2-4 6-4 3-6-2-2-3-2-4 2-5zM2329 354l8-1 18 5 4 4 7 10 11 8 1 2-1 4-4 2-10 1-4-3-4-7-6-1-10-3-14 6-6 5-6-2-2-2 1-2 7-4 2-4-1-10 1-4 4-3zM1899 356l4-1 10 3 3 16-2 4-3 1-9-9-5-10zM2181 411l4 0 3 1 3 6 2 2 10 0 4 2 2 2 0 10-2 5-10 11-4 1-2 0-2-3 0-6 3-8-1-2-3-4-1-6-2-2-4 0-3-2 0-4zM2147 447l6 1 8 6 8-2 4 1 4 3 4 7 4-7 4-2 8 6-2 2-1 6-35 0-2-4-12-4 0-10zM2065 454l4 2 0 2-4 2-2-1-1-3 1-1zM2259 456l2-1 3 1 1 2-2 2-2 0-2-2-1-2zM2437 460l8 1 3 3 1 4-15 0 0-6zM1793 467l2 0 1 1-3 0z" fill="#f0e8e6"/><path d="M1753 72l10 0-3 2-5 2-2-2-1-2zM1797 72l13 0 1 3 4 3 2-1 2-5 46 0 2 5 4 1 3-2 2-4 31 0 0 8 2 2 20 5 6-3 6-12 9 0 3 6 6 5 4 1 5-2 2-4-1-6 2 0 1 6 5 8 8 4 3 2 0 6 3 6 4 1 10-3 2 1 3 11 5 6 0 8 2 4 4 4 9 2 2 4 0 2-3 3-10 1-4-1-8-4-6 0-10 4-6 6-10 1-4 2-6 0-10 6-6-2-6-6-2 1-7 9-4 16-1 1-2 0-6-2-2-3 0-4 4-8-1-4-5-6-10-5-1-3-2-8 3-14 12-7 16 3 6 8 13 6 2 4-3 10 2 2 4 1 4-3 6-10-2-12 4-9 4 0 8 3 9-6 1-2-2-2-14-5-3 1-3 7-4 1-4-2-8-8-12-6-4-1-4 2-14 14-12 4-8-3-8-7-13 1-3 4 1 10-2 4 7-1 4 1 8 8 0 4-2 4-2 0-4-6-6-1-2 2-1 9-3 3-12 4-4-6-1-5 6-8 1-2-10-6-12 1-5-1-1-2 1-4 3-6 2-2 6-2 2-2 2-4-1-4-3-1-8 1-2 0-6-8-2 0-6 2-9 6-2 2-2 4 3 6 10 6 6 8 4 1 9 17 13 14-1 10 3 6-2 4-4 2-3-2 0-2 3-8 0-2-14-12-4 1-4 3-4 2-16 1-4 3-4 14 0 10-2 7-4 5-4 1-2 0-2-3-4-8-7-4-2-2 0-14-3-12-4 0-4 1-5 5-4 6 0 2 7 14 11 10 5 10 6 4 4 8 6 8 4 10 2 0 6-3 2 0 10 9 3 6 1 8 5 10 1 4-2 8-7 10-2 10-3 3-8 1-9 2-1 2 1 8-3 6-2 0-12-8-2-2 4-4 9-4-4-8-9-7-8-2-6-3-8 1-2-1-9-12-2-8-3-6 3-8 0-8-5-8-6-1 0-15 4-1 2-3-2-4-4-3 0-33 5-6 0-4-1-8-2-1-2 0 0-8 3 1 3 5 3-1-3-14 7-24 6 0 21 15 2-1 0-10 5-10-9-18 1-2 5-2 10-2 2-1 5-5 2-4zM1792 126l0 4 3 4 11-2 1-2-6-4-4-1zM1992 128l-9 2-3 4 0 2 5 4 4 0 2-2 6-8-2-2zM1803 148l-1 2 2 2 3 1 2-1 0-3-2-2zM2035 72l9 0-3 4-2 1-4-3zM2055 72l7 0-3 4-2 0-2-1-2-3zM2069 72l5 0 1 4 2 2 4 1 4-2 3-5 53 0 0 2-2 8-4 6-16 7-2 0-6-4-8 3-8 0-8-6-2 0-6 5-2 0-3-3-3-8 0-6zM2149 74l2 0 6 12 5 6 1 2-1 6 1 3 10 10 4 2 14 1 2-2 3-8 1-1 4 0 8 1 8-3 2 0 8 9 1 4-4 8-1 10-3 10 9 12-1 6 0 2 8 8 0 6-4 8 0 2 3 3 6 0 2 1 1 16-1 6-2 3-4 1-6-2-3-2-3-4-2-16 3-8-2-4-5-4-10-3-5-3 1-4-2-10 5-8 1-4-1-2-5 1-6 5-2 0-7-6-9-1-12 7-8 10-4 0-10-2 3-8 4-8 0-2-3-3-8-7 2-19 1-5-3-10 5-8-1-10zM2191 74l4 0 8 2 4 2 2 2 0 2-2 4-5 6-5 4-4 0-3-2-5-8 0-6zM2245 72l28 0-2 10 3 12-3 3-8 1-3 2 0 2 1 4 6 6 0 3-8 4-4 0-4-3-3-10-6-6-2-4 0-12zM2281 72l76 0 6 8 8 4 2-2 2-10 4 0 0 6 14 7 6-1 6-4-3-8 27 0-2 4-4 3-4 1-8-1-3 1 3 12 4 7 6 13-6 8 6 2 4 0 8-4 10 2 14-1 0 40-8-4-4 1-1 2-2 4 1 4 4 6-2 6 0 6-1 2-8 6-2 6 0 4 3 5 4 1 8 1 6 3 1 2-4 6 0 6-1 2-4 3-4 0-4-2-4-4-6-1-1-2 0-6-3-8-4-5-10-8-10-1-6-8-6-2-4 1-3 3-4 8-1 6-2 3-4 2-6 0-8 7-6 4-4 0-4-2-3-4-5-12-8-1-1-3 7-3 1-9 3-4 4-2 10-1 3-3 1-4-2-4 1-14 11-12 1-4-2-2-5-2-10 0-3-2-4-8-5-6 0-4 4-10 0-2-2-2-6-4-4-1-4 0-4 3-1 10-4 10 9 16 12 4 4 2 0 6-8 5-3 5 1 4 13 12-1 2-4 4-4 1-5 5-9 6-2 4 2 6-2 4-4 4-6 2-6-1-4-2-6-6-3 3 0 2 3 4 6 3 6 0 6 6 2 5 1 8 7 6 1 8 4 6-5 3-14 2-2 1-3 8-5 8 0 4 1 2 5 2 8-1 4-4 7-9 3-1 4 0 2 1 1 2 2 10 3 6 10 5 2 3-1 20 1 8-1 2-5 2-10 5-6 0-5-3-9-12-4-11-4-6-14-2-12-5-2-2-2-8-10-15-1-1-11 0-4 2-3 6-1 9-2 5-4 2-6 9-6 2-6 5-4 0-12-6-6 6-6 1-2-2-1-3 1-4 7-6-2-14 1-6 3-4 5 1 18 9 12 4 2-1 2-5-2-10 2-4 7-8 2-4 1-6-2-4 1-4 4-4 3-1 4 1 6-2 6 2 2-1 1-1-1-2-5-4-1-6 0-2 8-6 4-4 1-4-1-8 4-1 5 1 5 4 2 0 4-4 4-6 4-4-1-4-5-4-8 0-10-3-8 1-2-1-1-5 0-12-8-8-1-4 2-2 14-5 12-9 3-18-3-3-6-1-2-1 1-3 9-4 4 0 6 4 6 1 4 0 4-3 1-2-2-4-7-4-2-2 2-1 6 0 2-1 1-4-1-7-2 0-5 3-3 2-8-2-8 2-7-2-3-2zM2439 134l-1 4 3 2 3-2 1-4-4-1zM2428 170l1 1 2-1 0-1zM2296 216l-8 12-1 8 1 4 9 4 2 0 2-4 1-18-1-5-2-2zM2259 232l-5 4-2 4 1 2 3 2 7 2 3-4 0-4-5-5-2-2zM2451 72l6 0 0 16-4-2-2-2-1-4zM2007 81l2 0 3 3 2 2-1 3-4 1-3-2 0-4zM2045 84l3 0 5 6-4 2-3-2-2-6zM1739 86l4-1 2 1-1 2-5 5-6 2 0-7zM2453 94l4 0 0 20-6-6-4-8 1-4zM2113 102l2-1 2 1 2 4-2 2-4-2-1-2zM2095 137l14 0 2 1 1 2-2 22 2 10-4 10 2 4 7 6 4 1 10-8 6 7 7 4 2 2-1 2-9 6-3 12 0 8-4 6-4 2-12 0-8 2-4 2-6 8-6 2-4-2-2-6 4-6 4-3 6-2 2-3 1-6-4-10 0-6-3-4-2-1-16-6-5-7-9 2-1-8 2-6 4-6 7-8 7-4 2-2 0-6zM2139 162l-3 14-5 6-4-4-2-6 1-2 9-4zM2259 161l2 3-2 6-2-2 0-4zM1971 164l2-1 2 1 1 2-1 2-4 1zM2457 184l0 15-5-3-2-6 2-4zM2029 186l2 0 4 4 6 0 1 2-3 2-6-3-6-1 0-3zM2005 190l4-1 4 1 10 6 3 4 0 6-11 10-4 0-2-4 0-12-4-8zM1945 196l2-1 1 1 0 2-1 3-2-1zM1873 200l4-1 6 1 3 2 1 4-2 4-4 4-6 16 1 4 5 4 1 2-3 6-4 2-8 3-3-1-1-2 1-6-1-6-2-2-4-3-18 1-2 7-2-3 0-4-3-6 0-2 1-3 14-4 6-8 8-6 8-1zM2189 205l2 0 6 5 6 1 8 6 10-1 2 0 0 2-4 6-8 2-4-1-14-9-4 0-2 2-8 8-3 16-3 6-4 4-6 2-2 2-3 8 0 6-3 10-2 1-4-7 1-10-7-6-3-6 2-6 0-8 2-6 8-10 2-4-5-4-1-4 3-3 10 0 3 1 3 5 8 5 8-6zM1923 218l4-1 4 1 4 4 2 6-3 4-3 3-4 1-10-1-4-5-8-3-2-3 2-2 8 0zM2387 220l2 0 2 2-2 2-8 3-3-1 1-2zM2377 236l16-1 4 2 2 3 1 4-3 12-2 6-14 14-8 2-6 5-4 0-2-1-1-4 4-6 2-14 7-18zM2421 288l2 0 4 3 4 5 0 4-2 2-12 1-6 5-8-2-2-6 2-4 4-2 6-1zM2099 290l2 0 5 2 2 6 5 6 2 4 1 10 14 14 0 2-2 2-5 1-4-1-7-8-15-12-4-1-6 1-2-1-4-11 2 0 10 1 5-3 1-2 0-2-2-4zM2051 296l4 0 3 2 1 4 0 4-4 6-8 5-3 3 0 14 7 4 4 0 1-6 0-6 5 0 12-4 7 0 1 2 1 4-1 6-2 3-5 1-7 6-6 0-4 9-2 1-8-4-5-4-3-4 1-6-8-6-1-2 6-13 5-7 3-8 2-2zM1761 302l2-1 4 1 6 6 1 2-1 8 0 4 6 6 6 1 8-7 2 0 4 6 0 6-4 7-2 1-4-1-4 0-7 5-1 2 1 2 11 2 8-2 8-1 3-3 1-6 2-2 4 1 10 4 4 3 1 4-3 8 0 5 8-5 12 0 2-2 3-8 3-3 4-3 6 0 2 2 2 4-2 10 4 12 0 10-4 7-2 1-8-10-4-10-4-1-6 2-8 7-8-2-5 0-4-4-5-1-8 0-6 3-2 4-1 4 3 12 6 0 4-4 6 1 16 9 2 4-3 4-13 8-4 0-6-3-6 2-6 6-6 4-2 3 0 8-2 4-4 5-11 5-2 2 3 5 1 3-1 2-2 1-3-1-2-2 3-8-2-1-2-1-6 6-2 0-6-4-9-2 0-4 7-10 0-4-2-8 0-3 2-3 2 0 8 1 8 0 10 5 6 0 2-2-1-8 1-2 2-1 6 1 2-1 1-3-1-5-5-5 4-6-1-4-3-4-5-3-14-7-3 2 0 4-1 2-6 4-8 4-10 0-8 3 0-11 6-1 4-3 4-4 2-4-2-4-4-3-4-2-6-1 0-22 8 0 22 12 2-1-5-11 0-12-4-10 0-4zM2167 302l8 2 1 4-1 8-8 12-6 2-14-5-6 2-1-1-1-4 10-14 4-3zM2257 312l3 0-2 6-3 3-4-1-1-4 1-1zM2435 320l6-1 8 2 8 1 0 23-18-2-4-2-3-3-4-4 0-4 3-6zM2001 322l14 0 12 4 2 2-1 8 7 6 1 2-5 7-2 1-4-1-8-7-3-6-3-3-15-9 0-2zM2361 326l4 0 4 2 3 4 5 10 5 4-2 4-5 4-4 1-2 0-6-9-4-16 0-3zM2293 330l6-2 2 2 3 10-2 6-9 8-2 0-8-7-4 0-3 3-2 4 3 6 0 2-6 2-8 14-6 4-8-2-3-2-1-6 3-8 1-8 1-2 3-2 4 0 3 2 3 6 2 1 3-1 2-2 1-4-3-6 1-8 2-2 2 0 6 5 2 1 4-2 10 0 2-4-2-3-3-3 0-2zM2095 332l2-1 3 3-1 10 9 4 4 6 0 4-1 4 1 8-3 4-6 4-4-1-2-3 0-5 6-5 1-2-7 0-2-2 0-4 3-10-5-4-2-4 1-4zM1923 334l2 0 2 2 0 4-2 2-2-1-2-3zM1973 334l10 0 4 2 1 8 4 8 1 10-4 10-2 5-4 2-12-1-8 1-4-2-2-3 1-4 5-3 4-1 8 1 3-3 1-2-2-4-6-4-3-10 1-6zM2227 338l2-1 2 1 0 2-2 2-2-2zM2403 342l4 0 11 2-2 6-5 6-4 0-7-6-1-4 1-2zM2169 346l2-1 3 1 2 2-1 2-5 2-3 0 0-4zM2329 356l8 0 8 3 8 1 5 6 1 4 0 2-8 3-4-1-6-4-12 1-4-4-1-5 1-4zM2191 366l8 0 4 2 0 6 2 3 4 2 4-2 2-5 2-1 2 1 4 5 5 9 0 4-1 3-2 1-6-2-6 2-3-2-3-6-6-5-3-5-8-6 0-2zM2413 366l4-1 6 4 4 0 8 4 5 3 1 4-12 10-4 2-10-3-10 2-10-2-2-3 0-2 2-2 12-2 5-2 1-2zM2285 368l4 2 6 8 5 10-1 4-4 1-10-3-4-2-1-2-2-4 1-4 4-8zM2363 376l9 4 2 2-1 2-6 2-5-2-1-2 0-4zM2147 382l2-1 3 1 1 6 0 4-7 12 0 20-9 8-4 0-2-4 1-10-1-12-5-6 0-4 3-4 6-3 8-2zM2067 384l3 2 0 2-1 1-4-1 0-3zM2099 388l4-1 3 3 1 12-4 3-6 1-6-4-1-4 3-5zM2045 390l2 1 3 3-1 4-2 2-4-1-2-3 1-4zM1937 394l7 0 2 2 0 2-4 2-5 1-2-2 0-3 0-2zM1865 399l9 15-5 8-6 4-2-1-2-3-2-6 1-4zM2225 399l1 1-1 3-2-1zM2021 404l4-1 4 1 2 4-1 2-11 3-2-1-1-4 1-1zM2111 404l8 0 2 2 0 2-4 4-4 0-2-2-2-4zM2199 404l2-1 4 1 2 2-1 2-3 2-3-2-2-2zM2391 404l4-1 2 0 8 5 1 2-3 2-6 2-10 1-2 3 0 4 1 2 3 2 8 1 2 1 0 2-12 7-8 1-5 10-5 5-4 0-2-1-4-4-2-6-8-5-2 0-4 3-4 8-2 2-8-1-8-4-10 1-2-2 5-8 2-8 3-2 6 0 10-2 8 5 4-1 2-2 1-4-6-8 1-3 2-1 4 0 12 3 8 4zM1993 408l6 0 2 0 0 2-3 2-3 1-3-3zM2285 410l4-1 5 1 1 6-2 5-4 1-6-4-1-4zM2259 414l8-1 4 2 2 3-1 2-5 4-6 0-3-2-2-4 1-2zM1967 415l2 0 2 1 4 4 1 4-1 3-4 1-4-2-1-4zM2049 416l2 2-2 3-2-3zM2453 426l4 0 0 27-4-3-3-8-6-6-1-2zM1931 428l4-1 4 1 2 4-2 4-2 1-2-1-5-6zM1953 428l4-1 2 1 1 2 0 2-3 3-4 0-2-3zM1829 436l8 1 4 9-16 0-2-2 0-2 2-4zM1973 435l4 1 10 9 3 3 1 4-1 2-3 2-8 1-2 1 0 10-3 0-3-6 0-2 4-4 1-4-1-6-4-6 0-3zM1915 438l2-1 2 2 1 9-3 5-4 1-4-2 0-2 2-6zM2231 438l4 0 4 1 2 2 4 9-1 6-9 6-2 1-6-5-5-8 1-4 1-2zM2419 437l4 0 4 1-2 3-4 1-2-2zM1875 452l4 0 2 2 2 6 4 4 6 1 10-1 4 1 6 0 2 1 2 2-40 0 0-6-4-6 0-2zM2029 451l7 1 3 4 1 4-3 8-24 0 0-1-2 1-9 0-2-6-3-6 2-1 8 5 6 1 8-3zM1851 454l8 0 3 2 0 2-3 2-4 1-5-3zM2083 456l2-1 12 3 6 6 1 4-26 0 1-7zM2295 456l6 0 12 4 1 2-1 4-2 2-2 0-2-2-4-1-6 3-4 0-1-8 1-3zM2167 458l4 0 0 2-2 2-2 0-2-1zM2385 458l6 0 4 2 2 2 1 6-18 0-2-6 2-2zM1747 460l8-1 1 3-1 6-14 0 1-6zM2207 460l4 0 2 1 1 1 0 6-10 0 0-6zM2439 463l4 1 3 4-9 0 1-4z" fill="#edded8"/><path d="M1797 73l11-1 2 6 5 4 4-2 1-8 42 0 3 7 4 2 9-3 2-2 0-4 3 0 1 4 3 2 3-2 1-4 15 0-2 10 1 3 4 1 8 0 14 3 4-1 2-2 6-11 2-3 1 0 4 6 7 6 4 2 8 1 8 6 6 1 2 8-2 1-6-2-4 3-4 6-4 0-8-7-18-10-2 1-9 8-17 10-4 0-4-1-8-6-2 0-16 3-2 2 0 10-6 7-4 1-4-1-8-5-6 3-4 0-2-3 2-5 8-5 6-7 8-1 1-4-3-6-22 3-8-7-6 0-15 10-2 2 0 4 5 9 8 5 2 8 10 4 4 6-1 4-3 8-5 6-3 2-6-1-4-2-8-12-4 0-4 3-2 4 4 10 1 10-4 10 1 6-1 6-5 6-2 0-2-1-3-9-3-3-5-3-1-2 0-16 5-4-1-4-2-2-10-4-2-4-3-2-7-1-2 1-4 8-1 0 1 1 5 5-1 4-6 7 1 7 6 6 5 9 9 7 6 10 6 6 3 7 6 7 4 12 4 6 2 1 1-7 3-3 4 1 4 4 2 4-6 6 12 10 4 6-2 8-6 10-4 11-2 0-8-2-2 3-4 2-3-2-10-10-1-4 3-6-3 0-10 4-10-3-6 1-4-1-8-11-2-14 2-2 2 1 4 3 4 1 3-3 0-2-5-4-6 1-1-7-6-10-3-2-6-1 0-11 6 0 6 6 2 1 8-7 2-4-2 0-4 3-6-2-8-10-4-2 0-25 7-12 2-8 1-2 8-4-6-7-2-7 1-8 4-14 3-1 14 8 5 5 3 10 2 0 2-2 3-10-2-8 0-4 6-6 1-2-6-6-4-8 0-4 4-3 4 0 3 1 3 4 1-2 1-6 5-6zM1793 122l-5 2-1 2 1 4 5 6 14 1 4-2 1-5-1-2-12-5zM1748 134l3 2 0-2zM1805 250l0 8 5-6zM1803 258l-4 7-2 7 6-5 2-3-1-6zM2089 72l50 0-3 10-3 4-14 6-8-3-10 3-6-2-6-5-5-3 4-6zM2247 72l23 0-1 10 2 10-2 3-8 1-2 2-2 4 3 8-1 4-2 1-2 0-2-1-3-8-8-12 0-10zM2285 72l24 0-2 2-8-1-8 3-6-2-2-2zM2323 73l32-1 6 9 6 6 4 3 4-1 6-5 10 4 12-2 2 1 4 9 4 5 3 9-6 10 1 2 2 2 12 2 6-4 4-1 22 1 0 35-8-4-4 0-2 2-4 8-2 1-14 1-1 1 1 7 2 5 2 1 2 0 8-6 2 0 2 4 0 7-7 6-2 4-1 8 2 4 4 3 12 3 0 4-2 3-2 1-12-2-2-1-4-11-9-12-1-7-2 1-2 2-4 1-6-2-14-7-4 1-3 1-6 10-4 8-3 1-2-1-3-4-1-5-2 0-2 7 0 6-2 4-4 3-4 1-6-2-2-4-1-8-3-10 0-6 4-2 10-3 6-5 1-6-3-10 1-6 9-8 8-10-14-4-8 0-4-2-8-14 1-4 6-10 0-4-7-1-16-7-2-4 0-4zM2405 102l-2 1-2 3 0 4 5-2 1-2zM2383 110l-5 2 2 2 5 1 4-3 0-2zM2363 112l-2 2 0 2 2 3 2 1 5-2 4-4 0-2-3 0zM2389 130l-7 4 1 2 4 3 2 0 2-1 2-4-2-3zM2440 130l-5 4 0 4 2 5 4 2 5-7 1-4-2-3zM2425 132l-2 2-2 6 2 3 4 1 2-3 0-5-2-3zM2405 72l22 0-2 4-4 2-4 0-4-3-6 0-2-1zM2453 72l4 0 0 13-4-2-1-3 0-8zM2193 76l9 2 4 4-4 8-5 4-6-1-3-3-1-4 0-6 2-2zM2149 81l2 0 3 5 7 8-1 8 5 12 4 4 10 0 13 4 3 8 2 2 2-1 3-5-1-2-4-4-1-2 3-9 4-2 14-1 2 1 5 5 1 4-5 10 1 6-1 4-3 3-16 0-6 5-16-3-13 7-7 9-4 1-5-2 0-4 5-8 1-4-7-8-1-6 1-3 2 0 2-2 6-7 0-2-4-6-10-6-1-2 0-4 5-6zM2079 84l1 0-1 3-1-1 0-2zM2457 96l0 13-4-3-2-6 2-3zM2293 100l24 4 1 2-4 10 5 8 3 8 3 3 10 2 4 3 0 3-10 7-2 6 2 4 7 6 2 4-7 6-4 5-10 7-1 2 2 10-5 5-6-1-5-4-1-2 9-14 0-4-5-5-4-3-8 0-16-3-2-3 4-14 8-3 2-3-3-8 0-2 7-8 1-10 3-10-1-4-4-4zM2001 113l2-1 8 8 1 2 0 6 3 6 4 3 10 3 1 2-1 2-12 2-12-5-10 1-1-2 1-2 8-10-4-3-10-1 0-2zM1921 120l12 2 6 7 12 6 3 3-1 4-4 7-9 3-10 12 0 8-1 6-2 1-4-1-3-4 1-4 5-6 1-2-1-2-7-7-10-7-3-6 1-8 3-6 7-5zM1973 122l4 1 2 3-1 4-3 3-3-1-2-4 1-4zM1869 135l4 0 2 2 1 3 0 4-3 3-8 0-2-1 0-4zM1975 140l6 1 5 3 0 2-2 4-5 2-10-2-1-2 2-4zM2095 140l4 0 8 2 1 2 2 10-1 8 0 8 0 4-5 8 2 6 13 8 2 6 2 1 2 1 3-2-2-6 0-2 3-3 2 0 2 1 6 6-7 6-1 22-3 4-3 2-20 2-4-2 1-14-2-12-3-6-10-8-2-3-6 1-4-6-2-1-8 0-2-1 0-6 4-8 8-7 4-2 6 1 2-2 0-2-1-6 1-2zM2085 174l-3 2-1 4 1 4 3 4 5-10-2-4zM1843 148l6 6 1 4-3 1-6-8-2-1zM2213 148l4-1 6 7 1 2-4 6 1 2 8 4 4 4-1 6-3 4-2-1-12-9-9-10 0-4zM1949 154l2-1 4 1 3 2-3 3-4 0-2-3zM2131 172l1 2-1 1-1-1zM2457 186l0 11-4-3-1-4 1-2zM2011 193l2 1 1 2-1 1-3-3zM2227 193l2 0 4 0 6 3 2 2 1 10-1 5-2 2-6-1-5-6-2-12zM2283 194l3 0 2 2-3 6-2 0-1-4 0-2zM2015 198l6 3 1 3-7 8-2 0-2-4zM1869 204l10-1 3 1 1 2-4 7-3 11-5 7-4 1-10-4-10 1-5-3-1-2 0-2 8-5 6-8 6-4zM2283 203l2 0 8 9 0 2-4 9-7 5 1 12 2 3 12 5 4 0 6-16-2-5 0-5 0-3 2-1 2 0 2 4-2 10 8 4 2 4 0 4-3 4-5 3-8 1-1 2-8 16-1 4 2 5 2 2 4 2 8-2 6-4 8-9 4-1 2 0 2 3 2 8 3 6 11 8 1 4-3 22-10 9-6 0-5-3-9-12-8-16-8-4-8 0-10-6-3-6-5-6-2-4 0-4 2-4 1-4-1-3-2-2-4 1-6 5-10 2-6 5-2 1-2-2 0-5 6-4 4-7 4-1 8 2 2-1 6-12 7-7 2-2-11-8-1-4 1-2 9-6zM2165 218l4 1 3 5 3 10-2 10-4 5-2 1-6-2-2 0-2 2-2 7-2 2-2 0-4-3-1-2 1-6-2-10 1-6 3-4 8-7zM1927 220l5 2 2 4-1 4-4 3-8-1-3-6 3-4zM2091 234l4-1 3 1-4 8-2 2-3 1-2-1-2-4 2-3zM1873 238l4 1 2 3-2 3-4 1-3-2 0-2 1-4zM2379 238l12-1 4 1 3 4 0 6-2 10-4 6-11 10-4 2-4 0-4-1-2-3-1-4 0-6 8-20 1-2zM2201 272l4-1 4 1 14 11 4 1 1 2-7 3-6 5-2 0-4-1-5-5-5-8 0-4zM2419 292l4-2 2 2 2 2 0 4-6 2-3-2 0-4zM2051 303l2 1 0 2-2 3-2-1 0-3zM1763 305l2 0 3 3 2 14 3 4 12 8 6-7 4-1 2 4-2 7-2 1-6-2-14 7-4-1-4-3-3-5 0-10-3-10 2-6zM1789 310l2-1 3 1 1 2 0 2-2 1-2-1-2-2-1-2zM2153 314l8 0 4 2 1 2-1 4-4 2-6-2-3-4 0-2zM2435 322l6-1 8 5 8-1 0 18-4-1-6-3-8 2-6-4-2-3-2-4 2-4zM2067 328l6-1 2 1 1 2-3 3-8 3-1-2 0-2zM2365 332l4 1 2 2 4 9 1 4-3 4-4-1-4-7-1-10zM1737 338l6 0 18 13 14 4 16 0 14-3 6-4 0-6 2-1 4 1 8 4 2 4-6 14-4 2-12 0-4 1-4 5-4 7-2 2-4-2-15-9-5 0-5 2 1 6-4 4-8 4-10-1-8 4 0-7 6 0 4-2 10-10-2-4-6-6-6-3-6-1 0-15zM2405 344l4 1 3 1 1 4-2 3-4 0-4-3-1-4zM1857 348l3 0-1 3-2 0zM2329 360l4-1 4 1-1 2-5 1-3-1zM1835 362l4-1 3 1 0 2-2 2-5 3-2 0-1-3zM2347 364l4-1 2 1 2 2 0 4-4 2-3-2-2-4zM1863 365l2 0 3 5-1 8-2 3-4-3-1-4 0-6zM2253 368l4-1 3 1 1 2-2 5-4 1-4-2 0-4zM2427 374l6 0 3 2 1 2 0 2-7 4-3 4-2 1-4 0-3-3 1-2 6-2 0-6zM2399 384l8 0 2 0 0 2-4 2-6-2zM2141 394l2 0 1 2-3 4-2 1-2-3 1-2zM1811 396l4-1 4 1 5 2 2 2 0 2-9 7-8-2-6 2-4-1-2-6 2-4zM2391 408l4-1 3 1-1 2-4 1-2-1zM1865 410l2 0 1 4-1 3-2 1-2-1-1-3 1-2zM1749 418l16 1 16 9 2 2 1 2-2 6-5 4-6 3-12-2-6 4-6-1-2-2 4-8 1-4-4-10 1-3zM2379 417l2 1 1 6 6 6-1 2-2 2-4 0-7-4 0-6zM2335 432l4 2 1 2-5 8-2 0-5-6 5-5zM2323 436l3 2-4 0-1-2zM2369 438l2-1 1 3-1 4-2 1-1-5zM2457 440l0 10-2-2-1-6 1-1zM2233 446l2-1 2 1 2 4-2 2-4-3zM2031 456l3 0 1 2-2 10-15 0 1-4 1-2zM2389 462l4 0 2 2 0 4-9 0 1-4zM1747 464l2 1 0 3-4 0 0-2zM2083 464l4-1 6 1 4 2 1 2-17 0z" fill="#e8d1c9"/><path d="M1799 72l7 0 0 6 2 4 3 3 4 1 4-2 2-2 1-10 34 0 7 8 1 6-3 5-8 2-10-1-8-5-6 0-24 14-10 0-5-3 4-6 0-10 4-6zM1895 72l9 0-3 10 2 4 14 6 4-1 7 1 2 2-1 4-16 11-4 1-6-1-8-6-20 3-2 2 1 8-2 4-5 5-2 1-4-1-6-7-2-4 4-5 12-3 1-2-3-10 3-8 1-2 4-1 16-3 2-2 0-6zM2091 72l46 0-4 12-4 2-10 4-10-4-6 3-6-1-7-6-2-2zM2249 72l8 0 2 3 3-3 5 1 2 19-2 2-8 0-6 8-6-6-3-6 1-8zM2343 73l2-1 6 0 2 2 7 8 7 11 2 1 4 0 6-5 4-1 8 3 10-2 2 1 1 4-7 10-4 2-14 1-4-1-6-6-1 0-1 1-1 5-8 6 0 4 4 8-2 2-9 2-4-4-5-10 0-4 6-8 1-4-1-4-3-1-8-1-10-6-3-4 0-4 2-2 11 0zM2415 72l10 0 0 2-4 3-4-2zM2455 72l2 0 0 11-2-2-1-3 0-6zM2193 78l6 1 4 3-2 6-4 4-6-1-3-5 1-5zM1945 79l2 0 10 9 11 2 4 4 2 2-1 2-6 9-2 0-2-1-19-16-2-6 1-3zM1779 90l2-2 2 2 4 8-4 1-2-2-2-5zM2153 90l5 4-1 6-2 2-6-2-2-4 2-4zM2455 100l2-1 0 6-3-3zM2303 104l5 0 5 3 1 1-2 8 6 10 1 6-3 10-7 8 0 4 2 3 6 2 4 3 4 0 4 2 4 4-1 2-7 9-8 5-2-1-12-12-14-1-8-3-2-3 0-6 2-4 8-4 6-5 4 0 4 1 2-2-2-2-6-6-2-4 1-16 4-10zM1803 106l2-1 2 2 8 10 4 4 1 3-1 4-2 1-4-3-8-3-8-4-4 0-8 2-2 0-2-3 0-4 2-1 8 0zM2203 109l14 0 6 5-1 4-6 8 1 8-2 2-8 0-3-2 0-10-5-8 1-4zM2387 118l4-1 6 3 8-1 4 6 10 4 1 3-2 6-3 3-5 1-5 5-8 0-5-3 0-2 4-8-1-4-2-3-4 0-8 2-8-1-6 0-3-2 2-2 9-5zM1751 120l2-1 6 2 7 5 3 4 0 4 0 4-1 2-5 1-5-3-8-12 0-4zM2161 120l2 0 6 3 8-2 4 1 7 6 3 8-1 2-3 1-10 0-14 9-5 6-3 2-2-2 0-2 5-8 1-4-1-4-4-4-1-2 5-8zM1921 122l10 2 7 6 11 6 2 2 0 4-2 3-10 6-6 7-2 1-4-1-8-8-8-6-3-4 1-6 2-6 4-4zM2435 124l4 0 2 2 6-2 10 0 0 31-11-7 0-4 3-8-2-6-4-3-2-1-8 4-1-2 0-2zM1817 132l2-1 4 2 8 0 5 3 0 2-1 3-7 5-5 6-4-1-2-2-4-7 0-4zM1783 132l2 1 6 6 2 1 8 0-5 8 1 8-2 3-4 0-2-1-4-6-7-6 0-6zM2005 134l4-1 2 1 7 6-1 2-14-4-2-2zM2327 138l6 1 2 1 0 2-10 8-2-2-1-6 1-2zM2377 139l6 1 5 4-2 8 1 2 2 1 8 3 8-5 2-1 2 1 5 7 5 12 1 6-1 2-2 1-8-1-6 5-4-1-10-4-4 0-5 4-9 11-2 1-4-8-4 0-3 2-3 7-6 5-2 0-4-3-2-4-2-5 1-4 3-2 10-4 5-4 1-4 1-4-1-4-2-6 0-4zM2097 142l10 10 1 4-1 16-7 8 1 12 2 3 10 1 6 8 8 4 2 2 0 14-2 4-2 2-16 1-3-1-1-4-1-18-6-12-6-6-1-4 4-8-4-6-4-2-2 0-6 5-4 2-6 2-2-1-1-2 2-6 7-7 4-1 6 1 4-3 1-12 3-4zM1977 144l4 1 1 1-1 2-4 0-2-2zM2433 148l4 1 3 3-1 6-4 3-6-1-2-2-2-6zM2215 150l2 1 3 3-3 5-4 3-3-2 0-2zM1747 160l4-1 2 1-1 2-3 2-2-1zM1785 166l14-1 2 1 1 2-1 6-5 6 2 8-1 4-2 3-2-1-1-8-3-4-5-2-2-2 0-10zM1743 168l3 0 2 6-1 4-5 4 0 2 3 2 6-3 4 0 3 3 4 10 9 4 4 8 6 8 2 8 8 6 1 4-1 6 1 2 6 6 2 4 0 4-7 14-4 3-6 2-8 4-8-3-10 1-3-3-4-6-1-4 2-4 8-1 10-7 4-6 2-8-2-1-3 1-2 2-2 6-3 3-4-4 0-7-2-2-8-1-2-2 0-3 12-11 2-7 0-2-4-4-10 4-2 0-8-7-4-2 0-19 4-2 1-8zM1927 168l2 4-2 4-2 1-2-1-1-4 3-3zM2223 170l4 0 2 2 1 2-1 2-2 1-4-3-1-2zM2427 188l2 0 0 2-2 3-2-3zM2457 188l0 6-2-2 0-2zM2309 194l4-1 2 3 0 4-2 3-4-1-2-2 0-4zM2231 198l4 0 2 2 3 6-1 4-2 1-2 0-2-3-2-4zM2349 203l4 2 0 3-5 0-1-2zM1867 206l8 1 2 3-1 10-3 7-6 2-12-5-6 1-3-1 1-2 2-1 6-10 6-4zM2283 208l2 0 4 3 2 5-4 7-4 1-4 0-7-4-2-4 2-2zM2433 210l4 2 1 2-3 1-2-2zM1735 220l2 0 3 4 1 2-2 2-6 0 0-9zM2159 222l6-1 2 1 2 2 4 10 0 4-2 6-2 2-10-2-6 3-2-1-2-3-1-5 1-6 3-4zM1925 224l2-1 3 1 1 2 0 2-4 2-3-2-1-2zM2277 238l2 1 6 8 8 2 4 3 0 4-2 3-9 9 1 5 6 9 0 3-2 2-4-1-3-2-2-6-6-4-2-4 2-8 0-6-1-3-5-5 0-2 3-6zM2385 238l6 0 5 2 1 6-2 10-3 6-9 10-4 2-6 0-4-2-2-4 1-10 9-17zM2309 240l4-1 2 1 0 2-2 4-4 1-2-1 0-2zM2255 252l3 0 0 2-3 2-2-2zM1809 260l2-2 2 1 6 3 4 3 2 5-1 4-8 16-3 3-16-2-4-3-2-2 0-2 17-18zM2325 270l4 0 6 16 4 3 6 3 1 2-3 22-8 8-4 1-6-3-4-7-6-7-6-13-7-7 1-2 10-5zM2205 276l2 0 1 2 1 2-2 2-2-1-1-3zM1765 314l1 4-1 3-2-5zM2435 324l4-1 3 1 2 2 0 8-3 4-2 1-4-2-4-5 0-4zM1767 326l10 6 2 2-1 2-5 2-6-3-2-5zM2455 332l2-1 0 10-3-1-2-2 0-4zM1741 340l6 2 6 7 7 3 13 5 12 2 14-2 10-4 8-5 4 0 1 2-2 8-2 4-5 2-6-3-4 0-6 6-6 9-2 1-3-1-5-4-8-4-4 0-8 1-4-1-12-11-12-4 0-5 6-8zM2369 340l1 2-1 2zM1753 376l4 0 1 2-1 2-6 2-1-2zM1749 420l14 1 4 1 11 10 1 4-1 2-3 3-6 2-12-5-2-2-6-10-1-4zM2025 463l4 0 1 5-9 0 2-4z" fill="#e3c5ba"/><path d="M1825 72l27 0-2 6 7 0 2 1 2 3 0 4-2 3-4 1-5-2-3-5-6 1-6-1-8 1-2-1-2-7 0-4zM1897 72l5 0-3 6-2 0-2-6zM2093 72l43 0-5 11-12 4-10-4-8 3-6-2-4-4 1-8zM2419 72l4 0-2 3-3-3zM2457 72l0 6-1-6zM2345 76l6 0 4 2 5 6 1 4 1 10-1 6-7 6-1 2 5 10-1 2-4 2-4-2-4-10 0-2 5-6 2-12-2-2-3-1-10-1-8-5-1-3 1-2zM2193 80l4 0 3 2 0 4-3 5-5-1-2-4 0-4zM2251 79l1 1-1 6 3 6-1 3-2 0-2-2-2-5 1-6zM2261 80l2-1 2 2 2 7-2 3-2-1-2-2-1-6zM1891 82l6-1 6 8 15 9 1 2-3 4-3 3-4 1-4-1-6-5-4-1-10 2-12-1-2-1-1-5 0-4 3-4 2-2 6 0zM1947 86l2 0 6 6 12 2 3 2-1 2-4 2-4-1-6-6-6-3zM1799 88l2-1 2 0 4 3-1 4-3 2-5 0-1-2zM2379 92l4-1 8 2 6 1 1 0 1 2-2 4-3 2-11 3-4 0-3-3-2-4 1-2zM2153 94l2 2-2 1-1-1zM2303 108l2-1 2 0 3 1 1 10 6 10 0 5-6 8-2 0-10-8-1-3-1-10zM1803 110l4 0 2 2 4 6 0 3-2 1-4 0-5-4-3-4 1-2zM1865 110l4 1 2 2 0 3-4 6-4 1-4-3-2-6 2-3zM2205 112l10-1 4 2 1 3-1 4-6 6-2 6-1 0-2-2 0-4-6-10 1-3zM1755 123l6 1 5 4 1 6-1 4-5 0-4-5-4-7 0-2zM1919 124l6 0 6 3 6 5 11 6 0 4-3 4-6 3-6 6-4 1-8-8-8-5-3-3 0-4 2-6 3-4zM2163 124l6 2 6-2 4 0 5 4 2 6-1 2-10 1-6 5-6 2-2-8-3-6 1-4zM2401 124l2 0 6 4 7 2 1 2-1 4-5 2-3-2-3-3-4-1-2-3-1-3zM2453 126l4 0 0 15-4-1-1-2-3-10 2-1zM1831 136l1 2-1 2-2 0-2-1 2-3zM2399 138l2 2-2 3-2-1 0-2zM1785 140l1 2-1 3-2-3 0-1zM1819 139l3 1-1 4-2 1-1-3 0-2zM2379 142l5 2 0 2-1 8 1 2 8 4 3 8 4-1 4-8 2-2 2 0 2 1 3 4 0 8-11 11-4 0-6-3-4 0-6 2-8 8-2 0-6-3-6 1-6 9-4 2-4 0-2-3-1-4 1-4 12-5 6-7 1-10-3-7 1-3zM2095 146l2 1 8 7 1 2-1 14-4 4-6-2-5-6 2-8 0-8zM2293 150l4-1 4 1 6 11 8 3 6 5 4 0 1 1-1 4-6 4-4 0-6-3-6-7-12 1-8-3-3-4 2-6zM2077 164l4 1 0 3-4 5-6 1-1-2 1-4zM1795 168l4 0 1 2-1 3-2 1-10-2zM1743 172l2 2-2 3-2 0 0-4zM1735 185l8 4 4 0 6-3 2 0 3 6-2 8-7 6-4 0-8-6-4-2 0-13zM2111 203l14 7 2 2 1 10-1 3-2 3-4 1-12-1-1-4 0-14 1-5zM1767 208l2-1 2 1 4 4 4 6 0 4-2 5-6 6-4 1-6-1-6-2-1-3 7-8zM1863 208l8 0 4 3 0 9-2 4-2 3-4 0-4-1-9-6-1-4 2-4zM2279 212l4-1 4 1 2 4-2 4-6 2-4-1-4-3 0-2zM1735 222l1 2-3 1 0-3zM2161 224l4 0 2 2 4 10-1 4-1 3-2 0-12-2-3-3-1-4 2-4 4-4zM1785 234l1 0 0 8 9 7 2 3 0 4-5 12-3 3-9 1-5 3-18-1-4-6 1-4 17-9 12-20zM2381 240l8-1 4 1 3 4 0 6-2 8-5 6-8 8-6 1-4-1-2-3-1-7 2-6 6-12zM2275 242l3 0 5 8 7 2 1 2-3 6-5 4-2 0-2-2-1-10-6-6 1-2zM1813 264l6 1 2 1 2 4-6 10-2 8-2 2-2 1-11-3-3-2 1-4 4-8 8-6zM2325 272l2 0 2 2 5 12 8 8 0 2-1 11-2 5-4 8-4 3-4-3-2-7-6-3-4-4-7-18 0-2 2-2zM2435 326l4-1 3 3 0 4-3 4-4-1-2-3 0-4zM1741 343l2 0 3 1 5 8 14 4 6 4 6 1 1 1 0 2-1 1-6 0-8 2-6-1-10-11-7-3-2-2 1-4zM1815 354l2 2 0 2-2 2-2 0-2-2 0-2zM1789 368l2 1 0 1-2 3-1-3zM1751 422l10 0 5 2 9 10 0 4-3 2-3 1-6-3-11-12z" fill="#deb9ab"/><path d="M1825 72l6 0 0 4-2 3-3-1zM1837 72l13 0-3 5-6 3-3-2-1-4zM2095 72l7 0 2 8-2 2-5 0-3-2-1-8zM2111 72l23 0-5 9-10 3-4-1-3-3-2-8zM2349 78l4 1 4 3 1 4-1 4-2 1-8-2-7-1-7-4 0-2 3-2zM1855 82l2 0 1 2 0 2-3 1-2-1-1-2zM2193 82l3 0 2 2-1 4-2 1-2 0-1-3 0-2zM1891 84l4 0 2 1 6 6 10 7 2 2-2 4-2 2-4 0-6-6-4-1-12 0-4-1-4 1-4-1 0-4 2-3 6-1 4-4zM2381 94l4 0 8 4-2 2-6 3-6 0-2-5 1-2zM1805 114l2 0 1 2 0 2-2 0-2-2zM1863 114l4 0 1 2-3 4-2-1-2-2zM2207 114l4-1 4 1 3 2 0 2-5 5-4 0-2-3-2-4zM2305 113l2 1 8 14 0 4-4 3-10-5-2-4 0-4 1-4zM2351 120l2-1 1 1-1 2zM1759 126l4 2 1 2 0 4-1 1-2-1-4-6 0-2zM1919 126l6 0 6 3 13 9 1 2 0 2-12 10-2 1-2 0-6-6-8-5-3-4 2-8zM2177 126l3 2 0 2-1 2-10 1-3-1-1-2 4 0zM2455 129l2 0 0 9-2-1-1-3 0-4zM2377 146l2 0 2 1-1 9 1 3 8 3 2 4-1 6-1 2-10 5-18 3-1-2 2-4 2-12-2-8zM2097 152l6 4 1 2-1 10-2 2-4-1-3-5 1-11zM2293 152l4 0 3 2 2 6-1 4-8 4-8-2-3-4 0-4 3-3zM2309 166l3 0 3 2 1 2-1 3-2 1-4-2-1-4zM2401 172l1 0-1 3-2 2-2-1 0-2zM2351 186l2 0 0 2-1 4-5 2-2-1-1-3 1-2zM1735 190l8 2 10-3 2 2 0 5-4 6-6 1-8-6-4-1 0-6zM2113 208l8 2 4 2 1 10-3 4-8 1-4-2-1-13 1-3zM1861 210l8-1 5 3 1 4-1 4-3 5-4 1-4-1-8-7 1-4zM1769 212l3 0 3 4 1 6-7 7-8 0-1-1-1-2 4-4 4-9zM2281 214l2 0 2 0 1 2-1 3-4 1-3-2 1-2zM2161 226l2 0 2 2 3 6-1 5-2 0-6-1-3-4 0-4zM2387 240l4 0 4 4 0 6-2 8-5 6-7 7-4 1-4-1-4-5 0-4 2-6 8-13zM1781 245l4 1 9 6 0 4-5 12-2 1-4-1-3-6-3-1-2 1-1 6-1 2-10 2-4-1-1-3 1-4 6-4 8-2 4-9zM1815 270l2-1 2 1-3 6-3 11-4 2-7-3-2-4 3-6 4-3zM2323 276l2-1 2 0 11 21 0 4-3 4-10 5-6-1-3-4-3-6-2-10 2-4zM2437 328l2 2-2 3-2-3zM1755 356l4 0 6 2 3 2 0 2-5 3-4 0-4-5-1-2zM1765 431l5 3 1 3-2 1-4-2-2-4z" fill="#daae9e"/><path d="M1839 72l9 0-1 2-4 3-3-1zM2097 72l2 4 0 3-2-1-1-2zM2113 72l19 0-3 4-10 5-2 0-2-2-2-5-1-2zM2349 82l4 0 1 2-1 2-6-1-6 0-2-1 2-1 4 1zM1889 86l6 0 5 6 1 3-2 1-6 1-6-2-2-5zM2381 96l4 1 1 1-1 2-2 1-3-1 0-2zM1907 100l3 0 1 2-4 0zM2211 116l2 0 1 2-3 1-1-1zM2303 118l2 0 2 1 5 7 1 4-4 1-8-5 0-4zM1919 128l4-1 8 5 7 6 1 2 0 2-8 6-5-4-10-4-2-2 0-4 2-4zM2375 151l2 1 0 8 2 2 6 3 2 1-1 6-7 4-10-1-2 0-1-3 1-10-1-4zM2291 154l5 0 3 4-1 4-1 2-4 2-6-1-3-3-1-2 2-3zM1751 192l2 2-2 5-4 2-4-3-1-2 1 0zM1861 212l6-1 5 1 1 2 1 4-3 6-2 0-4 0-8-6 0-4zM2113 212l4-1 5 1 2 4-1 8-2 1-4 0-4-2-1-7zM1769 216l2 0 1 2-1 4-2 1-1-3zM2161 230l1 2-1 1zM2383 242l6-1 4 2 1 5-1 6-2 6-6 7-6 4-4 0-4-3-1-2 0-6 9-15zM1781 249l2 0 4 1 1 2 0 2-1 2-4 1-4-1-1-4zM1767 262l3 0 1 2 0 2-4 2-3 0-2-2 1-1zM1807 276l3 0 2 4 0 4-3 3-4-1-2-2 0-2 1-4zM2323 278l2 0 2 2 7 12 0 4 0 4-3 4-4 3-4 1-4-2-3-4-3-12 1-4 2-2zM1759 358l4 1 1 1 0 2-3 1-2-1-1-2z" fill="#d8a592"/><path d="M1841 72l5 0-3 3zM2115 72l5 0-1 3-2 0zM1891 88l4 2 1 2-3 2-4-1 0-3zM2305 122l2 2-2 2-1-2zM1919 130l4 0 5 2 3 2 1 4-2 2-3 1-8-1-2-2-1-4zM2289 156l4-1 3 3 0 4-2 2-5 1-4-3 1-4zM2373 163l8 3 3 2 0 2-5 4-7-2-2-2 0-2zM1865 212l4 0 3 4 0 4-3 3-5-1-5-4 0-2 1-2zM2117 214l2 0 2 2 0 4-2 2-2-1-2-3 0-2zM2387 242l4 1 2 3-2 12-8 9-4 3-4 0-4-4 0-4 1-4 9-13zM2321 282l4 0 2 2 5 10 0 4-2 4-5 4-4-1-2-1-3-4-1-4 1-8z" fill="#d59b87"/><path d="M1921 132l6 2 1 2-1 1-4 2-4-3 0-2zM2289 157l2 0 3 1 0 2-1 2-2 1-4-1 0-2zM1863 214l4 0 3 0 1 2-1 4-3 2-4-2-2-4zM2385 244l4 0 3 2-1 10-2 4-6 6-4 3-4 0-2-2-1-3 1-5 8-12zM2321 285l4 0 2 2 3 7-1 6-4 4-4 0-4-6 0-8z" fill="#d2917c"/><path d="M1865 216l3 0 1 2-2 1-2 0zM2385 246l4-1 2 3-2 10-8 9-4 1-2 0-2-4 1-6zM2323 288l4 2 2 6-2 5-4 1-3-2-1-4 1-6z" fill="#ce866f"/><path d="M2385 248l2-1 2 2 0 5-1 4-7 8-2 1-4-1-1-4 1-3zM2323 291l2 1 2 4-2 3-2 1-2-4 0-2z" fill="#cb7c63"/><path d="M2383 252l2-1 2 1-1 6-5 7-4 1-1-2 0-4 2-4z" fill="#c87358"/><path d="M2381 256l2-1 2 1-1 2-3 4-2 2-2-1 0-3z" fill="#c46a4d"/></g></g><g clip-path="url(#wd2)" fill="none" stroke="#111" stroke-width="1.00"><path d="M2061 230l-4 2 2 2 2 0 3-2-1-2-2 0M2033 237l-1 1 1 2 4-2-2-1-2 0M1983 244l-5 2 2 2 5 1 7-1 4-2-2-2-1 0-10 0M1963 246l-2 2 0 2 2 2 4-1 3-3 0-2-1 0-6 0M1841 302l-2 1-2 3-4 12 0 2 1 2 3 2 2 0 2-1 3-7 8-6 2-2 1-2-1-2-5-2-4-1-4 1" stroke-dasharray="3.4 1.5"/><path d="M1766 72l-3 4-10 3-2-1-1-6M1909 72l1 6 3 2 12 5 4 0 4-1 2-3 4-9M1952 72l1 2 2 3 4 2 4 1 2-2 0-6M1975 72l1 6 3 5 2 2 8 3 2 2 1 2-2 4 1 2 2 3 2 1 4-1 10-4 2 0 2 5 2 2 4-1 2 0 1 1 1 2 0 2-6 6 0 2 0 12 2 4 2 2 8 2 4 2 1 4-1 4-4 3-12 0-4-1-6-4-4 0-12 6-4 6-2 1-6 0-2 1 1 2 4 6-1 2-9 6-1 2 1 8 0 2-1 1-4-3-1-2 2-8-1-6 0-6-2-2-2 1-4 2-4 1-6-2-6-2-2 0-6 7-2 5-1 6 2 8-1 2-2-1-3-3-7-3-2-3-1-4 2-10 0-4-5-4-8-2-3-2-2-4-1-9-2 1-3 4-1 2-1 6-1 4-2 4-1 0-3 1-3-3-1-2 1-6-1-2-14 6-9 10 0 4 3 6-1 2-5 6-2 1-4-1-5-2-1-2 4-6 0-4-2-4-8-7-2-1-2 1-6 5-18 4-2 2-3 8-2 16-2 6-3 3-7 3-3 2 2 10 10 16 2-1 4-5 2-1 2-1 3 10 3 3 2 0 2 0 7-7 0-8 3-4 2-1 10 0 4-2 4-6 7-7 2-4 1-4 1 2 5 3 8-2 10 1 6-1 0 1-1 4 0 6-1 2-7 6-4 12 0 4 7 4 0 2-3 6-4 4-11 5-4 0-3-3 1-8-2-6-2-2-2 0-6 0-4 1-2 3-1 2 2 4 5 5 2 3-2 4-2 0-2 0-2-1-12-15-4 0-2 0-1 2 0 2 3 6 1 8 3 6-1 6-2 10 0 2-5 5-2 3 0 10-2 2-4 2-10 1-3 1-1 2-3 12 3 8 1 4-4 10 1 4 2 1 2 0 2-1 1-2 1-6 2-1 2 0 4 0 13 5 3 2 1 2 1 7 2 1 6 1 4-1 2-1 6-9 12-8 4-1 3 1 4 12-1 2-4 6 0 2 2 10 1 12-1 8 1 14 1 3 2 2 2 1 4 0 12 1 2 1 3 4-1 2-10 8-4 1-6-3-2 0-2 1-4 5-2 8-2 1-8-5-4-1-2 1-2 2 0 4 4 6 6 4 6 1 8-3 4 0 3 2 7 8 2 1 2 0 4-5 8-6 6-10 0-6-7-12 0-2 3-1 5-1 2 2 1 9 2 1 2-1 2-3 1-6 0-10 5-10 0-8 1-2 1-1 2 0 8 3 10 2 4-2 1-2-1-4-2-2-12-4-8 0-2-2 2-8 8-8 4-2 6-1 4 1 2 2 0 4 2 1 4-1 2-4 1-4-1-4-10-6-5-4-1-2 0-7 2-3 4-1 4 3 4 0 4-1 4-3 4-2 10 2 4-2 6-5 10-2 4 0 20 3 2-1 1-3 0-4-2-6 2-4 3-2 6-2 6-5 4-3 4 0 4 1 8 4 2 1 2-1 6-7 2-1 6 9 4 2 2-1 2-3 4-10 0-4-1-2-1-1-2 0-12 7-2-2-1-6 1-4 4-6 2-3 4-2 2 0 6 8 10 1 4 1 3 3 3 6 2 2 2 0 6-4 2 0 2 2 0 2-3 6-2 8-4 6-1 10 1 4 1 2 8 7 2 0 2-2 5-7 5-6 4-6 6-6 0-2-1-6-10-16 0-4 1-4-4-7-4-11 0-2 3-6 3-8 2-4 6-6 1-2-1-2-6-7-2-2-4 5-2 4 0 10-4 6-4 2-12-1-8 2-5 3-3 7-2 2-6 4-2 1-2-1-4-6-2-5 0-2 1-2 3-4 4-3 6-4 2-3 0-6-2-3-4-5 2-6-1-2-4-2-15-4-4-4-2-1-4 5-2 2-2 0-2-1-1-3 1-10 0-6-2-3-8 2-10 1-2 0-1-8 1-1 10 1 10-3 2 5 2 0 18-18 1-6 2-2 7-4 6-6 2-1 10 1 8-3 6-9 2-1 2 2 0 3-6 6-1 2 0 6-3 8-1 14 3 5 4 2 10-5 3-2 3-6 8-5 5-11 0-2-2-2-3-1-4 1-4 5-2-1-2-6 0-4 6-4 2-6 0-4-1-8 1-8-2-8-2-1-6 1-5 2-2 2 1 8-2 5-2 1-4-1-5-5-1-4 1-6-17 0-6-4-2 0-6 4-2 0-6-4-2-2-2-6-2-2 0-1-7 3 2 2 8 4 1 2-1 4-3 5-2 1-2 0-6-6-12-2-2 1-6 3-2 0-2-2 5-8 2-6-1-2-4-5-1-3M2010 72l1 4 1 2 3 2 6 1 2 5-4 5-8 5-2 0 0-2-6-6-1-6 1-10M2077 72l2 4 2 1 4-3 1-2M2155 72l1 8 3 6 7 6 1 2-2 6 1 2 7 7 2 1 4 1 10-1-3-16-2-6-1-4 0-4 3-8M2216 72l-3 12-15 14 1 2 6 3 4 1 10-5 2 1 3 6 5 6 1 4-3 8-3 20 2 4 6 6-1 8 1 2 7 7 4 2 4-1 4-3 4-9 4-6 1-2-2-10 4-6 3-2 6-2 4-3 6 0 6-3 2-2 1-2 0-6 1-6-1-2-3 0-6 4-2 0-4-10-4-2-6 0-2 0-1 2 0 2 2 2 11 6 4 0 0 2-2 2-4 6-8-2-8 2-6-3-2-3-2-8-2-2-5-4-3-6 1-12 5-12M2359 72l2 4 2 2 4 1 4-3 1-4M2393 72l-2 6 1 2 3 1 3-1 2-2 0-6M2430 72l-1 4-4 4-12 3-1 1 0 4 7 16 7 10 7 1 6 2 4 1 5-2 1-2 0-2-3-8-5-6-1-4 1-3 4-3 2-2 3-14M1733 87l10-4 4-1 2 0 2 2-1 2-2 2-9 7-2 2-4 1M1733 138l2-1 2-4 3-11 0-8 1-2 2-2 4-1 4 1 14 9 4 1 2 0 6-12 0-4-4-8-6-6-1-2 3-3 6-3 14-4 4-3 1-3M2457 162l-8-4-3 0-1 2 0 2 2 3 10 1M1733 168l2-2 0-2 0-2-2-2M2457 176l-6 1-2 1-1 2 1 5 2-1 6-3M2457 201l-6-1-2-4-2-3-2-2-6 1-2 4 0 6 2 3 4 1 6 0 8 3M1733 213l2-1 0-2-2-2M2457 233l-2 0-6 2-4 0-6-1-6-2-8-8-1-4 1-6-1-4-3-4-10-7-4-1-2 1-2 1 0 2 3 6 0 2-1 2-6 4-1 2 1 8 0 3-2 1-4-2-5 0-5 2-1 2 5 2 7-2 3-1 2 2 3 9-5 18-18 21-4 4-4 2-8-1-5-2-1-2 0-2 6-11 3-13 3-8 4-14 0-2-4-4-1-2 3-3 8-2 8-4 8 0 1-1-1-12 3-6-3-8-4-3-4-1-3 2-3 6-1 4 0 6-1 2-12 6-4 4-12 5-4 0-4-2-4-5-6-9-4-2-4-1-4 1-10 7 0 2 3 8 2 8 6 6 3 9 6 7 0 2-1 2-6 4 0 2 7 3 1 1 3 12 2 6 4 3 8 3 2 2-1 22 1 4 2 3 4 2 4 1 6 0 7 8 4 8 3 2 4-2 0-2-3-6 0-2 5-7 2 0 1 3 0 8 3 10-1 2-5 8-2 11-2-1-4-4-8 0-4-2-6-10-2-8-3-8-3-3-2-1-4 0-4 0-6 4-7 2-5 4-4-2-3-4-1-6-1-2-5-4-2-10-2-5-2-3-4-1-16-2-2 0-5 3-3 2-2 0-2-2 0-4 3-8-1-6-2-4-4-6-6-3-6-1-2 0-2 3-3 11 1 10 0 9-2 0-4-1-2 0-4 4-1 2 1 5 2 3 2 0 4-1 3-3 3-5 1-1 9 0 5 2 2 2 1 4-5 6-5 8-4 0-10-4-2 1-4 2-2-1-2-4-2-2-2-1-12 1-9 2-1 0-1-4 2-8-1-1-2-1-8 3-6 3-2 0-6-6-2 1-2 1-4 14 1 2 3 4 0 2-2 8 1 4 11 11 2 0 2-1 4-6 4 0 3 0 1 2 1 8 1 2 3 2 9 3 2 1 6 18 6 7 2 1 3-2 1-2 0-10 3-12 0-10 2-2 7-5 8-1 2-4 3-10 1-1 6-2 3-5 1-6 2-1 5-1 1 2 0 4 2 2 2 1 4 0 10-3 2 1 0 1 1 6 2 8 0 4-3 6-7 6-2 2-1 4 1 8 2 4 3 5 7 5-3 6-2 8-2 2-10-3-6 1-3 2-3 5-4 2-2 3 1 2 3 2 2-1 4-5 8-1 6 1 1 2 1 11 2 4 3 3 0 2-7 6-4 1-5-3-5-6-4-2-2 1-7 3-4 4-2 4-3 2-10-2-4 0-1 2 1 4 4 8 2 4-1 2-2 2-7 5-1 1-1 4M2457 289l-3-1-1-2 1-4 3-2M1733 310l6-2 3 0 4 2 3 4 6-6 6-9 2-2 2 0 2 1 6 6 4 1 6-3 2-2 1-2-3-4-6-4-4-1-8 2-2-1-8-3-2-3-4-7-5-5-1-2-1-8-5-6 1-2 4-6 1-4-1-4-3-6-6-2M2457 347l-12-1-4-1-8-3-8-6 0 8-1 4-1 2-4 2-3 2-3 4 1 2 5 2 6-2 2 1 2 1 2 6 12 8 1 2 0 2-3 4-12 9-4 1-8-2-4 0-6 2-6 1-2 1 2 4 2 2 7 4 2 2 1 6 4 8 1 8 3 3 14 0 2 0 4-3 9-6 7-2M1733 378l4 0 4-3 3-3 2-4-1-3-3-3-3-1-6-1M1733 447l8-6 4-7 1-4-3-10 2-4 2-2 2 0 8 1 8-1 8 4 2 1 2-1 1-2 1-12-2-6 1-2 9-5 1-3 0-2-3-4-4-2-8 0-22 9-10 0-8 3M2457 456l-5-2-2-8-3-4-8-5-2 0-2 0-8 7-6 1-3-1-2-2-3-8-4-2-4 0-10 6-12 4-1 2 0 2 1 2 8 4 6 6 3 4 0 6M1738 468l1-12-6-2M1833 468l5-10-1-4-4-2-2 0-6 4-2 0-6-8 0-4 4-12 4-6 2-1 8 1 3-2 2-2 1-6 2-4 2-1 8-1 3-4 0-2-4-4 0-2 5-8 0-4-2-4-8-6-2 0-4 5-2 1-10-2-2 0-1 2 1 8 11 8 1 4-1 4-2 2-19 10-4 0-8-3-4 2-11 9-1 10-2 4-4 4-8 4-1 2 2 10-1 3-4 2-10-2-2 2-1 3M1871 468l0-2-2-2-2 1-1 3M1966 468l-1-10 1-2 3-4 1-2-1-3-2-1-4-1-4 2-10-6-2-1-6 5-4-1-8-2-1 2-3 12 2 6 0 6M2074 468l0-10 3-4 2-8 1-2 3-1 2 0 6 2 4-1 1-4 1-6 2-2 6-4 2-2 2-8-1-2-3-2-8-1-6-2-6 0-8 3-2 0 0-4 2-8-1-2-7-3-8-1-2 0-2 10 2 10 2 3 4 1 6-2 3-2 1-1 2 9-1 8-3 7-4 4-4-1-6-2-4 3-4 6-7 5-1 8-3 6M2159 468l-2-4-12-4 0-8 0-4 4-1 4 1 8 6 8-2 4 1 4 3 4 7 4-7 4-2 2 1 4 5 2 0-2 2-1 6M2200 468l-1-5-2-3 1-2 3-1 13-3 1-2 0-7 7-7 2-8 3-4 2 0 6 5 4 1 2-2-1-8-3-6-4-2-12 0-8-2-10 3-4-2-5-3-2-4 0-8-5-2-2-2-1-2 1-2 1-2 9-3 1-3-1-2-1-2-11-8-4-2-2-1-2 2-10 11-6 4 0 8-8 12-1 6 1 6 4 4 7 4 1 2 1 2-1 2-2 1-6-2-4 1-3 2-5 8-2 1-15-5-2-2-1-2-2-2-4 2-2 2-1 2-3 10-6 8 1 4 2 4 1 6M2228 468l-1-2-2-2-4-2-2 1-2 5M2278 468l1-3 4-5-6-2-2-2-1-2 1-2 2-1 2-1 8 2 12-3 2-2 3-7 4-6-1-6 10-10 2-1 8 1 7-2 1-2-1-4-7-9-4-4 0-2 2-1 4 3 6 1 4-1 4-2 2 0 8 8 4 1 4-3 2 5 2 2 4 3 4 0 16-11 5-6-4-8 0-4 2-4-5-6 0-2 1-2 5 0 2 2 1 2-1 4 4 2 4 1 4-1 3-4 0-4-2-10-13-10-1-2 0-4 2-2 4-2 11-3 1-3 1 0 4-1 6 0 8-12 4-3 8-1 14 3M2371 468l-2-5-2-3-20-14-6 7-10 2-1 1-1 4-1 2-5 4-1 2M2434 468l0-6 2-2 3 0 5 0 3 2 2 6M2277 74l-2 1-2 4-1 3 5 13 2 2 4 0 8-3 10-3 3-9-1-2-4-1-6 1-4 0-6-2-6-4M2141 86l-1 2 1 1 1-3-1 0M2303 92l-1 2 1 2 2 2 4 1 3-1 1-2 0-2-2-1-4-1-4 0M1829 94l-4 2-8 6-2 2 0 3 1 3 3 3 10 5 4 1 3-3 2-4-4-14-3-3-2-1M2327 97l-3 5-5 10 0 4 4 6 1 6 2 2 3 2 12 1 1-1 0-2-1-6-2-2-5-4-1-2 4-10 0-4-4-5-4 0-2 0M1939 100l-4 2-4 4-4 6 0 2 2 2 6 1 2 1 3 6 2 2 7 3 3-1 1-2-1-4 1-2 2-1 2 0 2 3 0 2-3 4 2 8-1 8 2 2 4-3 3-5-3-10 0-4 3-6-1-1-4-4-6-7-12-5-4-1M1977 108l-2 2 1 2 3 3 2 0 2-1 1-2-1-2-4-2-2 0M1881 110l-2 2 0 2 2 7 9 3 3 4 6 5 2 1 1-8 0-4-3-2-6-10-4-1-8 1M1841 130l0 2 0 2 10 10 3-4 5-4 2-2-1-2-1-1-4-2-12 0-2 1M2349 134l-4 1-2 10-8 5-2 2 0 2 0 2 2 3 8 6 2 0 2 0 3-3 2-12 5-6 5-4 1-2-1-2-3-2-10 0M1883 139l-1 1 1 4 2 0 0-4-2-1M1853 144l-2 1 0 1 2 3 2-1-1-2-1-2M2181 144l-4 2-7 4-9 11-4 1-8 0-4 1-3 5-2 10-4 6 1 4 4 4 7 2 4 8 3 2 8 1 2 1 4 6 4 2 4 0 4-3 6-9 4 0 6 4 2 1 2-1 6-5 2 1 1 2 0 8 1 2 2 1 4-1 2-2 2-2 0-2 0-7-2-7 3-8-1-4-4-3-16-3-2-1-1-3 3-6-2-10-6-3-6-7-6-2M2001 162l2 0 2 1 6 7-2 2-6 2-6 5-4-4-7-5-1-2 2-2 14-4M1765 166l-1 2 3 6 0 6 2 2 2-3 1-9-3-3-2-1-2 0M2267 172l-4 2-10 2-6 4-1 2 0 24-1 10-1 2-3 2-14 2-10 6-2 2 4 8-1 4-3 3-2 0-2-1-5-6-1-4-2-6-4-5-4-3-4-1-2 1-2 2-7 12-4 14-8 10-4 12 0 2 1 3 4 1 4-3 3-7 3-1 4-1 3 2-3 12-4 8 0 2 4 2 4 1 5-3 1-4-2-16 3-4 3-1 4 0 4 0 12 5 6 4 2 1 3-1 2-2 1-4 13-16 1-4-3-6 0-2 1-2 8-8 3-2 7 0 2-2 2-2 1-8 7-6 3-4 2-4-3-10 2-2 2 0 10 2 4 0 2-2 1-6 6-2 0-2-1 0-2-1-4 1-10-5-4 1-6 3-2 0-6-5M2119 174l-2 1-4 3-2 4 1 2 3 4 4 2 2 0 2-1 2-3 1-4-3-5-4-3M2027 182l6-2 4 5 6 2 3 3 0 2-1 2-4 2-10 0-2 2 0 6-2 4-10 10-8 5-5 5-9 3-5-1-1-2 1-8 3 0 12-1 2-3-1-18-9-14 2-1 4 3 10 2 6 2 2 0 3-6 3-2M1823 188l2 0 4 0 1 0 1 2-2 6 0 2 2 4 1 4-3 4-2 0-5-2-1-2 4-8-3-6 1-4M1945 190l2-1 3 1 3 8 0 4-2 2-2 2-4-1-2-1-2-4 0-4 1-4 3-2M1775 191l0 1 6 12 4 2 2 0 2-2-4-9-2-3-8-1M1815 198l3 0 1 6-2 4-2 0-2-8 0-2 2 0M1927 208l2-1 1 1 5 9 4 9 0 4-6 6-4 2-8 0-6 2-5-2-3-2-1-4-6-6 0-4 3-2 7-2 7-4 4-1 6-5M1957 207l2 0 2 1 1 2 2 10 1 6-1 2-11 0 0-2-1-14 1-2 4-3M2059 210l4 0 2 1 1 3-1 2-4 2-10 2-2 0-1-2 2-2 9-6M1815 212l0 4-1-2 1-2M2297 220l-3 2-3 8 1 4 1 2 2 1 2-1 3-10-1-5-2-1M2349 235l2 0 1 1-1 2-2 0 0-3M2259 238l-1 2 1 2 2 0 1-2-1-1-2-1M2411 242l4 0 4 2 1 2-1 3-2 2-2-2-4-5 0-2M2443 248l2 0 2 2-2 4-2 1-2 0-2-3 0-2 4-2M2315 261l-14 9-2 4 2 4 2 0 4 0 4-1 3-3 6-12-3-1-2 0M2413 272l2-1 2 1 3 2 0 2-7 4-1-2 0-2 1-4M2409 284l2-1 4 4 2 0 6-4 2 2 9 13 1 2-2 4-2 1-6-1-4 1-2 1-2 4-2 2-2 0-13-4-1-2-1-2 1-6 2-4 8-10M1991 298l4 0 4 2 1 2-1 2-6 6-4 1-3-3-1-4 2-3 4-3M2381 306l3 0 2 2 1 4-2 4-6-1-2-3 1-4 3-2M2071 310l-6 4-2 2 0 2 4 0 10-4 1-2-1-2-2-1-4 1M1745 316l-3 2-1 2-2 10 1 2 6 4 5 3 4 1 2-2 0-14-2-4-6-6-4 2M1777 318l-1 2 0 2 1 2 4 3 4 0 4-5 0-2-4-2-6-1-2 1M1883 322l1 2-1 3-2 0 0-3 2-2M1923 330l4-1 2 1 2 4 1 4-1 4-2 3-2 1-4 1-2 0-2-2-1-5 1-6 2-3 2-1M2105 329l-1 1 0 2 1 8 8 8 9 14 3 6-1 4-5 6-2 2-4 0-1 2 7 5 6 0 5-3 3-6 2-2 6 1 10-3 0-2-1-4 1-4 2-2 5-4 1-2 2-8 5-8 0-2-1-1-4-1-12-1-12 1-10 4-6 1-4-2-8-8-4-2M2229 332l6-1 4 7 0 2-4 6-2 2-2 1-2 0-4-2-2-3-2-4 0-2 2-3 6-3M2015 352l-6 3-5 1-3 8-6 6-2 4-2 6 0 4 1 2 5 4 2 4 2 1 10-5 4-8 4-1 4 1 3 2 1 2 0 2-2 3-8 3 1 2 3 1 12-2 2-3 3-10 1-4-1-4-9-10-3-8-2-2-5-3-4 1M2067 354l-2 2 0 2 4 6 0 6 2 4 4 2 4-1 8 0 2-3-1-2-9-14-4-2-8 0M2329 354l8-1 8 3 6 1 4 1 4 4 7 10 5 4 6 4 1 2-1 4-4 2-10 1-4-3-4-7-6-1-6-2-4-1-4 1-6 4-4 1-6 5-6-2-2-2 1-2 7-4 2-4-1-10 1-4 4-3 4-1M1899 356l4-1 6 1 4 2 1 4 0 4 2 8 0 2-2 2-3 1-9-9-5-10 1-2 1-2M2045 356l0 2 2 2 2-2-2-2-2 0M1805 372l-4 2-1 2-1 2 2 4 2 1 10 1 4-2 1-2 0-2-2-4-2-2-3-1-6 1M2057 378l-2 2-1 2 0 2 1 2 2-1 3-5 0-2-3 0M2269 382l-4 2-1 2 2 2 7 4 2-2-2-4-2-3-2-1M2197 392l-2 4 2 2 5-2 0-2-1-2-2-1-2 1M2245 391l-4 6-6 3-1 4 3 4 10 0 4-1 2-3 0-6-2-4-2-2-2-1-2 0M1971 400l-2 0-1 2 0 2 7 6 4 6 2 2 4 1 5-1-1 0-4-5-8-7-3-6-3 0M1943 408l-2 2-1 4 1 4 2 3 4 3 2 0 4-2 4-2 0-2-2-3-8-7-4 0M2181 411l4 0 3 1 3 6 2 2 10 0 4 2 2 2 0 10-2 5-10 11-4 1-2 0-2-3 0-6 3-8-1-2-3-4-1-6-2-2-4 0-3-2 0-4 3-3M2123 416l-4 2 0 2 2 6 2 0 3-6 0-2-1-1-2-1M2399 416l-10 2-1 2 1 2 2 1 12-1 2-2-1-2-3-2-2 0M1993 418l-2 1 0 1 1 4 0 4-1 3-3 3 0 2 2 4 5 6 7 4 7 6 4 0 5-2 2-2 0-2-9-7-5-9 0-4 2-6-2-4-3-2-10 0M2025 422l-3 4 1 2 4 0 6-6-4-1-4 1M2037 426l-2 6-1 10 1 3 2 0 3-5 13-6 1-2-8-4-9-2M1743 454l-1 0-1 2 6 1 2-3-2-1-4 1M2065 454l4 2 0 2-4 2-2-1-1-3 1-1 2-1M2259 456l2-1 3 1 1 2-2 2-2 0-2-2-1-2 1 0M2385 248l2-1 2 2 0 5-1 4-3 4-4 4-2 1-4-1-1-2 0-2 1-3 2-3 8-8M2323 291l2 1 2 4-2 3-2 1-2-4 0-2 2-3"/></g><path clip-path="url(#fr2)" d="M2095.5 587 L1370.5 248.9M2095.5 587 L1440.2 128.1M2095.5 587 L1529.8 21.3M2095.5 587 L1636.6 -68.3M2095.5 587 L1757.4 -138M2095.5 587 L1888.4 -185.7M2095.5 587 L2025.8 -210M2095.5 587 L2165.2 -210M2095.5 587 L2302.6 -185.7M2095.5 587 L2433.6 -138M2095.5 587 L2554.4 -68.3M2095.5 587 L2661.2 21.3M2095.5 587 L2750.8 128.1M2095.5 587 L2820.5 248.9M1506 576.7 A589.6 589.6 0 0 1 2685 576.7M1584.8 578.1 A510.8 510.8 0 0 1 2606.2 578.1M1661.5 579.4 A434.1 434.1 0 0 1 2529.5 579.4M1736.4 580.7 A359.1 359.1 0 0 1 2454.6 580.7M1809.9 582 A285.6 285.6 0 0 1 2381.1 582M1882.3 583.3 A213.3 213.3 0 0 1 2308.7 583.3M1953.8 584.5 A141.7 141.7 0 0 1 2237.2 584.5" fill="none" stroke="#000" stroke-opacity="0.17" stroke-width="1.1"/><path clip-path="url(#fr2)" d="M1780 464.4 L1795 452 L1788 438.5 L1798 415 L1830 388.8 L1837.5 379.2 L1844.5 377.5 L1846 366.4 L1850.3 376 L1869.6 373.9 L1880.3 364.2 L1886 363.2 L1892 351.4 L1904.9 352.5 L1927.3 347.1 L1937 351 L1945.5 348.2 L1966.5 341.9 L1986 342.5 L1990 348.7 L1992.5 355 L1993 367.4 L1991 373.7 L1988.5 380 L1987.5 386 L1988.5 392.4 L1987 400 L1983 402 L1986 411.4 L1997.8 426.4 L2009.6 439.2 L2013.9 432.8 L2015 424.3 L2021.4 422.1 L2040 417.8 L2048.8 418.8 L2061.6 422.4 L2099.8 423 L2115.5 414 L2117.5 403.5 L2135 410 L2143 400 L2152.7 390.4 L2162.5 389 L2178 397 L2201.8 395 L2227 405.5 L2239 396.9 L2245 407 L2256.7 419.8 L2266.5 439.4 L2272 440.4 L2275.3 454 L2272.4 464.4 L2272.4 470 L1780 470 Z" fill="#000"/><path d="M1893 348.5 L1905 349.5 L1927.3 344.2 L1937 348 L1945.5 345.4 L1966.5 339 L1984 339.5M2144 397 L2153 387.6 L2162.5 386.2 L2178 394.2 L2201.8 392.2 L2227 402.6 L2239 394" fill="none" stroke="#000" stroke-width="1.7" stroke-dasharray="1.3 2.6"/><path d="M1988.5 348 L1992.5 353 L1995.5 367 L1993.5 374 L1991 380 L1990.5 386 L1991 392.4 L1989.5 400M1988.5 411.4 L1999.8 425.4 L2009.6 436" fill="none" stroke="#000" stroke-width="1.1" stroke-dasharray="4 1.2"/><path d="M2020 418.5 L2035 416 L2050 414.5 L2062 417 L2085 416.5 L2102 416 L2115 413 L2115.5 414 L2099.8 423 L2061.6 422.4 L2048.8 418.8 L2023 422.4 Z" fill="#fff"/><path d="M1813.3 299.5 L1821.4 288.4 L1832 273 L1842.8 273.8 L1851.3 271.7 L1859.9 260.6 L1869.5 251 L1885.5 247.7 L1902.7 245.2 L1919.8 241.3 L1932.6 238.1 L1945.4 236 L1947.1 228.5 L1954 228 L1969 231 L1984 233.4 L1992.5 231.7 L2001 228.5 L2016 229.6 L2031 226.8 L2040 222.8 L2060.3 218.8 L2077.2 210.3 L2094.2 205.2 L2111.1 201.8 L2138.2 203.5 L2155.1 210.3 L2168.6 217.1 L2178.8 227.2 L2195.7 237.4 L2205.9 239.1 L2216 252.6 L2229.6 259.4 L2243 271.2 L2256.7 283.1 L2261.7 291.6 L2260 303.4 L2266.8 315.3 L2266.8 325.4 L2277 335.6 L2290.5 352.5 L2302.4 372.8" fill="none" stroke="#0b8a0b" stroke-width="5" stroke-linejoin="round" stroke-linecap="round"/><path d="M1817.1 296 L1883.3 363.6" fill="none" stroke="#ff0000" stroke-width="11"/><rect x="1737" y="76.4" width="717" height="388" fill="none" stroke="#111" stroke-width="1.6"/><text x="1762.3" y="122" stroke="#000" stroke-width="0.5" style='font-family:"Liberation Sans",Arial,Helvetica,sans-serif;font-size:36.5px;font-weight:bold'>(C)</text><g style='font-family:"Liberation Sans",Arial,Helvetica,sans-serif;font-size:17px' fill="#000"><text x="1740.9" y="66" text-anchor="middle">160°E</text><text x="1858.8" y="66" text-anchor="middle">170°E</text><text x="1960" y="66" text-anchor="middle">180°</text><text x="2051.2" y="66" text-anchor="middle">170°W</text><text x="2140" y="66" text-anchor="middle">160°W</text><text x="2232" y="66" text-anchor="middle">150°W</text><text x="2332.4" y="66" text-anchor="middle">140°W</text><text x="2451.2" y="66" text-anchor="middle">130°W</text><text x="1759.2" y="484.5" text-anchor="middle">65°S</text><text x="1839" y="484.5" text-anchor="middle">70°S</text><text x="1921.2" y="484.5" text-anchor="middle">75°S</text><text x="2021.6" y="484.5" text-anchor="middle">80°S</text><text x="2169" y="484.5" text-anchor="middle">80°S</text><text x="2269.6" y="484.5" text-anchor="middle">75°S</text><text x="2352.4" y="484.5" text-anchor="middle">70°S</text><text x="2430.4" y="484.5" text-anchor="middle">65°S</text><text x="1728.2" y="229.5" text-anchor="end">150°E</text><text x="1728.2" y="336" text-anchor="end">140°E</text><text x="1728.2" y="421" text-anchor="end">130°E</text><text x="2462.8" y="124.7" text-anchor="start">50°S</text><text x="2462.8" y="229.5" text-anchor="start">55°S</text><text x="2462.8" y="348" text-anchor="start">60°S</text></g><g style='font-family:"Liberation Sans",Arial,Helvetica,sans-serif;font-size:37.6px;font-weight:bold' stroke="#000" stroke-width="0.7"><text x="140.2" y="28.8" textLength="424.3" lengthAdjust="spacingAndGlyphs">NO-SURFACE-FORCING</text><text x="966.3" y="28.8" textLength="572.9" lengthAdjust="spacingAndGlyphs">NO-SURFACE-FORCING + WALL</text><text x="2011.5" y="28.8" textLength="175.8" lengthAdjust="spacingAndGlyphs">Difference</text></g><rect x="71.4" y="506.4" width="7.6" height="26.8" fill="#1a1c44"/><rect x="78" y="506.4" width="7.6" height="26.8" fill="#1a1d45"/><rect x="84.6" y="506.4" width="7.6" height="26.8" fill="#1b1d46"/><rect x="91.2" y="506.4" width="7.6" height="26.8" fill="#1b1e47"/><rect x="97.8" y="506.4" width="7.6" height="26.8" fill="#1c1f48"/><rect x="104.4" y="506.4" width="7.6" height="26.8" fill="#1c1f49"/><rect x="111" y="506.4" width="7.6" height="26.8" fill="#1c204a"/><rect x="117.6" y="506.4" width="7.6" height="26.8" fill="#1c204b"/><rect x="124.3" y="506.4" width="7.6" height="26.8" fill="#1d214c"/><rect x="130.9" y="506.4" width="7.6" height="26.8" fill="#1d214c"/><rect x="137.5" y="506.4" width="7.6" height="26.8" fill="#1e224d"/><rect x="144.1" y="506.4" width="7.6" height="26.8" fill="#1e224e"/><rect x="150.7" y="506.4" width="7.6" height="26.8" fill="#1e234f"/><rect x="157.3" y="506.4" width="7.6" height="26.8" fill="#1e2350"/><rect x="163.9" y="506.4" width="7.6" height="26.8" fill="#1f2451"/><rect x="170.5" y="506.4" width="7.6" height="26.8" fill="#1f2552"/><rect x="177.1" y="506.4" width="7.6" height="26.8" fill="#202553"/><rect x="183.7" y="506.4" width="7.6" height="26.8" fill="#202654"/><rect x="190.3" y="506.4" width="7.6" height="26.8" fill="#202655"/><rect x="196.9" y="506.4" width="7.6" height="26.8" fill="#212756"/><rect x="203.5" y="506.4" width="7.6" height="26.8" fill="#212858"/><rect x="210.1" y="506.4" width="7.6" height="26.8" fill="#222959"/><rect x="216.8" y="506.4" width="7.6" height="26.8" fill="#222a5b"/><rect x="223.4" y="506.4" width="7.6" height="26.8" fill="#222a5d"/><rect x="230" y="506.4" width="7.6" height="26.8" fill="#232b5e"/><rect x="236.6" y="506.4" width="7.6" height="26.8" fill="#232c60"/><rect x="243.2" y="506.4" width="7.6" height="26.8" fill="#242d61"/><rect x="249.8" y="506.4" width="7.6" height="26.8" fill="#242d63"/><rect x="256.4" y="506.4" width="7.6" height="26.8" fill="#252e64"/><rect x="263" y="506.4" width="7.6" height="26.8" fill="#252f66"/><rect x="269.6" y="506.4" width="7.6" height="26.8" fill="#263067"/><rect x="276.2" y="506.4" width="7.6" height="26.8" fill="#263169"/><rect x="282.8" y="506.4" width="7.6" height="26.8" fill="#26316b"/><rect x="289.4" y="506.4" width="7.6" height="26.8" fill="#27326c"/><rect x="296" y="506.4" width="7.6" height="26.8" fill="#27336e"/><rect x="302.6" y="506.4" width="7.6" height="26.8" fill="#28346f"/><rect x="309.3" y="506.4" width="7.6" height="26.8" fill="#283573"/><rect x="315.9" y="506.4" width="7.6" height="26.8" fill="#293678"/><rect x="322.5" y="506.4" width="7.6" height="26.8" fill="#2a377d"/><rect x="329.1" y="506.4" width="7.6" height="26.8" fill="#2b3882"/><rect x="335.7" y="506.4" width="7.6" height="26.8" fill="#2b3987"/><rect x="342.3" y="506.4" width="7.6" height="26.8" fill="#2c3a8d"/><rect x="348.9" y="506.4" width="7.6" height="26.8" fill="#2c3d95"/><rect x="355.5" y="506.4" width="7.6" height="26.8" fill="#2b3f9d"/><rect x="362.1" y="506.4" width="7.6" height="26.8" fill="#2b42a5"/><rect x="368.7" y="506.4" width="7.6" height="26.8" fill="#2a45ad"/><rect x="375.3" y="506.4" width="7.6" height="26.8" fill="#2a47b6"/><rect x="381.9" y="506.4" width="7.6" height="26.8" fill="#2949b9"/><rect x="388.5" y="506.4" width="7.6" height="26.8" fill="#274bbb"/><rect x="395.1" y="506.4" width="7.6" height="26.8" fill="#254dbc"/><rect x="401.7" y="506.4" width="7.6" height="26.8" fill="#234fbe"/><rect x="408.4" y="506.4" width="7.6" height="26.8" fill="#2151c0"/><rect x="415" y="506.4" width="7.6" height="26.8" fill="#1f53c2"/><rect x="421.6" y="506.4" width="7.6" height="26.8" fill="#1d55c3"/><rect x="428.2" y="506.4" width="7.6" height="26.8" fill="#1b57c4"/><rect x="434.8" y="506.4" width="7.6" height="26.8" fill="#1958c3"/><rect x="441.4" y="506.4" width="7.6" height="26.8" fill="#175ac2"/><rect x="448" y="506.4" width="7.6" height="26.8" fill="#155cc2"/><rect x="454.6" y="506.4" width="7.6" height="26.8" fill="#135dc1"/><rect x="461.2" y="506.4" width="7.6" height="26.8" fill="#115fc0"/><rect x="467.8" y="506.4" width="7.6" height="26.8" fill="#1061c0"/><rect x="474.4" y="506.4" width="7.6" height="26.8" fill="#1262c0"/><rect x="481" y="506.4" width="7.6" height="26.8" fill="#1364c0"/><rect x="487.6" y="506.4" width="7.6" height="26.8" fill="#1466c0"/><rect x="494.2" y="506.4" width="7.6" height="26.8" fill="#1567c0"/><rect x="500.9" y="506.4" width="7.6" height="26.8" fill="#1669c0"/><rect x="507.5" y="506.4" width="7.6" height="26.8" fill="#186bc0"/><rect x="514.1" y="506.4" width="7.6" height="26.8" fill="#196cc0"/><rect x="520.7" y="506.4" width="7.6" height="26.8" fill="#1a6ec0"/><rect x="527.3" y="506.4" width="7.6" height="26.8" fill="#1b6fc0"/><rect x="533.9" y="506.4" width="7.6" height="26.8" fill="#1b70c0"/><rect x="540.5" y="506.4" width="7.6" height="26.8" fill="#1c71bf"/><rect x="547.1" y="506.4" width="7.6" height="26.8" fill="#1d72bf"/><rect x="553.7" y="506.4" width="7.6" height="26.8" fill="#1d73bf"/><rect x="560.3" y="506.4" width="7.6" height="26.8" fill="#1e74bf"/><rect x="566.9" y="506.4" width="7.6" height="26.8" fill="#1e75bf"/><rect x="573.5" y="506.4" width="7.6" height="26.8" fill="#1f76be"/><rect x="580.1" y="506.4" width="7.6" height="26.8" fill="#2077be"/><rect x="586.7" y="506.4" width="7.6" height="26.8" fill="#2178be"/><rect x="593.3" y="506.4" width="7.6" height="26.8" fill="#227abe"/><rect x="600" y="506.4" width="7.6" height="26.8" fill="#247bbe"/><rect x="606.6" y="506.4" width="7.6" height="26.8" fill="#267cbe"/><rect x="613.2" y="506.4" width="7.6" height="26.8" fill="#277ebe"/><rect x="619.8" y="506.4" width="7.6" height="26.8" fill="#297fbe"/><rect x="626.4" y="506.4" width="7.6" height="26.8" fill="#2b80bd"/><rect x="633" y="506.4" width="7.6" height="26.8" fill="#2c81bd"/><rect x="639.6" y="506.4" width="7.6" height="26.8" fill="#2e83bd"/><rect x="646.2" y="506.4" width="7.6" height="26.8" fill="#3084bd"/><rect x="652.8" y="506.4" width="7.6" height="26.8" fill="#3185bd"/><rect x="659.4" y="506.4" width="7.6" height="26.8" fill="#3386bd"/><rect x="666" y="506.4" width="7.6" height="26.8" fill="#3588bd"/><rect x="672.6" y="506.4" width="7.6" height="26.8" fill="#3789bd"/><rect x="679.2" y="506.4" width="7.6" height="26.8" fill="#398abd"/><rect x="685.8" y="506.4" width="7.6" height="26.8" fill="#3b8cbd"/><rect x="692.5" y="506.4" width="7.6" height="26.8" fill="#3d8dbd"/><rect x="699.1" y="506.4" width="7.6" height="26.8" fill="#3f8ebd"/><rect x="705.7" y="506.4" width="7.6" height="26.8" fill="#4190be"/><rect x="712.3" y="506.4" width="7.6" height="26.8" fill="#4391be"/><rect x="718.9" y="506.4" width="7.6" height="26.8" fill="#4592be"/><rect x="725.5" y="506.4" width="7.6" height="26.8" fill="#4794be"/><rect x="732.1" y="506.4" width="7.6" height="26.8" fill="#4995be"/><rect x="738.7" y="506.4" width="7.6" height="26.8" fill="#4b96be"/><rect x="745.3" y="506.4" width="7.6" height="26.8" fill="#4d98be"/><rect x="751.9" y="506.4" width="7.6" height="26.8" fill="#5099be"/><rect x="758.5" y="506.4" width="7.6" height="26.8" fill="#529abe"/><rect x="765.1" y="506.4" width="7.6" height="26.8" fill="#549bbe"/><rect x="771.7" y="506.4" width="7.6" height="26.8" fill="#579cbe"/><rect x="778.3" y="506.4" width="7.6" height="26.8" fill="#599dbe"/><rect x="785" y="506.4" width="7.6" height="26.8" fill="#5b9ebf"/><rect x="791.6" y="506.4" width="7.6" height="26.8" fill="#5d9fbf"/><rect x="798.2" y="506.4" width="7.6" height="26.8" fill="#60a0bf"/><rect x="804.8" y="506.4" width="7.6" height="26.8" fill="#62a1bf"/><rect x="811.4" y="506.4" width="7.6" height="26.8" fill="#64a2bf"/><rect x="818" y="506.4" width="7.6" height="26.8" fill="#67a3bf"/><rect x="824.6" y="506.4" width="7.6" height="26.8" fill="#69a5bf"/><rect x="831.2" y="506.4" width="7.6" height="26.8" fill="#6ca6bf"/><rect x="837.8" y="506.4" width="7.6" height="26.8" fill="#6fa7bf"/><rect x="844.4" y="506.4" width="7.6" height="26.8" fill="#71a9bf"/><rect x="851" y="506.4" width="7.6" height="26.8" fill="#74aabf"/><rect x="857.6" y="506.4" width="7.6" height="26.8" fill="#77abbf"/><rect x="864.2" y="506.4" width="7.6" height="26.8" fill="#79adbf"/><rect x="870.8" y="506.4" width="7.6" height="26.8" fill="#7caec0"/><rect x="877.4" y="506.4" width="7.6" height="26.8" fill="#7eafc0"/><rect x="884.1" y="506.4" width="7.6" height="26.8" fill="#80b0c0"/><rect x="890.7" y="506.4" width="7.6" height="26.8" fill="#83b1c1"/><rect x="897.3" y="506.4" width="7.6" height="26.8" fill="#85b2c1"/><rect x="903.9" y="506.4" width="7.6" height="26.8" fill="#87b4c2"/><rect x="910.5" y="506.4" width="7.6" height="26.8" fill="#89b5c2"/><rect x="917.1" y="506.4" width="7.6" height="26.8" fill="#8cb6c3"/><rect x="923.7" y="506.4" width="7.6" height="26.8" fill="#8eb7c3"/><rect x="930.3" y="506.4" width="7.6" height="26.8" fill="#90b8c3"/><rect x="936.9" y="506.4" width="7.6" height="26.8" fill="#93b9c4"/><rect x="943.5" y="506.4" width="7.6" height="26.8" fill="#95bac4"/><rect x="950.1" y="506.4" width="7.6" height="26.8" fill="#97bbc5"/><rect x="956.7" y="506.4" width="7.6" height="26.8" fill="#99bcc6"/><rect x="963.3" y="506.4" width="7.6" height="26.8" fill="#9bbdc6"/><rect x="969.9" y="506.4" width="7.6" height="26.8" fill="#9ebec7"/><rect x="976.6" y="506.4" width="7.6" height="26.8" fill="#a0bfc8"/><rect x="983.2" y="506.4" width="7.6" height="26.8" fill="#a2bfc8"/><rect x="989.8" y="506.4" width="7.6" height="26.8" fill="#a4c0c9"/><rect x="996.4" y="506.4" width="7.6" height="26.8" fill="#a6c1ca"/><rect x="1003" y="506.4" width="7.6" height="26.8" fill="#a9c2ca"/><rect x="1009.6" y="506.4" width="7.6" height="26.8" fill="#abc3cb"/><rect x="1016.2" y="506.4" width="7.6" height="26.8" fill="#adc4cc"/><rect x="1022.8" y="506.4" width="7.6" height="26.8" fill="#afc5cc"/><rect x="1029.4" y="506.4" width="7.6" height="26.8" fill="#b1c6cd"/><rect x="1036" y="506.4" width="7.6" height="26.8" fill="#b4c7ce"/><rect x="1042.6" y="506.4" width="7.6" height="26.8" fill="#b6c9cf"/><rect x="1049.2" y="506.4" width="7.6" height="26.8" fill="#b8cad0"/><rect x="1055.8" y="506.4" width="7.6" height="26.8" fill="#bbcbd1"/><rect x="1062.4" y="506.4" width="7.6" height="26.8" fill="#bdccd2"/><rect x="1069.1" y="506.4" width="7.6" height="26.8" fill="#bfcdd3"/><rect x="1075.7" y="506.4" width="7.6" height="26.8" fill="#c1ced4"/><rect x="1082.3" y="506.4" width="7.6" height="26.8" fill="#c2cfd5"/><rect x="1088.9" y="506.4" width="7.6" height="26.8" fill="#c4d0d6"/><rect x="1095.5" y="506.4" width="7.6" height="26.8" fill="#c6d1d7"/><rect x="1102.1" y="506.4" width="7.6" height="26.8" fill="#c8d2d7"/><rect x="1108.7" y="506.4" width="7.6" height="26.8" fill="#cad3d8"/><rect x="1115.3" y="506.4" width="7.6" height="26.8" fill="#ccd4d9"/><rect x="1121.9" y="506.4" width="7.6" height="26.8" fill="#cdd5da"/><rect x="1128.5" y="506.4" width="7.6" height="26.8" fill="#cfd6db"/><rect x="1135.1" y="506.4" width="7.6" height="26.8" fill="#d1d7dc"/><rect x="1141.7" y="506.4" width="7.6" height="26.8" fill="#d3d9dd"/><rect x="1148.3" y="506.4" width="7.6" height="26.8" fill="#d5dade"/><rect x="1154.9" y="506.4" width="7.6" height="26.8" fill="#d6dbdf"/><rect x="1161.5" y="506.4" width="7.6" height="26.8" fill="#d8dce0"/><rect x="1168.2" y="506.4" width="7.6" height="26.8" fill="#dadde1"/><rect x="1174.8" y="506.4" width="7.6" height="26.8" fill="#dbdee2"/><rect x="1181.4" y="506.4" width="7.6" height="26.8" fill="#dde0e3"/><rect x="1188" y="506.4" width="7.6" height="26.8" fill="#dfe1e4"/><rect x="1194.6" y="506.4" width="7.6" height="26.8" fill="#e0e2e5"/><rect x="1201.2" y="506.4" width="7.6" height="26.8" fill="#e2e3e6"/><rect x="1207.8" y="506.4" width="7.6" height="26.8" fill="#e4e4e7"/><rect x="1214.4" y="506.4" width="7.6" height="26.8" fill="#e5e6e8"/><rect x="1221" y="506.4" width="7.6" height="26.8" fill="#e7e7e8"/><rect x="1227.6" y="506.4" width="7.6" height="26.8" fill="#e9e8e9"/><rect x="1234.2" y="506.4" width="7.6" height="26.8" fill="#ebe9e9"/><rect x="1240.8" y="506.4" width="7.6" height="26.8" fill="#edeaea"/><rect x="1247.4" y="506.4" width="7.6" height="26.8" fill="#eeebea"/><rect x="1254" y="506.4" width="7.6" height="26.8" fill="#f0eceb"/><rect x="1260.7" y="506.4" width="7.6" height="26.8" fill="#f0eae8"/><rect x="1267.3" y="506.4" width="7.6" height="26.8" fill="#efe5e1"/><rect x="1273.9" y="506.4" width="7.6" height="26.8" fill="#edded8"/><rect x="1280.5" y="506.4" width="7.6" height="26.8" fill="#ead6cf"/><rect x="1287.1" y="506.4" width="7.6" height="26.8" fill="#e7cfc6"/><rect x="1293.7" y="506.4" width="7.6" height="26.8" fill="#e4c7bd"/><rect x="1300.3" y="506.4" width="7.6" height="26.8" fill="#e1c0b4"/><rect x="1306.9" y="506.4" width="7.6" height="26.8" fill="#deb9ab"/><rect x="1313.5" y="506.4" width="7.6" height="26.8" fill="#dcb2a3"/><rect x="1320.1" y="506.4" width="7.6" height="26.8" fill="#daac9c"/><rect x="1326.7" y="506.4" width="7.6" height="26.8" fill="#d8a794"/><rect x="1333.3" y="506.4" width="7.6" height="26.8" fill="#d6a18d"/><rect x="1339.9" y="506.4" width="7.6" height="26.8" fill="#d59b87"/><rect x="1346.5" y="506.4" width="7.6" height="26.8" fill="#d39580"/><rect x="1353.1" y="506.4" width="7.6" height="26.8" fill="#d18f79"/><rect x="1359.8" y="506.4" width="7.6" height="26.8" fill="#cf8872"/><rect x="1366.4" y="506.4" width="7.6" height="26.8" fill="#cc816a"/><rect x="1373" y="506.4" width="7.6" height="26.8" fill="#cb7c63"/><rect x="1379.6" y="506.4" width="7.6" height="26.8" fill="#c9765c"/><rect x="1386.2" y="506.4" width="7.6" height="26.8" fill="#c77155"/><rect x="1392.8" y="506.4" width="7.6" height="26.8" fill="#c56c4f"/><rect x="1399.4" y="506.4" width="7.6" height="26.8" fill="#c3674a"/><rect x="1406" y="506.4" width="7.6" height="26.8" fill="#c16244"/><rect x="1412.6" y="506.4" width="7.6" height="26.8" fill="#c05d3f"/><rect x="1419.2" y="506.4" width="7.6" height="26.8" fill="#bd563a"/><rect x="1425.8" y="506.4" width="7.6" height="26.8" fill="#bb4f36"/><rect x="1432.4" y="506.4" width="7.6" height="26.8" fill="#b84832"/><rect x="1439" y="506.4" width="7.6" height="26.8" fill="#b6412d"/><rect x="1445.6" y="506.4" width="7.6" height="26.8" fill="#b33b2a"/><rect x="1452.3" y="506.4" width="7.6" height="26.8" fill="#b03629"/><rect x="1458.9" y="506.4" width="7.6" height="26.8" fill="#ae3227"/><rect x="1465.5" y="506.4" width="7.6" height="26.8" fill="#ab2d26"/><rect x="1472.1" y="506.4" width="7.6" height="26.8" fill="#a52727"/><rect x="1478.7" y="506.4" width="7.6" height="26.8" fill="#9f2128"/><rect x="1485.3" y="506.4" width="7.6" height="26.8" fill="#9a1d2b"/><rect x="1491.9" y="506.4" width="7.6" height="26.8" fill="#961a2d"/><rect x="1498.5" y="506.4" width="7.6" height="26.8" fill="#911630"/><rect x="1505.1" y="506.4" width="7.6" height="26.8" fill="#8b1430"/><rect x="1511.7" y="506.4" width="7.6" height="26.8" fill="#851231"/><rect x="1518.3" y="506.4" width="7.6" height="26.8" fill="#7f1132"/><rect x="1524.9" y="506.4" width="7.6" height="26.8" fill="#781031"/><rect x="1531.5" y="506.4" width="7.6" height="26.8" fill="#71102e"/><rect x="1538.1" y="506.4" width="7.6" height="26.8" fill="#6b102c"/><rect x="1544.8" y="506.4" width="7.6" height="26.8" fill="#640f29"/><rect x="1551.4" y="506.4" width="7.6" height="26.8" fill="#5d0e26"/><rect x="1558" y="506.4" width="7.6" height="26.8" fill="#570e23"/><rect x="1564.6" y="506.4" width="7.6" height="26.8" fill="#510d20"/><rect x="1571.2" y="506.4" width="7.6" height="26.8" fill="#4b0c1d"/><rect x="1577.8" y="506.4" width="7.6" height="26.8" fill="#450b1a"/><rect x="1584.4" y="506.4" width="7.6" height="26.8" fill="#3f0a17"/><path d="M71.6 506.4 L46 519.8 L71.6 533.2 Z" fill="#1a1c44"/><path d="M1591.2 506.4 L1617 519.8 L1591.2 533.2 Z" fill="#3c0a16"/><path d="M71.6 506.4 L1591.2 506.4 L1617 519.8 L1591.2 533.2 L71.6 533.2 L46 519.8 Z" fill="none" stroke="#000" stroke-width="1.2"/><path d="M71.6 533.2 v8.4M203.7 533.2 v8.4M335.9 533.2 v8.4M468 533.2 v8.4M600.2 533.2 v8.4M732.3 533.2 v8.4M864.4 533.2 v8.4M996.6 533.2 v8.4M1062.6 533.2 v8.4M1095.7 533.2 v8.4M1128.7 533.2 v8.4M1161.7 533.2 v8.4M1194.8 533.2 v8.4M1227.8 533.2 v8.4M1260.9 533.2 v8.4M1293.9 533.2 v8.4M1326.9 533.2 v8.4M1360 533.2 v8.4M1393 533.2 v8.4M1426 533.2 v8.4M1459.1 533.2 v8.4M1525.1 533.2 v8.4M1591.2 533.2 v8.4" stroke="#111" stroke-width="1.6"/><g style='font-family:"Liberation Sans",Arial,Helvetica,sans-serif;font-size:17px'><text x="71.6" y="558.4" text-anchor="middle">−180</text><text x="203.7" y="558.4" text-anchor="middle">−160</text><text x="335.9" y="558.4" text-anchor="middle">−140</text><text x="468" y="558.4" text-anchor="middle">−120</text><text x="600.2" y="558.4" text-anchor="middle">−100</text><text x="732.3" y="558.4" text-anchor="middle">−80</text><text x="864.4" y="558.4" text-anchor="middle">−60</text><text x="996.6" y="558.4" text-anchor="middle">−40</text><text x="1062.6" y="558.4" text-anchor="middle">−30</text><text x="1095.7" y="558.4" text-anchor="middle">−25</text><text x="1128.7" y="558.4" text-anchor="middle">−20</text><text x="1161.7" y="558.4" text-anchor="middle">−15</text><text x="1194.8" y="558.4" text-anchor="middle">−10</text><text x="1227.8" y="558.4" text-anchor="middle">−5</text><text x="1260.9" y="558.4" text-anchor="middle">0</text><text x="1293.9" y="558.4" text-anchor="middle">5</text><text x="1326.9" y="558.4" text-anchor="middle">10</text><text x="1360" y="558.4" text-anchor="middle">15</text><text x="1393" y="558.4" text-anchor="middle">20</text><text x="1426" y="558.4" text-anchor="middle">25</text><text x="1459.1" y="558.4" text-anchor="middle">30</text><text x="1525.1" y="558.4" text-anchor="middle">40</text><text x="1591.2" y="558.4" text-anchor="middle">50</text></g><rect x="1759.6" y="506.4" width="12.2" height="26.8" fill="#1b1e47"/><rect x="1770.8" y="506.4" width="12.2" height="26.8" fill="#1d214c"/><rect x="1781.9" y="506.4" width="12.2" height="26.8" fill="#1f2451"/><rect x="1793.1" y="506.4" width="12.2" height="26.8" fill="#212859"/><rect x="1804.3" y="506.4" width="12.2" height="26.8" fill="#242d62"/><rect x="1815.4" y="506.4" width="12.2" height="26.8" fill="#27326b"/><rect x="1826.6" y="506.4" width="12.2" height="26.8" fill="#2a3780"/><rect x="1837.8" y="506.4" width="12.2" height="26.8" fill="#2b43a9"/><rect x="1849" y="506.4" width="12.2" height="26.8" fill="#2250bf"/><rect x="1860.1" y="506.4" width="12.2" height="26.8" fill="#165bc2"/><rect x="1871.3" y="506.4" width="12.2" height="26.8" fill="#1365c0"/><rect x="1882.5" y="506.4" width="12.2" height="26.8" fill="#1a6fc0"/><rect x="1893.6" y="506.4" width="12.2" height="26.8" fill="#1e75bf"/><rect x="1904.8" y="506.4" width="12.2" height="26.8" fill="#257cbe"/><rect x="1916" y="506.4" width="12.2" height="26.8" fill="#2f83bd"/><rect x="1927.1" y="506.4" width="12.2" height="26.8" fill="#3a8bbd"/><rect x="1938.3" y="506.4" width="12.2" height="26.8" fill="#4693be"/><rect x="1949.5" y="506.4" width="12.2" height="26.8" fill="#539abe"/><rect x="1960.7" y="506.4" width="12.2" height="26.8" fill="#61a1bf"/><rect x="1971.8" y="506.4" width="12.2" height="26.8" fill="#70a8bf"/><rect x="1983" y="506.4" width="12.2" height="26.8" fill="#7fb0c0"/><rect x="1994.2" y="506.4" width="12.2" height="26.8" fill="#8db6c3"/><rect x="2005.3" y="506.4" width="12.2" height="26.8" fill="#9abcc6"/><rect x="2016.5" y="506.4" width="12.2" height="26.8" fill="#a7c1ca"/><rect x="2027.7" y="506.4" width="12.2" height="26.8" fill="#b5c8cf"/><rect x="2038.8" y="506.4" width="12.2" height="26.8" fill="#c1cfd4"/><rect x="2050" y="506.4" width="12.2" height="26.8" fill="#ccd5d9"/><rect x="2061.2" y="506.4" width="12.2" height="26.8" fill="#d7dcdf"/><rect x="2072.4" y="506.4" width="12.2" height="26.8" fill="#e1e3e5"/><rect x="2083.5" y="506.4" width="12.2" height="26.8" fill="#ece9ea"/><rect x="2094.7" y="506.4" width="12.2" height="26.8" fill="#f0e8e6"/><rect x="2105.9" y="506.4" width="12.2" height="26.8" fill="#edded8"/><rect x="2117" y="506.4" width="12.2" height="26.8" fill="#e8d1c9"/><rect x="2128.2" y="506.4" width="12.2" height="26.8" fill="#e3c5ba"/><rect x="2139.4" y="506.4" width="12.2" height="26.8" fill="#deb9ab"/><rect x="2150.6" y="506.4" width="12.2" height="26.8" fill="#daae9e"/><rect x="2161.7" y="506.4" width="12.2" height="26.8" fill="#d8a592"/><rect x="2172.9" y="506.4" width="12.2" height="26.8" fill="#d59b87"/><rect x="2184.1" y="506.4" width="12.2" height="26.8" fill="#d2917c"/><rect x="2195.2" y="506.4" width="12.2" height="26.8" fill="#ce866f"/><rect x="2206.4" y="506.4" width="12.2" height="26.8" fill="#cb7c63"/><rect x="2217.6" y="506.4" width="12.2" height="26.8" fill="#c87358"/><rect x="2228.7" y="506.4" width="12.2" height="26.8" fill="#c46a4d"/><rect x="2239.9" y="506.4" width="12.2" height="26.8" fill="#c16244"/><rect x="2251.1" y="506.4" width="12.2" height="26.8" fill="#be583c"/><rect x="2262.2" y="506.4" width="12.2" height="26.8" fill="#ba4c34"/><rect x="2273.4" y="506.4" width="12.2" height="26.8" fill="#b6412d"/><rect x="2284.6" y="506.4" width="12.2" height="26.8" fill="#b13829"/><rect x="2295.8" y="506.4" width="12.2" height="26.8" fill="#ad3027"/><rect x="2306.9" y="506.4" width="12.2" height="26.8" fill="#a52727"/><rect x="2318.1" y="506.4" width="12.2" height="26.8" fill="#9c1f2a"/><rect x="2329.3" y="506.4" width="12.2" height="26.8" fill="#94182e"/><rect x="2340.4" y="506.4" width="12.2" height="26.8" fill="#8b1430"/><rect x="2351.6" y="506.4" width="12.2" height="26.8" fill="#811131"/><rect x="2362.8" y="506.4" width="12.2" height="26.8" fill="#761030"/><rect x="2374" y="506.4" width="12.2" height="26.8" fill="#6b102c"/><rect x="2385.1" y="506.4" width="12.2" height="26.8" fill="#600f27"/><rect x="2396.3" y="506.4" width="12.2" height="26.8" fill="#550d22"/><rect x="2407.5" y="506.4" width="12.2" height="26.8" fill="#4b0c1d"/><rect x="2418.6" y="506.4" width="12.2" height="26.8" fill="#410b18"/><path d="M1759.8 506.4 L1735.6 519.8 L1759.8 533.2 Z" fill="#1a1c44"/><path d="M2430 506.4 L2454.4 519.8 L2430 533.2 Z" fill="#3c0a16"/><path d="M1759.8 506.4 L2430 506.4 L2454.4 519.8 L2430 533.2 L1759.8 533.2 L1735.6 519.8 Z" fill="none" stroke="#000" stroke-width="1.2"/><path d="M1759.8 533.2 v8.4M1815.6 533.2 v8.4M1871.5 533.2 v8.4M1927.3 533.2 v8.4M1983.2 533.2 v8.4M2039 533.2 v8.4M2094.9 533.2 v8.4M2150.8 533.2 v8.4M2206.6 533.2 v8.4M2262.4 533.2 v8.4M2318.3 533.2 v8.4M2374.2 533.2 v8.4M2430 533.2 v8.4" stroke="#111" stroke-width="1.6"/><g style='font-family:"Liberation Sans",Arial,Helvetica,sans-serif;font-size:17px'><text x="1759.8" y="558.4" text-anchor="middle">−30</text><text x="1815.6" y="558.4" text-anchor="middle">−25</text><text x="1871.5" y="558.4" text-anchor="middle">−20</text><text x="1927.3" y="558.4" text-anchor="middle">−15</text><text x="1983.2" y="558.4" text-anchor="middle">−10</text><text x="2039" y="558.4" text-anchor="middle">−5</text><text x="2094.9" y="558.4" text-anchor="middle">0</text><text x="2150.8" y="558.4" text-anchor="middle">5</text><text x="2206.6" y="558.4" text-anchor="middle">10</text><text x="2262.4" y="558.4" text-anchor="middle">15</text><text x="2318.3" y="558.4" text-anchor="middle">20</text><text x="2374.2" y="558.4" text-anchor="middle">25</text><text x="2430" y="558.4" text-anchor="middle">30</text></g></svg></body></html>
